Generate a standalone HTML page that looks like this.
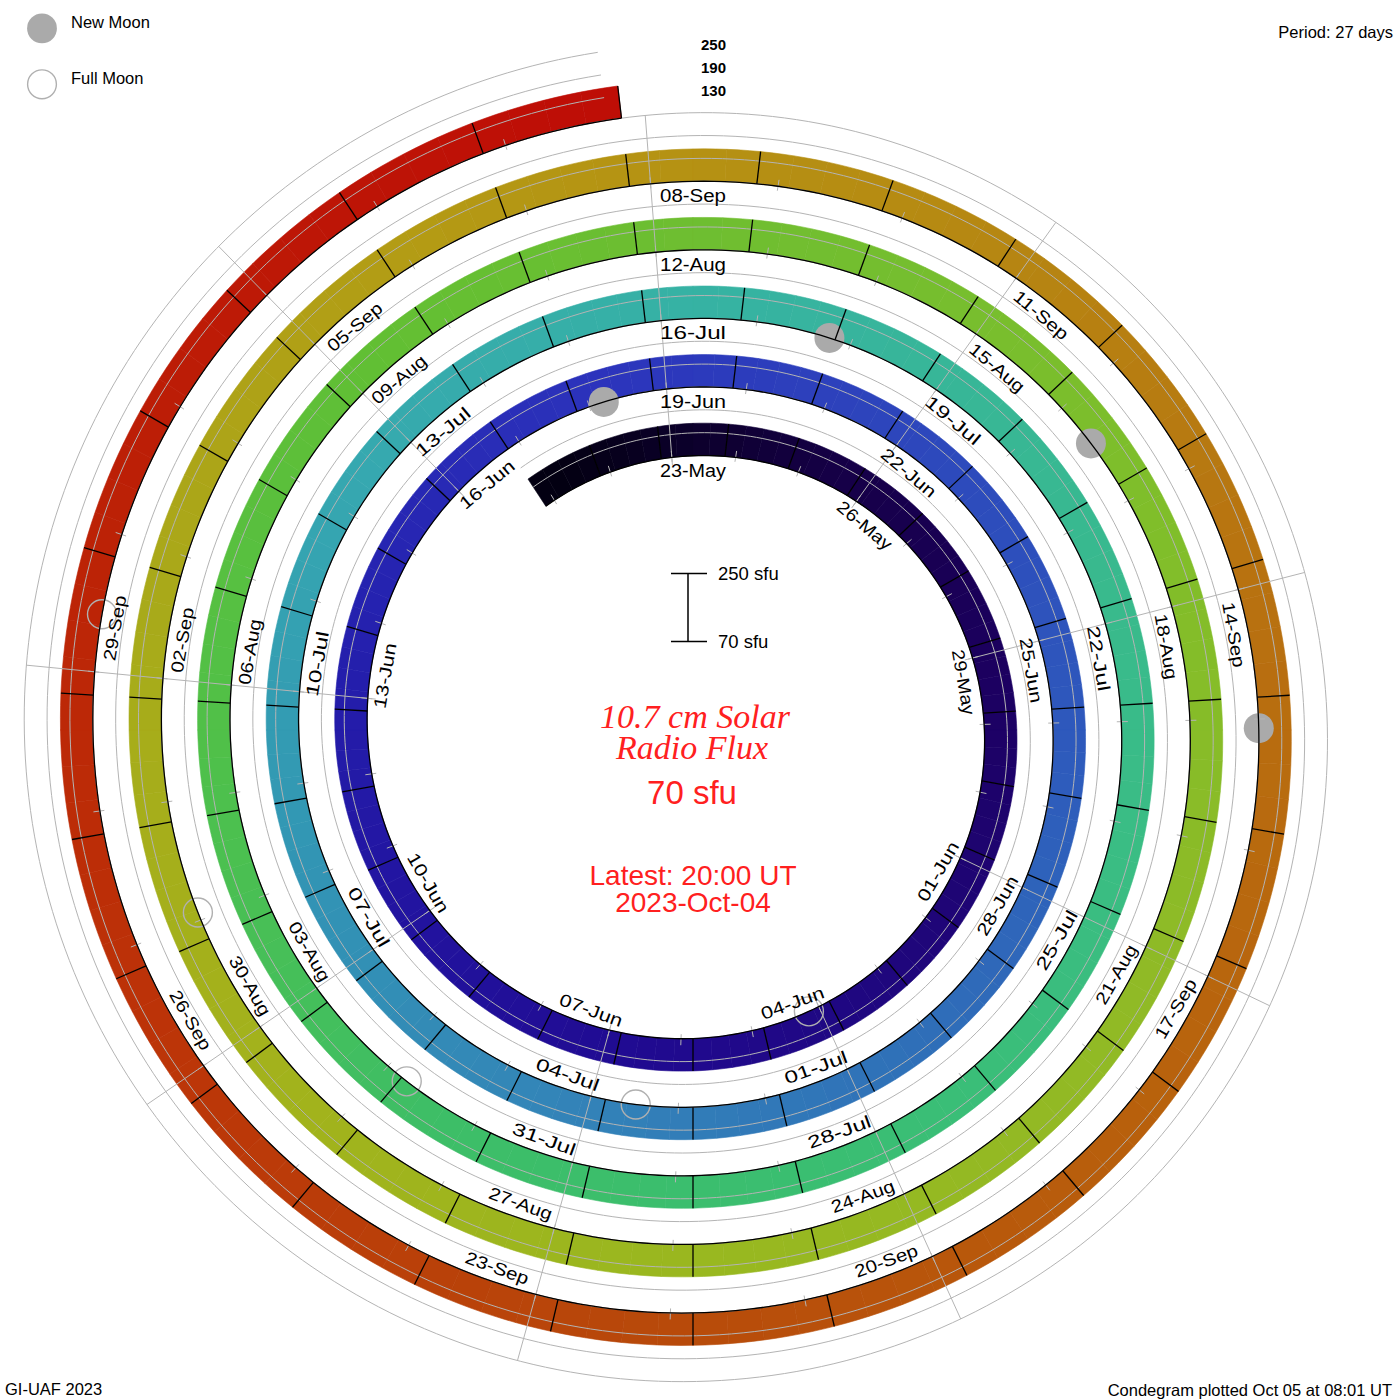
<!DOCTYPE html>
<html><head><meta charset="utf-8"><style>
html,body{margin:0;padding:0;background:#fff;width:1400px;height:1400px;overflow:hidden}
svg{display:block}
text{font-family:"Liberation Sans",sans-serif}
.lb{font-size:17.5px;fill:#000;text-anchor:middle}
.sm{font-size:16.5px;fill:#000}
.red{fill:#ff2020}
</style></head><body>
<svg width="1400" height="1400" viewBox="0 0 1400 1400" xmlns="http://www.w3.org/2000/svg">
<rect width="1400" height="1400" fill="#fff"/>
<path fill="#030012" stroke="#030012" stroke-width="0.6" d="M527.99,479.11 532.77,475.78 537.62,472.54 542.54,469.39 558.73,497.44 554.36,500.27 550.04,503.18 545.79,506.17Z"/>
<path fill="#030012" stroke="#030012" stroke-width="0.6" d="M542.54,469.39 547.51,466.33 552.56,463.37 557.66,460.51 572.2,489.46 567.65,492.04 563.17,494.7 558.73,497.44Z"/>
<path fill="#040014" stroke="#040014" stroke-width="0.6" d="M557.66,460.51 562.82,457.75 568.03,455.08 573.3,452.52 586.14,482.26 581.44,484.57 576.79,486.97 572.2,489.46Z"/>
<path fill="#050017" stroke="#050017" stroke-width="0.6" d="M573.3,452.52 578.63,450.05 584,447.69 589.42,445.43 600.5,475.87 595.67,477.91 590.88,480.04 586.14,482.26Z"/>
<path fill="#06001a" stroke="#06001a" stroke-width="0.6" d="M589.42,445.43 594.89,443.27 600.41,441.22 605.96,439.28 615.25,470.31 610.3,472.07 605.38,473.92 600.5,475.87Z"/>
<path fill="#07001d" stroke="#07001d" stroke-width="0.6" d="M605.96,439.28 611.56,437.44 617.2,435.71 622.87,434.09 630.34,465.61 625.28,467.08 620.25,468.65 615.25,470.31Z"/>
<path fill="#080020" stroke="#080020" stroke-width="0.6" d="M622.87,434.09 628.58,432.58 634.31,431.18 640.08,429.89 645.71,461.79 640.56,462.97 635.43,464.24 630.34,465.61Z"/>
<path fill="#090024" stroke="#090024" stroke-width="0.6" d="M640.08,429.89 645.88,428.71 651.7,427.64 657.55,426.69 661.31,458.86 656.09,459.74 650.88,460.72 645.71,461.79Z"/>
<path fill="#0a0027" stroke="#0a0027" stroke-width="0.6" d="M657.55,426.69 663.42,425.85 669.3,425.12 675.21,424.51 677.09,456.85 671.81,457.42 666.55,458.09 661.31,458.86Z"/>
<path fill="#0b002a" stroke="#0b002a" stroke-width="0.6" d="M675.21,424.51 681.13,424.01 687.06,423.62 693,423.35 693,455.75 687.69,456.01 682.38,456.38 677.09,456.85Z"/>
<path fill="#0d002d" stroke="#0d002d" stroke-width="0.6" d="M693,423.35 698.95,423.2 704.91,423.16 710.87,423.24 708.98,455.58 703.65,455.53 698.32,455.59 693,455.75Z"/>
<path fill="#0e0030" stroke="#0e0030" stroke-width="0.6" d="M710.87,423.24 716.83,423.43 722.79,423.74 728.75,424.17 724.99,456.34 719.65,455.98 714.32,455.73 708.98,455.58Z"/>
<path fill="#0f0033" stroke="#0f0033" stroke-width="0.6" d="M728.75,424.17 734.7,424.71 740.64,425.36 746.58,426.14 740.95,458.04 735.64,457.37 730.32,456.8 724.99,456.34Z"/>
<path fill="#100037" stroke="#100037" stroke-width="0.6" d="M746.58,426.14 752.5,427.02 758.41,428.03 764.3,429.15 756.83,460.67 751.55,459.69 746.26,458.81 740.95,458.04Z"/>
<path fill="#11003a" stroke="#11003a" stroke-width="0.6" d="M764.3,429.15 770.18,430.38 776.03,431.73 781.86,433.19 772.57,464.23 767.34,462.94 762.1,461.75 756.83,460.67Z"/>
<path fill="#12003d" stroke="#12003d" stroke-width="0.6" d="M781.86,433.19 787.66,434.77 793.44,436.46 799.18,438.27 788.1,468.71 782.95,467.11 777.77,465.62 772.57,464.23Z"/>
<path fill="#130040" stroke="#130040" stroke-width="0.6" d="M799.18,438.27 804.9,440.18 810.58,442.21 816.22,444.35 803.39,474.09 798.32,472.2 793.23,470.4 788.1,468.71Z"/>
<path fill="#140043" stroke="#140043" stroke-width="0.6" d="M816.22,444.35 821.82,446.6 827.38,448.96 832.9,451.43 818.36,480.38 813.41,478.19 808.42,476.09 803.39,474.09Z"/>
<path fill="#150046" stroke="#150046" stroke-width="0.6" d="M832.9,451.43 838.38,454.01 843.8,456.69 849.18,459.49 832.98,487.54 828.15,485.06 823.28,482.67 818.36,480.38Z"/>
<path fill="#160048" stroke="#160048" stroke-width="0.6" d="M849.18,459.49 854.51,462.38 859.78,465.39 865,468.49 847.19,495.56 842.51,492.79 837.77,490.12 832.98,487.54Z"/>
<path fill="#160049" stroke="#160049" stroke-width="0.6" d="M865,468.49 870.15,471.7 875.25,475.02 880.29,478.43 860.94,504.41 856.42,501.37 851.83,498.42 847.19,495.56Z"/>
<path fill="#17004b" stroke="#17004b" stroke-width="0.6" d="M880.29,478.43 885.26,481.94 890.17,485.55 895.01,489.26 874.19,514.07 869.83,510.76 865.42,507.54 860.94,504.41Z"/>
<path fill="#17004d" stroke="#17004d" stroke-width="0.6" d="M895.01,489.26 899.78,493.06 904.48,496.96 909.1,500.95 886.87,524.51 882.71,520.95 878.48,517.47 874.19,514.07Z"/>
<path fill="#17004e" stroke="#17004e" stroke-width="0.6" d="M909.1,500.95 913.65,505.03 918.12,509.2 922.51,513.46 898.95,535.69 894.99,531.89 890.97,528.16 886.87,524.51Z"/>
<path fill="#180050" stroke="#180050" stroke-width="0.6" d="M922.51,513.46 926.83,517.81 931.06,522.25 935.2,526.77 910.39,547.59 906.65,543.55 902.84,539.58 898.95,535.69Z"/>
<path fill="#180052" stroke="#180052" stroke-width="0.6" d="M935.2,526.77 939.26,531.37 943.24,536.05 947.12,540.81 921.14,560.16 917.63,555.9 914.05,551.71 910.39,547.59Z"/>
<path fill="#190053" stroke="#190053" stroke-width="0.6" d="M947.12,540.81 950.91,545.65 954.61,550.57 958.22,555.56 931.16,573.36 927.9,568.89 924.56,564.49 921.14,560.16Z"/>
<path fill="#190055" stroke="#190055" stroke-width="0.6" d="M958.22,555.56 961.73,560.62 965.15,565.76 968.47,570.96 940.41,587.16 937.41,582.5 934.33,577.9 931.16,573.36Z"/>
<path fill="#1a0057" stroke="#1a0057" stroke-width="0.6" d="M968.47,570.96 971.68,576.23 974.8,581.56 977.81,586.96 948.87,601.5 946.14,596.66 943.32,591.88 940.41,587.16Z"/>
<path fill="#1a0058" stroke="#1a0058" stroke-width="0.6" d="M977.81,586.96 980.73,592.42 983.53,597.94 986.23,603.51 956.49,616.34 954.04,611.34 951.5,606.39 948.87,601.5Z"/>
<path fill="#1a005a" stroke="#1a005a" stroke-width="0.6" d="M986.23,603.51 988.83,609.14 991.31,614.82 993.69,620.56 963.25,631.64 961.09,626.49 958.84,621.39 956.49,616.34Z"/>
<path fill="#1b005c" stroke="#1b005c" stroke-width="0.6" d="M993.69,620.56 995.95,626.34 998.11,632.17 1000.15,638.05 969.12,647.34 967.26,642.06 965.3,636.83 963.25,631.64Z"/>
<path fill="#1b005d" stroke="#1b005d" stroke-width="0.6" d="M1000.15,638.05 1002.08,643.96 1003.9,649.92 1005.6,655.91 974.07,663.38 972.53,658 970.87,652.65 969.12,647.34Z"/>
<path fill="#1c005f" stroke="#1c005f" stroke-width="0.6" d="M1005.6,655.91 1007.18,661.94 1008.65,668.01 1010,674.1 978.1,679.73 976.86,674.25 975.52,668.8 974.07,663.38Z"/>
<path fill="#1c0061" stroke="#1c0061" stroke-width="0.6" d="M1010,674.1 1011.23,680.23 1012.35,686.38 1013.35,692.56 981.17,696.32 980.25,690.76 979.23,685.23 978.1,679.73Z"/>
<path fill="#1c0162" stroke="#1c0162" stroke-width="0.6" d="M1013.35,692.56 1014.22,698.76 1014.98,704.97 1015.61,711.21 983.27,713.09 982.68,707.48 981.98,701.89 981.17,696.32Z"/>
<path fill="#1c0164" stroke="#1c0164" stroke-width="0.6" d="M1015.61,711.21 1016.13,717.46 1016.52,723.73 1016.8,730 984.4,730 984.14,724.35 983.76,718.72 983.27,713.09Z"/>
<path fill="#1d0166" stroke="#1d0166" stroke-width="0.6" d="M1016.8,730 1016.95,736.28 1016.98,742.57 1016.88,748.86 984.54,746.98 984.61,741.32 984.56,735.65 984.4,730Z"/>
<path fill="#1d0267" stroke="#1d0267" stroke-width="0.6" d="M1016.88,748.86 1016.67,755.16 1016.33,761.45 1015.87,767.74 983.69,763.98 984.09,758.31 984.37,752.65 984.54,746.98Z"/>
<path fill="#1d0269" stroke="#1d0269" stroke-width="0.6" d="M1015.87,767.74 1015.29,774.02 1014.58,780.29 1013.75,786.56 981.85,780.93 982.58,775.29 983.19,769.64 983.69,763.98Z"/>
<path fill="#1d026b" stroke="#1d026b" stroke-width="0.6" d="M1013.75,786.56 1012.8,792.81 1011.73,799.04 1010.54,805.26 979.02,797.79 980.07,792.18 981.02,786.56 981.85,780.93Z"/>
<path fill="#1d036c" stroke="#1d036c" stroke-width="0.6" d="M1010.54,805.26 1009.23,811.45 1007.79,817.63 1006.24,823.78 975.2,814.49 976.58,808.94 977.86,803.37 979.02,797.79Z"/>
<path fill="#1e036e" stroke="#1e036e" stroke-width="0.6" d="M1006.24,823.78 1004.56,829.9 1002.76,835.99 1000.85,842.05 970.41,830.97 972.11,825.5 973.71,820.01 975.2,814.49Z"/>
<path fill="#1e046f" stroke="#1e046f" stroke-width="0.6" d="M1000.85,842.05 998.82,848.07 996.67,854.06 994.4,860.01 964.65,847.18 966.68,841.81 968.6,836.41 970.41,830.97Z"/>
<path fill="#1e0471" stroke="#1e0471" stroke-width="0.6" d="M994.4,860.01 992.01,865.92 989.51,871.78 986.9,877.6 957.95,863.06 960.29,857.81 962.52,852.51 964.65,847.18Z"/>
<path fill="#1e0473" stroke="#1e0473" stroke-width="0.6" d="M986.9,877.6 984.17,883.37 981.32,889.09 978.37,894.76 950.31,878.56 952.96,873.44 955.5,868.27 957.95,863.06Z"/>
<path fill="#1e0574" stroke="#1e0574" stroke-width="0.6" d="M978.37,894.76 975.3,900.37 972.12,905.92 968.83,911.42 941.77,893.62 944.72,888.65 947.56,883.63 950.31,878.56Z"/>
<path fill="#1f0576" stroke="#1f0576" stroke-width="0.6" d="M968.83,911.42 965.44,916.85 961.94,922.22 958.33,927.53 932.34,908.19 935.58,903.39 938.72,898.53 941.77,893.62Z"/>
<path fill="#1f0578" stroke="#1f0578" stroke-width="0.6" d="M958.33,927.53 954.62,932.77 950.8,937.94 946.88,943.03 922.07,922.21 925.58,917.6 929.01,912.92 932.34,908.19Z"/>
<path fill="#1f0679" stroke="#1f0679" stroke-width="0.6" d="M946.88,943.03 942.86,948.05 938.74,953 934.53,957.87 910.96,935.64 914.75,931.23 918.45,926.75 922.07,922.21Z"/>
<path fill="#1f067b" stroke="#1f067b" stroke-width="0.6" d="M934.53,957.87 930.21,962.66 925.81,967.37 921.3,971.99 899.07,948.43 903.12,944.24 907.09,939.97 910.96,935.64Z"/>
<path fill="#1f067c" stroke="#1f067c" stroke-width="0.6" d="M921.3,971.99 916.71,976.53 912.03,980.98 907.26,985.34 886.43,960.53 890.73,956.57 894.94,952.54 899.07,948.43Z"/>
<path fill="#1f077d" stroke="#1f077d" stroke-width="0.6" d="M907.26,985.34 902.4,989.61 897.45,993.79 892.43,997.88 873.08,971.89 877.61,968.19 882.06,964.4 886.43,960.53Z"/>
<path fill="#1f077f" stroke="#1f077f" stroke-width="0.6" d="M892.43,997.88 887.32,1001.87 882.13,1005.76 876.86,1009.55 859.06,982.48 863.81,979.04 868.48,975.51 873.08,971.89Z"/>
<path fill="#1f0780" stroke="#1f0780" stroke-width="0.6" d="M876.86,1009.55 871.52,1013.24 866.1,1016.83 860.61,1020.32 844.42,992.26 849.37,989.1 854.25,985.84 859.06,982.48Z"/>
<path fill="#1f0782" stroke="#1f0782" stroke-width="0.6" d="M860.61,1020.32 855.06,1023.7 849.43,1026.97 843.74,1030.14 829.2,1001.19 834.33,998.31 839.41,995.34 844.42,992.26Z"/>
<path fill="#1f0883" stroke="#1f0883" stroke-width="0.6" d="M843.74,1030.14 837.98,1033.2 832.16,1036.14 826.28,1038.98 813.45,1009.23 818.75,1006.65 824,1003.97 829.2,1001.19Z"/>
<path fill="#1f0884" stroke="#1f0884" stroke-width="0.6" d="M826.28,1038.98 820.34,1041.7 814.35,1044.31 808.31,1046.8 797.23,1016.36 802.68,1014.09 808.09,1011.71 813.45,1009.23Z"/>
<path fill="#200886" stroke="#200886" stroke-width="0.6" d="M808.31,1046.8 802.21,1049.18 796.07,1051.44 789.87,1053.58 780.58,1022.55 786.17,1020.59 791.72,1018.53 797.23,1016.36Z"/>
<path fill="#200887" stroke="#200887" stroke-width="0.6" d="M789.87,1053.58 783.64,1055.6 777.36,1057.5 771.04,1059.28 763.57,1027.76 769.28,1026.13 774.95,1024.39 780.58,1022.55Z"/>
<path fill="#200988" stroke="#200988" stroke-width="0.6" d="M771.04,1059.28 764.69,1060.94 758.3,1062.48 751.87,1063.89 746.25,1031.99 752.05,1030.69 757.83,1029.28 763.57,1027.76Z"/>
<path fill="#20098a" stroke="#20098a" stroke-width="0.6" d="M751.87,1063.89 745.42,1065.18 738.94,1066.34 732.43,1067.38 728.67,1035.2 734.56,1034.24 740.42,1033.17 746.25,1031.99Z"/>
<path fill="#20098b" stroke="#20098b" stroke-width="0.6" d="M732.43,1067.38 725.9,1068.29 719.35,1069.08 712.79,1069.74 710.9,1037.4 716.84,1036.78 722.77,1036.05 728.67,1035.2Z"/>
<path fill="#20098d" stroke="#20098d" stroke-width="0.6" d="M712.79,1069.74 706.2,1070.27 699.61,1070.67 693,1070.95 693,1038.55 698.98,1038.28 704.95,1037.9 710.9,1037.4Z"/>
<path fill="#200a8e" stroke="#200a8e" stroke-width="0.6" d="M693,1070.95 686.38,1071.09 679.76,1071.11 673.14,1071 675.02,1038.66 681.02,1038.74 687.01,1038.71 693,1038.55Z"/>
<path fill="#200a8f" stroke="#200a8f" stroke-width="0.6" d="M673.14,1071 666.51,1070.77 659.89,1070.4 653.27,1069.9 657.03,1037.73 663.03,1038.16 669.02,1038.47 675.02,1038.66Z"/>
<path fill="#200a90" stroke="#200a90" stroke-width="0.6" d="M653.27,1069.9 646.66,1069.28 640.06,1068.52 633.46,1067.64 639.09,1035.74 645.06,1036.52 651.04,1037.18 657.03,1037.73Z"/>
<path fill="#200b92" stroke="#200b92" stroke-width="0.6" d="M633.46,1067.64 626.89,1066.63 620.33,1065.49 613.79,1064.23 621.26,1032.71 627.19,1033.83 633.13,1034.85 639.09,1035.74Z"/>
<path fill="#200c92" stroke="#200c92" stroke-width="0.6" d="M613.79,1064.23 607.27,1062.83 600.77,1061.31 594.3,1059.67 603.6,1028.63 609.46,1030.11 615.35,1031.46 621.26,1032.71Z"/>
<path fill="#200c94" stroke="#200c94" stroke-width="0.6" d="M594.3,1059.67 587.87,1057.89 581.46,1055.99 575.09,1053.97 586.17,1023.53 591.95,1025.34 597.76,1027.04 603.6,1028.63Z"/>
<path fill="#210d94" stroke="#210d94" stroke-width="0.6" d="M575.09,1053.97 568.75,1051.82 562.45,1049.54 556.2,1047.14 569.03,1017.4 574.7,1019.55 580.42,1021.6 586.17,1023.53Z"/>
<path fill="#210d96" stroke="#210d96" stroke-width="0.6" d="M556.2,1047.14 549.99,1044.63 543.82,1041.98 537.7,1039.22 552.24,1010.27 557.79,1012.76 563.39,1015.13 569.03,1017.4Z"/>
<path fill="#210e96" stroke="#210e96" stroke-width="0.6" d="M537.7,1039.22 531.64,1036.34 525.62,1033.34 519.67,1030.22 535.87,1002.16 541.28,1004.97 546.73,1007.68 552.24,1010.27Z"/>
<path fill="#210f98" stroke="#210f98" stroke-width="0.6" d="M519.67,1030.22 513.77,1026.98 507.93,1023.63 502.16,1020.16 519.96,993.1 525.2,996.23 530.51,999.25 535.87,1002.16Z"/>
<path fill="#210f98" stroke="#210f98" stroke-width="0.6" d="M502.16,1020.16 496.45,1016.58 490.8,1012.89 485.23,1009.09 504.57,983.1 509.64,986.53 514.77,989.87 519.96,993.1Z"/>
<path fill="#21109a" stroke="#21109a" stroke-width="0.6" d="M485.23,1009.09 479.73,1005.17 474.3,1001.15 468.94,997.02 489.77,972.2 494.63,975.93 499.57,979.57 504.57,983.1Z"/>
<path fill="#21119a" stroke="#21119a" stroke-width="0.6" d="M468.94,997.02 463.67,992.78 458.47,988.44 453.36,984 475.59,960.44 480.24,964.45 484.97,968.38 489.77,972.2Z"/>
<path fill="#21119c" stroke="#21119c" stroke-width="0.6" d="M453.36,984 448.33,979.46 443.39,974.81 438.54,970.07 462.1,947.84 466.52,952.13 471.02,956.33 475.59,960.44Z"/>
<path fill="#22129c" stroke="#22129c" stroke-width="0.6" d="M438.54,970.07 433.77,965.24 429.1,960.3 424.52,955.28 449.34,934.46 453.51,939 457.76,943.47 462.1,947.84Z"/>
<path fill="#22129e" stroke="#22129e" stroke-width="0.6" d="M424.52,955.28 420.04,950.16 415.65,944.96 411.37,939.67 437.35,920.32 441.26,925.12 445.25,929.83 449.34,934.46Z"/>
<path fill="#22139e" stroke="#22139e" stroke-width="0.6" d="M411.37,939.67 407.18,934.29 403.1,928.83 399.12,923.29 426.19,905.49 429.81,910.51 433.54,915.45 437.35,920.32Z"/>
<path fill="#2214a0" stroke="#2214a0" stroke-width="0.6" d="M399.12,923.29 395.25,917.66 391.49,911.96 387.83,906.19 415.88,889.99 419.22,895.23 422.66,900.39 426.19,905.49Z"/>
<path fill="#2214a0" stroke="#2214a0" stroke-width="0.6" d="M387.83,906.19 384.29,900.34 380.85,894.42 377.53,888.43 406.48,873.89 409.51,879.32 412.65,884.69 415.88,889.99Z"/>
<path fill="#2215a2" stroke="#2215a2" stroke-width="0.6" d="M377.53,888.43 374.33,882.38 371.24,876.26 368.27,870.07 398.02,857.24 400.73,862.85 403.56,868.4 406.48,873.89Z"/>
<path fill="#2216a2" stroke="#2216a2" stroke-width="0.6" d="M368.27,870.07 365.42,863.83 362.69,857.53 360.08,851.17 390.52,840.09 392.91,845.86 395.41,851.58 398.02,857.24Z"/>
<path fill="#2317a4" stroke="#2317a4" stroke-width="0.6" d="M360.08,851.17 357.59,844.76 355.23,838.3 352.99,831.79 384.02,822.5 386.08,828.41 388.24,834.28 390.52,840.09Z"/>
<path fill="#2318a4" stroke="#2318a4" stroke-width="0.6" d="M352.99,831.79 350.88,825.24 348.89,818.64 347.03,812 378.55,804.53 380.26,810.56 382.08,816.55 384.02,822.5Z"/>
<path fill="#2319a6" stroke="#2319a6" stroke-width="0.6" d="M347.03,812 345.3,805.32 343.69,798.6 342.22,791.85 374.12,786.23 375.48,792.36 376.96,798.46 378.55,804.53Z"/>
<path fill="#231aa6" stroke="#231aa6" stroke-width="0.6" d="M342.22,791.85 340.88,785.07 339.67,778.26 338.59,771.42 370.76,767.66 371.76,773.88 372.88,780.07 374.12,786.23Z"/>
<path fill="#231ba8" stroke="#231ba8" stroke-width="0.6" d="M338.59,771.42 337.64,764.56 336.82,757.68 336.14,750.78 368.48,748.9 369.12,755.17 369.88,761.43 370.76,767.66Z"/>
<path fill="#241ba8" stroke="#241ba8" stroke-width="0.6" d="M336.14,750.78 335.6,743.87 335.18,736.94 334.9,730 367.3,730 367.57,736.31 367.97,742.61 368.48,748.9Z"/>
<path fill="#241caa" stroke="#241caa" stroke-width="0.6" d="M334.9,730 334.76,723.05 334.75,716.1 334.88,709.14 367.22,711.02 367.12,717.35 367.15,723.68 367.3,730Z"/>
<path fill="#241daa" stroke="#241daa" stroke-width="0.6" d="M334.88,709.14 335.14,702.18 335.53,695.23 336.06,688.28 368.24,692.04 367.77,698.37 367.43,704.69 367.22,711.02Z"/>
<path fill="#241eac" stroke="#241eac" stroke-width="0.6" d="M336.06,688.28 336.73,681.34 337.53,674.41 338.47,667.49 370.37,673.11 369.54,679.41 368.83,685.72 368.24,692.04Z"/>
<path fill="#241fac" stroke="#241fac" stroke-width="0.6" d="M338.47,667.49 339.54,660.58 340.74,653.7 342.08,646.83 373.61,654.3 372.4,660.55 371.33,666.83 370.37,673.11Z"/>
<path fill="#2520ae" stroke="#2520ae" stroke-width="0.6" d="M342.08,646.83 343.56,639.99 345.16,633.17 346.91,626.39 377.94,635.68 376.37,641.86 374.93,648.07 373.61,654.3Z"/>
<path fill="#2521ae" stroke="#2521ae" stroke-width="0.6" d="M346.91,626.39 348.78,619.63 350.78,612.91 352.92,606.22 383.36,617.3 381.43,623.39 379.63,629.52 377.94,635.68Z"/>
<path fill="#2522b0" stroke="#2522b0" stroke-width="0.6" d="M352.92,606.22 355.19,599.57 357.58,592.97 360.11,586.4 389.85,599.23 387.57,605.22 385.41,611.24 383.36,617.3Z"/>
<path fill="#2523b0" stroke="#2523b0" stroke-width="0.6" d="M360.11,586.4 362.76,579.89 365.54,573.42 368.45,567.01 397.4,581.54 394.77,587.4 392.25,593.29 389.85,599.23Z"/>
<path fill="#2624b1" stroke="#2624b1" stroke-width="0.6" d="M368.45,567.01 371.49,560.64 374.65,554.34 377.93,548.09 405.98,564.29 403.01,569.99 400.15,575.74 397.4,581.54Z"/>
<path fill="#2625b2" stroke="#2625b2" stroke-width="0.6" d="M377.93,548.09 381.33,541.91 384.86,535.79 388.51,529.73 415.57,547.53 412.27,553.06 409.07,558.65 405.98,564.29Z"/>
<path fill="#2726b3" stroke="#2726b3" stroke-width="0.6" d="M388.51,529.73 392.27,523.75 396.16,517.83 400.16,511.99 426.14,531.33 422.51,536.67 418.99,542.07 415.57,547.53Z"/>
<path fill="#2727b3" stroke="#2727b3" stroke-width="0.6" d="M400.16,511.99 404.27,506.22 408.5,500.53 412.84,494.92 437.66,515.74 433.72,520.87 429.88,526.06 426.14,531.33Z"/>
<path fill="#2728b4" stroke="#2728b4" stroke-width="0.6" d="M412.84,494.92 417.3,489.39 421.86,483.95 426.52,478.59 450.09,500.82 445.85,505.72 441.7,510.69 437.66,515.74Z"/>
<path fill="#2829b5" stroke="#2829b5" stroke-width="0.6" d="M426.52,478.59 431.3,473.32 436.18,468.15 441.16,463.06 463.39,486.62 458.86,491.27 454.43,496.01 450.09,500.82Z"/>
<path fill="#282ab6" stroke="#282ab6" stroke-width="0.6" d="M441.16,463.06 446.24,458.07 451.42,453.18 456.7,448.38 477.52,473.2 472.72,477.59 468.01,482.06 463.39,486.62Z"/>
<path fill="#292cb6" stroke="#292cb6" stroke-width="0.6" d="M456.7,448.38 462.07,443.69 467.53,439.1 473.09,434.61 492.44,460.59 487.38,464.7 482.41,468.9 477.52,473.2Z"/>
<path fill="#292db7" stroke="#292db7" stroke-width="0.6" d="M473.09,434.61 478.74,430.23 484.47,425.96 490.29,421.79 508.09,448.86 502.79,452.67 497.57,456.58 492.44,460.59Z"/>
<path fill="#2a2eb8" stroke="#2a2eb8" stroke-width="0.6" d="M490.29,421.79 496.19,417.74 502.17,413.8 508.24,409.98 524.43,438.03 518.91,441.54 513.46,445.15 508.09,448.86Z"/>
<path fill="#2a2fb9" stroke="#2a2fb9" stroke-width="0.6" d="M508.24,409.98 514.37,406.27 520.59,402.68 526.87,399.21 541.41,428.16 535.68,431.34 530.02,434.63 524.43,438.03Z"/>
<path fill="#2a30b9" stroke="#2a30b9" stroke-width="0.6" d="M526.87,399.21 533.22,395.86 539.65,392.63 546.13,389.53 558.96,419.27 553.05,422.12 547.2,425.08 541.41,428.16Z"/>
<path fill="#2b31ba" stroke="#2b31ba" stroke-width="0.6" d="M546.13,389.53 552.68,386.55 559.29,383.69 565.96,380.97 577.04,411.41 570.96,413.91 564.94,416.53 558.96,419.27Z"/>
<path fill="#2b32bb" stroke="#2b32bb" stroke-width="0.6" d="M565.96,380.97 572.69,378.37 579.46,375.9 586.29,373.56 595.58,404.59 589.35,406.75 583.17,409.02 577.04,411.41Z"/>
<path fill="#2c33bc" stroke="#2c33bc" stroke-width="0.6" d="M586.29,373.56 593.16,371.35 600.08,369.28 607.05,367.34 614.52,398.86 608.17,400.65 601.85,402.56 595.58,404.59Z"/>
<path fill="#2c35bc" stroke="#2c35bc" stroke-width="0.6" d="M607.05,367.34 614.05,365.54 621.09,363.87 628.17,362.33 633.8,394.23 627.34,395.65 620.91,397.2 614.52,398.86Z"/>
<path fill="#2c36bc" stroke="#2c36bc" stroke-width="0.6" d="M628.17,362.33 635.28,360.93 642.42,359.67 649.58,358.55 653.35,390.73 646.8,391.77 640.28,392.94 633.8,394.23Z"/>
<path fill="#2c37bc" stroke="#2c37bc" stroke-width="0.6" d="M649.58,358.55 656.77,357.57 663.99,356.73 671.22,356.02 673.1,388.36 666.5,389.02 659.91,389.81 653.35,390.73Z"/>
<path fill="#2c38bc" stroke="#2c38bc" stroke-width="0.6" d="M671.22,356.02 678.47,355.46 685.73,355.04 693,354.75 693,387.15 686.36,387.42 679.72,387.83 673.1,388.36Z"/>
<path fill="#2c3abc" stroke="#2c3abc" stroke-width="0.6" d="M693,354.75 700.28,354.61 707.57,354.61 714.86,354.75 712.97,387.09 706.31,386.98 699.65,387 693,387.15Z"/>
<path fill="#2c3bbc" stroke="#2c3bbc" stroke-width="0.6" d="M714.86,354.75 722.14,355.04 729.43,355.46 736.71,356.03 732.95,388.2 726.29,387.7 719.63,387.33 712.97,387.09Z"/>
<path fill="#2c3cbc" stroke="#2c3cbc" stroke-width="0.6" d="M736.71,356.03 743.98,356.74 751.24,357.59 758.49,358.58 752.87,390.48 746.24,389.59 739.6,388.83 732.95,388.2Z"/>
<path fill="#2c3dbc" stroke="#2c3dbc" stroke-width="0.6" d="M758.49,358.58 765.72,359.71 772.93,360.98 780.12,362.4 772.65,393.92 766.08,392.64 759.48,391.5 752.87,390.48Z"/>
<path fill="#2d3fbc" stroke="#2d3fbc" stroke-width="0.6" d="M780.12,362.4 787.29,363.95 794.43,365.64 801.53,367.48 792.24,398.51 785.74,396.85 779.21,395.32 772.65,393.92Z"/>
<path fill="#2d40bc" stroke="#2d40bc" stroke-width="0.6" d="M801.53,367.48 808.61,369.45 815.65,371.56 822.65,373.8 811.57,404.24 805.16,402.21 798.72,400.29 792.24,398.51Z"/>
<path fill="#2d41bc" stroke="#2d41bc" stroke-width="0.6" d="M822.65,373.8 829.6,376.19 836.52,378.71 843.39,381.36 830.56,411.11 824.27,408.69 817.94,406.41 811.57,404.24Z"/>
<path fill="#2d42bc" stroke="#2d42bc" stroke-width="0.6" d="M843.39,381.36 850.21,384.15 856.98,387.07 863.69,390.13 849.15,419.08 843,416.3 836.8,413.64 830.56,411.11Z"/>
<path fill="#2d44bc" stroke="#2d44bc" stroke-width="0.6" d="M863.69,390.13 870.35,393.31 876.95,396.63 883.48,400.08 867.28,428.13 861.3,424.99 855.25,421.97 849.15,419.08Z"/>
<path fill="#2d45bc" stroke="#2d45bc" stroke-width="0.6" d="M883.48,400.08 889.95,403.65 896.36,407.35 902.69,411.18 884.89,438.24 879.08,434.76 873.21,431.39 867.28,428.13Z"/>
<path fill="#2d46bc" stroke="#2d46bc" stroke-width="0.6" d="M902.69,411.18 908.95,415.13 915.14,419.21 921.25,423.4 901.91,449.39 896.31,445.56 890.63,441.85 884.89,438.24Z"/>
<path fill="#2d47bc" stroke="#2d47bc" stroke-width="0.6" d="M921.25,423.4 927.29,427.72 933.24,432.15 939.1,436.71 918.28,461.52 912.9,457.37 907.44,453.32 901.91,449.39Z"/>
<path fill="#2d49bc" stroke="#2d49bc" stroke-width="0.6" d="M939.1,436.71 944.88,441.37 950.58,446.16 956.18,451.05 933.95,474.61 928.81,470.15 923.58,465.78 918.28,461.52Z"/>
<path fill="#2d4abc" stroke="#2d4abc" stroke-width="0.6" d="M956.18,451.05 961.68,456.05 967.1,461.17 972.41,466.39 948.85,488.62 943.97,483.85 939,479.18 933.95,474.61Z"/>
<path fill="#2d4bbc" stroke="#2d4bbc" stroke-width="0.6" d="M972.41,466.39 977.63,471.71 982.74,477.14 987.75,482.67 962.94,503.49 958.34,498.44 953.64,493.48 948.85,488.62Z"/>
<path fill="#2d4cbc" stroke="#2d4cbc" stroke-width="0.6" d="M987.75,482.67 992.66,488.3 997.46,494.03 1002.15,499.85 976.16,519.19 971.85,513.87 967.44,508.64 962.94,503.49Z"/>
<path fill="#2d4dbc" stroke="#2d4dbc" stroke-width="0.6" d="M1002.15,499.85 1006.72,505.76 1011.19,511.77 1015.54,517.87 988.47,535.67 984.47,530.09 980.37,524.6 976.16,519.19Z"/>
<path fill="#2d4ebc" stroke="#2d4ebc" stroke-width="0.6" d="M1015.54,517.87 1019.77,524.05 1023.88,530.31 1027.87,536.66 999.82,552.86 996.15,547.05 992.36,541.32 988.47,535.67Z"/>
<path fill="#2d4fbc" stroke="#2d4fbc" stroke-width="0.6" d="M1027.87,536.66 1031.75,543.09 1035.49,549.59 1039.12,556.17 1010.17,570.71 1006.83,564.69 1003.38,558.74 999.82,552.86Z"/>
<path fill="#2d50bc" stroke="#2d50bc" stroke-width="0.6" d="M1039.12,556.17 1042.61,562.83 1045.98,569.55 1049.22,576.34 1019.48,589.17 1016.49,582.96 1013.39,576.8 1010.17,570.71Z"/>
<path fill="#2e52bc" stroke="#2e52bc" stroke-width="0.6" d="M1049.22,576.34 1052.33,583.2 1055.31,590.12 1058.15,597.1 1027.71,608.18 1025.09,601.78 1022.34,595.45 1019.48,589.17Z"/>
<path fill="#2e53bc" stroke="#2e53bc" stroke-width="0.6" d="M1058.15,597.1 1060.86,604.13 1063.43,611.23 1065.87,618.37 1034.84,627.66 1032.59,621.12 1030.21,614.62 1027.71,608.18Z"/>
<path fill="#2e54bc" stroke="#2e54bc" stroke-width="0.6" d="M1065.87,618.37 1068.17,625.57 1070.33,632.81 1072.35,640.09 1040.83,647.56 1038.96,640.89 1036.96,634.25 1034.84,627.66Z"/>
<path fill="#2e55bc" stroke="#2e55bc" stroke-width="0.6" d="M1072.35,640.09 1074.23,647.42 1075.96,654.79 1077.56,662.19 1045.66,667.82 1044.18,661.03 1042.57,654.28 1040.83,647.56Z"/>
<path fill="#2e56bc" stroke="#2e56bc" stroke-width="0.6" d="M1077.56,662.19 1079.01,669.63 1080.32,677.1 1081.48,684.59 1049.31,688.35 1048.22,681.48 1047,674.63 1045.66,667.82Z"/>
<path fill="#2e57bc" stroke="#2e57bc" stroke-width="0.6" d="M1081.48,684.59 1082.5,692.11 1083.37,699.66 1084.1,707.22 1051.76,709.1 1051.07,702.17 1050.26,695.25 1049.31,688.35Z"/>
<path fill="#2e58bc" stroke="#2e58bc" stroke-width="0.6" d="M1084.1,707.22 1084.68,714.8 1085.11,722.4 1085.4,730 1053,730 1052.72,723.02 1052.31,716.06 1051.76,709.1Z"/>
<path fill="#2e59bc" stroke="#2e59bc" stroke-width="0.6" d="M1085.4,730 1085.53,737.61 1085.52,745.23 1085.37,752.85 1053.03,750.97 1053.15,743.98 1053.15,736.99 1053,730Z"/>
<path fill="#2e5bbc" stroke="#2e5bbc" stroke-width="0.6" d="M1085.37,752.85 1085.06,760.47 1084.61,768.09 1084,775.7 1051.83,771.94 1052.36,764.95 1052.76,757.96 1053.03,750.97Z"/>
<path fill="#2e5cbc" stroke="#2e5cbc" stroke-width="0.6" d="M1084,775.7 1083.25,783.3 1082.36,790.89 1081.31,798.47 1049.41,792.84 1050.35,785.89 1051.16,778.92 1051.83,771.94Z"/>
<path fill="#2e5dbb" stroke="#2e5dbb" stroke-width="0.6" d="M1081.31,798.47 1080.12,806.03 1078.78,813.57 1077.29,821.08 1045.77,813.61 1047.12,806.71 1048.33,799.79 1049.41,792.84Z"/>
<path fill="#2e5fbb" stroke="#2e5fbb" stroke-width="0.6" d="M1077.29,821.08 1075.66,828.57 1073.88,836.03 1071.95,843.45 1040.92,834.16 1042.67,827.34 1044.29,820.49 1045.77,813.61Z"/>
<path fill="#2e60bb" stroke="#2e60bb" stroke-width="0.6" d="M1071.95,843.45 1069.88,850.84 1067.67,858.2 1065.31,865.51 1034.87,854.43 1037.02,847.71 1039.04,840.95 1040.92,834.16Z"/>
<path fill="#2e62bb" stroke="#2e62bb" stroke-width="0.6" d="M1065.31,865.51 1062.81,872.78 1060.17,880.01 1057.39,887.18 1027.64,874.35 1030.18,867.75 1032.59,861.11 1034.87,854.43Z"/>
<path fill="#2e63ba" stroke="#2e63ba" stroke-width="0.6" d="M1057.39,887.18 1054.46,894.31 1051.4,901.38 1048.2,908.39 1019.25,893.85 1022.18,887.4 1024.97,880.9 1027.64,874.35Z"/>
<path fill="#2e64ba" stroke="#2e64ba" stroke-width="0.6" d="M1048.2,908.39 1044.86,915.34 1041.39,922.23 1037.78,929.06 1009.72,912.86 1013.02,906.58 1016.2,900.24 1019.25,893.85Z"/>
<path fill="#2f66ba" stroke="#2f66ba" stroke-width="0.6" d="M1037.78,929.06 1034.03,935.81 1030.16,942.5 1026.15,949.12 999.08,931.31 1002.75,925.23 1006.3,919.08 1009.72,912.86Z"/>
<path fill="#2f67ba" stroke="#2f67ba" stroke-width="0.6" d="M1026.15,949.12 1022.01,955.65 1017.75,962.12 1013.35,968.5 987.37,949.15 991.39,943.28 995.3,937.33 999.08,931.31Z"/>
<path fill="#2f68b9" stroke="#2f68b9" stroke-width="0.6" d="M1013.35,968.5 1008.84,974.79 1004.2,981 999.43,987.13 974.62,966.3 978.98,960.67 983.23,954.95 987.37,949.15Z"/>
<path fill="#2f6ab9" stroke="#2f6ab9" stroke-width="0.6" d="M999.43,987.13 994.55,993.16 989.54,999.1 984.42,1004.95 960.86,982.71 965.56,977.33 970.14,971.86 974.62,966.3Z"/>
<path fill="#2f6bb9" stroke="#2f6bb9" stroke-width="0.6" d="M984.42,1004.95 979.19,1010.69 973.84,1016.34 968.38,1021.89 946.15,998.32 951.16,993.21 956.06,988.01 960.86,982.71Z"/>
<path fill="#2f6db9" stroke="#2f6db9" stroke-width="0.6" d="M968.38,1021.89 962.81,1027.33 957.13,1032.66 951.35,1037.89 930.53,1013.08 935.83,1008.26 941.04,1003.34 946.15,998.32Z"/>
<path fill="#2f6eb8" stroke="#2f6eb8" stroke-width="0.6" d="M951.35,1037.89 945.47,1043.01 939.48,1048.01 933.39,1052.9 914.05,1026.92 919.63,1022.41 925.13,1017.79 930.53,1013.08Z"/>
<path fill="#2f6fb8" stroke="#2f6fb8" stroke-width="0.6" d="M933.39,1052.9 927.21,1057.68 920.93,1062.33 914.56,1066.86 896.76,1039.8 902.61,1035.62 908.37,1031.32 914.05,1026.92Z"/>
<path fill="#2f71b8" stroke="#2f71b8" stroke-width="0.6" d="M914.56,1066.86 908.1,1071.28 901.55,1075.56 894.91,1079.73 878.72,1051.67 884.81,1047.83 890.82,1043.87 896.76,1039.8Z"/>
<path fill="#2f72b8" stroke="#2f72b8" stroke-width="0.6" d="M894.91,1079.73 888.2,1083.76 881.4,1087.67 874.52,1091.44 859.98,1062.49 866.3,1059.01 872.55,1055.4 878.72,1051.67Z"/>
<path fill="#3073b8" stroke="#3073b8" stroke-width="0.6" d="M874.52,1091.44 867.57,1095.09 860.55,1098.6 853.45,1101.97 840.62,1072.22 847.14,1069.1 853.6,1065.86 859.98,1062.49Z"/>
<path fill="#3074b8" stroke="#3074b8" stroke-width="0.6" d="M853.45,1101.97 846.29,1105.21 839.06,1108.31 831.77,1111.27 820.69,1080.83 827.39,1078.09 834.04,1075.22 840.62,1072.22Z"/>
<path fill="#3076b8" stroke="#3076b8" stroke-width="0.6" d="M831.77,1111.27 824.42,1114.09 817.01,1116.76 809.55,1119.3 800.26,1088.27 807.12,1085.92 813.93,1083.44 820.69,1080.83Z"/>
<path fill="#3077b8" stroke="#3077b8" stroke-width="0.6" d="M809.55,1119.3 802.03,1121.69 794.47,1123.94 786.86,1126.03 779.39,1094.51 786.39,1092.56 793.35,1090.48 800.26,1088.27Z"/>
<path fill="#3178b8" stroke="#3178b8" stroke-width="0.6" d="M786.86,1126.03 779.21,1127.99 771.52,1129.79 763.79,1131.45 758.16,1099.55 765.27,1098 772.35,1096.33 779.39,1094.51Z"/>
<path fill="#3179b8" stroke="#3179b8" stroke-width="0.6" d="M763.79,1131.45 756.02,1132.95 748.22,1134.31 740.4,1135.52 736.64,1103.34 743.84,1102.21 751.02,1100.95 758.16,1099.55Z"/>
<path fill="#317bb8" stroke="#317bb8" stroke-width="0.6" d="M740.4,1135.52 732.55,1136.57 724.67,1137.47 716.78,1138.22 714.89,1105.88 722.16,1105.17 729.41,1104.33 736.64,1103.34Z"/>
<path fill="#317cb8" stroke="#317cb8" stroke-width="0.6" d="M716.78,1138.22 708.86,1138.82 700.94,1139.26 693,1139.55 693,1107.15 700.31,1106.87 707.61,1106.45 714.89,1105.88Z"/>
<path fill="#327db8" stroke="#327db8" stroke-width="0.6" d="M693,1139.55 685.05,1139.68 677.1,1139.66 669.15,1139.49 671.03,1107.15 678.36,1107.29 685.68,1107.29 693,1107.15Z"/>
<path fill="#327eb8" stroke="#327eb8" stroke-width="0.6" d="M669.15,1139.49 661.2,1139.16 653.25,1138.68 645.31,1138.04 649.07,1105.86 656.38,1106.43 663.71,1106.86 671.03,1107.15Z"/>
<path fill="#3280b8" stroke="#3280b8" stroke-width="0.6" d="M645.31,1138.04 637.37,1137.25 629.46,1136.3 621.55,1135.2 627.18,1103.3 634.46,1104.3 641.76,1105.15 649.07,1105.86Z"/>
<path fill="#3281b8" stroke="#3281b8" stroke-width="0.6" d="M621.55,1135.2 613.67,1133.95 605.8,1132.54 597.97,1130.98 605.44,1099.46 612.66,1100.88 619.91,1102.16 627.18,1103.3Z"/>
<path fill="#3382b8" stroke="#3382b8" stroke-width="0.6" d="M597.97,1130.98 590.16,1129.27 582.38,1127.4 574.63,1125.38 583.92,1094.35 591.06,1096.19 598.24,1097.9 605.44,1099.46Z"/>
<path fill="#3383b8" stroke="#3383b8" stroke-width="0.6" d="M574.63,1125.38 566.92,1123.22 559.25,1120.9 551.62,1118.43 562.7,1087.99 569.74,1090.25 576.81,1092.37 583.92,1094.35Z"/>
<path fill="#3385b8" stroke="#3385b8" stroke-width="0.6" d="M551.62,1118.43 544.04,1115.81 536.51,1113.05 529.03,1110.13 541.86,1080.39 548.76,1083.06 555.71,1085.59 562.7,1087.99Z"/>
<path fill="#3386b8" stroke="#3386b8" stroke-width="0.6" d="M529.03,1110.13 521.6,1107.08 514.23,1103.87 506.92,1100.52 521.45,1071.58 528.2,1074.65 535,1077.59 541.86,1080.39Z"/>
<path fill="#3387b7" stroke="#3387b7" stroke-width="0.6" d="M506.92,1100.52 499.67,1097.03 492.48,1093.4 485.37,1089.63 501.57,1061.57 508.13,1065.04 514.76,1068.37 521.45,1071.58Z"/>
<path fill="#3388b7" stroke="#3388b7" stroke-width="0.6" d="M485.37,1089.63 478.32,1085.72 471.35,1081.66 464.46,1077.48 482.26,1050.41 488.63,1054.26 495.06,1057.98 501.57,1061.57Z"/>
<path fill="#3389b7" stroke="#3389b7" stroke-width="0.6" d="M464.46,1077.48 457.65,1073.16 450.91,1068.7 444.26,1064.11 463.61,1038.13 469.75,1042.34 475.97,1046.44 482.26,1050.41Z"/>
<path fill="#338ab7" stroke="#338ab7" stroke-width="0.6" d="M444.26,1064.11 437.7,1059.39 431.23,1054.54 424.85,1049.57 445.67,1024.75 451.57,1029.33 457.55,1033.79 463.61,1038.13Z"/>
<path fill="#338bb6" stroke="#338bb6" stroke-width="0.6" d="M424.85,1049.57 418.56,1044.47 412.37,1039.25 406.29,1033.9 428.52,1010.34 434.14,1015.26 439.86,1020.06 445.67,1024.75Z"/>
<path fill="#338cb6" stroke="#338cb6" stroke-width="0.6" d="M406.29,1033.9 400.3,1028.43 394.42,1022.85 388.64,1017.15 412.2,994.92 417.54,1000.17 422.98,1005.31 428.52,1010.34Z"/>
<path fill="#328eb6" stroke="#328eb6" stroke-width="0.6" d="M388.64,1017.15 382.97,1011.34 377.41,1005.41 371.97,999.38 396.79,978.55 401.82,984.11 406.96,989.57 412.2,994.92Z"/>
<path fill="#328fb6" stroke="#328fb6" stroke-width="0.6" d="M371.97,999.38 366.64,993.23 361.43,986.98 356.34,980.63 382.33,961.29 387.04,967.14 391.86,972.89 396.79,978.55Z"/>
<path fill="#3290b5" stroke="#3290b5" stroke-width="0.6" d="M356.34,980.63 351.37,974.18 346.53,967.63 341.81,960.98 368.87,943.18 373.24,949.31 377.73,955.34 382.33,961.29Z"/>
<path fill="#3291b5" stroke="#3291b5" stroke-width="0.6" d="M341.81,960.98 337.22,954.24 332.75,947.41 328.42,940.49 356.48,924.29 360.49,930.67 364.62,936.97 368.87,943.18Z"/>
<path fill="#3292b5" stroke="#3292b5" stroke-width="0.6" d="M328.42,940.49 324.22,933.48 320.16,926.39 316.23,919.22 345.18,904.68 348.82,911.29 352.59,917.83 356.48,924.29Z"/>
<path fill="#3293b5" stroke="#3293b5" stroke-width="0.6" d="M316.23,919.22 312.44,911.97 308.79,904.64 305.28,897.24 335.03,884.41 338.28,891.24 341.67,898 345.18,904.68Z"/>
<path fill="#3294b4" stroke="#3294b4" stroke-width="0.6" d="M305.28,897.24 301.92,889.77 298.69,882.24 295.62,874.64 326.06,863.56 328.91,870.57 331.91,877.52 335.03,884.41Z"/>
<path fill="#3295b4" stroke="#3295b4" stroke-width="0.6" d="M295.62,874.64 292.69,866.97 289.91,859.25 287.27,851.47 318.31,842.18 320.75,849.36 323.34,856.48 326.06,863.56Z"/>
<path fill="#3297b4" stroke="#3297b4" stroke-width="0.6" d="M287.27,851.47 284.79,843.63 282.46,835.75 280.28,827.82 311.8,820.35 313.83,827.67 316,834.95 318.31,842.18Z"/>
<path fill="#3298b4" stroke="#3298b4" stroke-width="0.6" d="M280.28,827.82 278.25,819.84 276.38,811.82 274.66,803.76 306.57,798.14 308.17,805.58 309.91,812.98 311.8,820.35Z"/>
<path fill="#3399b3" stroke="#3399b3" stroke-width="0.6" d="M274.66,803.76 273.1,795.67 271.7,787.54 270.45,779.39 302.63,775.63 303.79,783.16 305.11,790.67 306.57,798.14Z"/>
<path fill="#339ab3" stroke="#339ab3" stroke-width="0.6" d="M270.45,779.39 269.36,771.21 268.43,763 267.66,754.77 300,752.89 300.73,760.49 301.6,768.07 302.63,775.63Z"/>
<path fill="#339bb3" stroke="#339bb3" stroke-width="0.6" d="M267.66,754.77 267.05,746.53 266.6,738.27 266.3,730 298.7,730 298.98,737.64 299.42,745.27 300,752.89Z"/>
<path fill="#339cb3" stroke="#339cb3" stroke-width="0.6" d="M266.3,730 266.17,721.72 266.2,713.44 266.39,705.15 298.73,707.04 298.57,714.69 298.56,722.35 298.7,730Z"/>
<path fill="#349db2" stroke="#349db2" stroke-width="0.6" d="M266.39,705.15 266.74,696.87 267.25,688.59 267.93,680.32 300.1,684.08 299.5,691.72 299.04,699.38 298.73,707.04Z"/>
<path fill="#349eb2" stroke="#349eb2" stroke-width="0.6" d="M267.93,680.32 268.76,672.05 269.75,663.81 270.91,655.57 302.81,661.2 301.76,668.81 300.86,676.44 300.1,684.08Z"/>
<path fill="#34a0b2" stroke="#34a0b2" stroke-width="0.6" d="M270.91,655.57 272.22,647.36 273.7,639.17 275.33,631.01 306.85,638.48 305.36,646.03 304.01,653.6 302.81,661.2Z"/>
<path fill="#34a1b2" stroke="#34a1b2" stroke-width="0.6" d="M275.33,631.01 277.13,622.88 279.08,614.78 281.19,606.71 312.22,616 310.29,623.46 308.5,630.96 306.85,638.48Z"/>
<path fill="#35a2b1" stroke="#35a2b1" stroke-width="0.6" d="M281.19,606.71 283.45,598.68 285.88,590.7 288.46,582.76 318.9,593.84 316.53,601.19 314.3,608.57 312.22,616Z"/>
<path fill="#35a3b1" stroke="#35a3b1" stroke-width="0.6" d="M288.46,582.76 291.19,574.86 294.08,567.02 297.12,559.23 326.86,572.06 324.07,579.27 321.41,586.53 318.9,593.84Z"/>
<path fill="#35a4b1" stroke="#35a4b1" stroke-width="0.6" d="M297.12,559.23 300.31,551.5 303.66,543.83 307.15,536.22 336.1,550.76 332.88,557.8 329.8,564.91 326.86,572.06Z"/>
<path fill="#35a5b1" stroke="#35a5b1" stroke-width="0.6" d="M307.15,536.22 310.79,528.67 314.58,521.2 318.52,513.79 346.57,529.99 342.95,536.85 339.45,543.77 336.1,550.76Z"/>
<path fill="#36a6b0" stroke="#36a6b0" stroke-width="0.6" d="M318.52,513.79 322.6,506.46 326.83,499.21 331.19,492.04 358.26,509.84 354.23,516.48 350.34,523.2 346.57,529.99Z"/>
<path fill="#36a7b0" stroke="#36a7b0" stroke-width="0.6" d="M331.19,492.04 335.7,484.95 340.35,477.94 345.13,471.02 371.12,490.37 366.7,496.78 362.42,503.27 358.26,509.84Z"/>
<path fill="#36a8b0" stroke="#36a8b0" stroke-width="0.6" d="M345.13,471.02 350.05,464.2 355.11,457.46 360.29,450.83 385.11,471.65 380.32,477.8 375.66,484.04 371.12,490.37Z"/>
<path fill="#36a9af" stroke="#36a9af" stroke-width="0.6" d="M360.29,450.83 365.61,444.29 371.05,437.85 376.63,431.52 400.19,453.75 395.04,459.62 390.02,465.59 385.11,471.65Z"/>
<path fill="#36aaae" stroke="#36aaae" stroke-width="0.6" d="M376.63,431.52 382.32,425.29 388.14,419.17 394.08,413.16 416.31,436.73 410.82,442.3 405.45,447.97 400.19,453.75Z"/>
<path fill="#36aaad" stroke="#36aaad" stroke-width="0.6" d="M394.08,413.16 400.14,407.27 406.31,401.49 412.6,395.83 433.42,420.65 427.61,425.9 421.91,431.26 416.31,436.73Z"/>
<path fill="#36abad" stroke="#36abad" stroke-width="0.6" d="M412.6,395.83 419,390.29 425.51,384.88 432.13,379.58 451.47,405.57 445.35,410.48 439.34,415.51 433.42,420.65Z"/>
<path fill="#36abac" stroke="#36abac" stroke-width="0.6" d="M432.13,379.58 438.85,374.42 445.67,369.38 452.59,364.48 470.39,391.54 463.99,396.1 457.68,400.77 451.47,405.57Z"/>
<path fill="#36acab" stroke="#36acab" stroke-width="0.6" d="M452.59,364.48 459.61,359.71 466.73,355.07 473.94,350.57 490.13,378.62 483.47,382.8 476.89,387.11 470.39,391.54Z"/>
<path fill="#36adaa" stroke="#36adaa" stroke-width="0.6" d="M473.94,350.57 481.23,346.21 488.62,341.98 496.08,337.91 510.62,366.85 503.71,370.65 496.88,374.57 490.13,378.62Z"/>
<path fill="#36adaa" stroke="#36adaa" stroke-width="0.6" d="M496.08,337.91 503.63,333.97 511.26,330.18 518.96,326.54 531.79,356.28 524.66,359.67 517.61,363.19 510.62,366.85Z"/>
<path fill="#36aea9" stroke="#36aea9" stroke-width="0.6" d="M518.96,326.54 526.74,323.04 534.59,319.7 542.5,316.5 553.58,346.94 546.25,349.92 538.99,353.03 531.79,356.28Z"/>
<path fill="#36afa8" stroke="#36afa8" stroke-width="0.6" d="M542.5,316.5 550.48,313.46 558.52,310.57 566.61,307.84 575.91,338.88 568.41,341.42 560.96,344.11 553.58,346.94Z"/>
<path fill="#36afa7" stroke="#36afa7" stroke-width="0.6" d="M566.61,307.84 574.77,305.27 582.97,302.85 591.23,300.59 598.7,332.11 591.05,334.22 583.46,336.47 575.91,338.88Z"/>
<path fill="#36b0a7" stroke="#36b0a7" stroke-width="0.6" d="M591.23,300.59 599.53,298.49 607.87,296.55 616.26,294.77 621.88,326.68 614.12,328.34 606.39,330.15 598.7,332.11Z"/>
<path fill="#36b0a6" stroke="#36b0a6" stroke-width="0.6" d="M616.26,294.77 624.68,293.16 633.13,291.71 641.62,290.42 645.38,322.59 637.52,323.8 629.68,325.16 621.88,326.68Z"/>
<path fill="#36b1a5" stroke="#36b1a5" stroke-width="0.6" d="M641.62,290.42 650.13,289.29 658.67,288.33 667.23,287.54 669.11,319.88 661.18,320.63 653.27,321.53 645.38,322.59Z"/>
<path fill="#36b2a4" stroke="#36b2a4" stroke-width="0.6" d="M667.23,287.54 675.81,286.91 684.4,286.45 693,286.15 693,318.55 685.03,318.84 677.06,319.28 669.11,319.88Z"/>
<path fill="#36b2a3" stroke="#36b2a3" stroke-width="0.6" d="M693,286.15 701.61,286.03 710.23,286.06 718.84,286.27 716.96,318.61 708.97,318.43 700.98,318.41 693,318.55Z"/>
<path fill="#36b3a2" stroke="#36b3a2" stroke-width="0.6" d="M718.84,286.27 727.46,286.64 736.07,287.18 744.68,287.89 740.91,320.07 732.94,319.43 724.95,318.94 716.96,318.61Z"/>
<path fill="#36b3a1" stroke="#36b3a1" stroke-width="0.6" d="M744.68,287.89 753.27,288.77 761.84,289.81 770.4,291.02 764.78,322.92 756.84,321.82 748.88,320.86 740.91,320.07Z"/>
<path fill="#36b3a0" stroke="#36b3a0" stroke-width="0.6" d="M770.4,291.02 778.94,292.4 787.46,293.94 795.94,295.65 788.47,327.17 780.6,325.6 772.7,324.18 764.78,322.92Z"/>
<path fill="#37b49f" stroke="#37b49f" stroke-width="0.6" d="M795.94,295.65 804.4,297.52 812.82,299.56 821.21,301.76 811.92,332.79 804.14,330.76 796.32,328.89 788.47,327.17Z"/>
<path fill="#37b49e" stroke="#37b49e" stroke-width="0.6" d="M821.21,301.76 829.55,304.12 837.85,306.65 846.11,309.34 835.03,339.78 827.37,337.3 819.66,334.97 811.92,332.79Z"/>
<path fill="#37b49d" stroke="#37b49d" stroke-width="0.6" d="M846.11,309.34 854.31,312.19 862.46,315.2 870.56,318.37 857.73,348.12 850.21,345.19 842.64,342.41 835.03,339.78Z"/>
<path fill="#37b59c" stroke="#37b59c" stroke-width="0.6" d="M870.56,318.37 878.6,321.7 886.57,325.18 894.48,328.82 879.94,357.77 872.6,354.41 865.19,351.19 857.73,348.12Z"/>
<path fill="#37b59a" stroke="#37b59a" stroke-width="0.6" d="M894.48,328.82 902.32,332.62 910.09,336.57 917.78,340.67 901.58,368.72 894.44,364.93 887.22,361.28 879.94,357.77Z"/>
<path fill="#37b699" stroke="#37b699" stroke-width="0.6" d="M917.78,340.67 925.4,344.92 932.93,349.32 940.39,353.87 922.59,380.93 915.66,376.72 908.66,372.65 901.58,368.72Z"/>
<path fill="#37b698" stroke="#37b698" stroke-width="0.6" d="M940.39,353.87 947.76,358.56 955.03,363.4 962.22,368.38 942.87,394.36 936.2,389.75 929.43,385.27 922.59,380.93Z"/>
<path fill="#37b697" stroke="#37b697" stroke-width="0.6" d="M962.22,368.38 969.31,373.5 976.3,378.76 983.2,384.16 962.38,408.97 955.97,403.97 949.47,399.1 942.87,394.36Z"/>
<path fill="#38b796" stroke="#38b796" stroke-width="0.6" d="M983.2,384.16 989.99,389.69 996.68,395.35 1003.25,401.15 981.02,424.71 974.91,419.34 968.69,414.1 962.38,408.97Z"/>
<path fill="#38b795" stroke="#38b795" stroke-width="0.6" d="M1003.25,401.15 1009.72,407.08 1016.07,413.13 1022.31,419.31 998.75,441.54 992.95,435.82 987.04,430.21 981.02,424.71Z"/>
<path fill="#38b794" stroke="#38b794" stroke-width="0.6" d="M1022.31,419.31 1028.43,425.61 1034.43,432.04 1040.3,438.58 1015.49,459.4 1010.02,453.34 1004.44,447.38 998.75,441.54Z"/>
<path fill="#38b893" stroke="#38b893" stroke-width="0.6" d="M1040.3,438.58 1046.06,445.23 1051.68,452 1057.17,458.88 1031.19,478.23 1026.07,471.85 1020.84,465.57 1015.49,459.4Z"/>
<path fill="#38b892" stroke="#38b892" stroke-width="0.6" d="M1057.17,458.88 1062.53,465.87 1067.76,472.97 1072.85,480.17 1045.78,497.97 1041.04,491.29 1036.18,484.71 1031.19,478.23Z"/>
<path fill="#38b891" stroke="#38b891" stroke-width="0.6" d="M1072.85,480.17 1077.8,487.47 1082.61,494.87 1087.28,502.36 1059.23,518.56 1054.88,511.61 1050.4,504.74 1045.78,497.97Z"/>
<path fill="#38b990" stroke="#38b990" stroke-width="0.6" d="M1087.28,502.36 1091.81,509.95 1096.19,517.62 1100.42,525.39 1071.47,539.92 1067.53,532.72 1063.45,525.6 1059.23,518.56Z"/>
<path fill="#38b98f" stroke="#38b98f" stroke-width="0.6" d="M1100.42,525.39 1104.5,533.23 1108.43,541.16 1112.21,549.17 1082.47,562 1078.94,554.57 1075.28,547.21 1071.47,539.92Z"/>
<path fill="#39b98e" stroke="#39b98e" stroke-width="0.6" d="M1112.21,549.17 1115.84,557.25 1119.3,565.41 1122.61,573.63 1092.17,584.71 1089.08,577.08 1085.85,569.5 1082.47,562Z"/>
<path fill="#39ba8d" stroke="#39ba8d" stroke-width="0.6" d="M1122.61,573.63 1125.77,581.93 1128.76,590.28 1131.59,598.7 1100.55,607.99 1097.91,600.17 1095.12,592.41 1092.17,584.71Z"/>
<path fill="#39ba8c" stroke="#39ba8c" stroke-width="0.6" d="M1131.59,598.7 1134.25,607.17 1136.76,615.7 1139.1,624.27 1107.58,631.74 1105.39,623.78 1103.05,615.86 1100.55,607.99Z"/>
<path fill="#39ba8b" stroke="#39ba8b" stroke-width="0.6" d="M1139.1,624.27 1141.27,632.9 1143.28,641.57 1145.12,650.28 1113.21,655.91 1111.49,647.81 1109.61,639.76 1107.58,631.74Z"/>
<path fill="#39bb8b" stroke="#39bb8b" stroke-width="0.6" d="M1145.12,650.28 1146.79,659.03 1148.29,667.81 1149.62,676.63 1117.44,680.39 1116.19,672.2 1114.78,664.03 1113.21,655.91Z"/>
<path fill="#39bb8a" stroke="#39bb8a" stroke-width="0.6" d="M1149.62,676.63 1150.78,685.47 1151.77,694.34 1152.58,703.23 1120.24,705.12 1119.47,696.85 1118.53,688.61 1117.44,680.39Z"/>
<path fill="#39bb89" stroke="#39bb89" stroke-width="0.6" d="M1152.58,703.23 1153.23,712.14 1153.7,721.07 1154,730 1121.6,730 1121.31,721.69 1120.86,713.4 1120.24,705.12Z"/>
<path fill="#39bc88" stroke="#39bc88" stroke-width="0.6" d="M1154,730 1154.12,738.94 1154.07,747.89 1153.85,756.84 1121.51,754.96 1121.7,746.64 1121.73,738.32 1121.6,730Z"/>
<path fill="#3abc87" stroke="#3abc87" stroke-width="0.6" d="M1153.85,756.84 1153.45,765.79 1152.88,774.73 1152.14,783.67 1119.97,779.91 1120.64,771.6 1121.16,763.28 1121.51,754.96Z"/>
<path fill="#3abc86" stroke="#3abc86" stroke-width="0.6" d="M1152.14,783.67 1151.22,792.59 1150.13,801.49 1148.87,810.38 1116.97,804.76 1118.13,796.49 1119.13,788.2 1119.97,779.91Z"/>
<path fill="#3abd85" stroke="#3abd85" stroke-width="0.6" d="M1148.87,810.38 1147.43,819.25 1145.82,828.09 1144.04,836.9 1112.52,829.43 1114.16,821.23 1115.65,813.01 1116.97,804.76Z"/>
<path fill="#3abd84" stroke="#3abd84" stroke-width="0.6" d="M1144.04,836.9 1142.09,845.68 1139.97,854.42 1137.67,863.13 1106.64,853.84 1108.76,845.73 1110.72,837.6 1112.52,829.43Z"/>
<path fill="#3abd83" stroke="#3abd83" stroke-width="0.6" d="M1137.67,863.13 1135.21,871.79 1132.58,880.41 1129.78,888.97 1099.34,877.89 1101.93,869.92 1104.36,861.9 1106.64,853.84Z"/>
<path fill="#3abd82" stroke="#3abd82" stroke-width="0.6" d="M1129.78,888.97 1126.81,897.49 1123.68,905.95 1120.38,914.35 1090.63,901.52 1093.69,893.7 1096.59,885.82 1099.34,877.89Z"/>
<path fill="#3abd81" stroke="#3abd81" stroke-width="0.6" d="M1120.38,914.35 1116.91,922.69 1113.29,930.97 1109.5,939.18 1080.55,924.64 1084.06,916.99 1087.42,909.29 1090.63,901.52Z"/>
<path fill="#3abd80" stroke="#3abd80" stroke-width="0.6" d="M1109.5,939.18 1105.56,947.31 1101.45,955.37 1097.19,963.36 1069.13,947.16 1073.09,939.72 1076.89,932.21 1080.55,924.64Z"/>
<path fill="#3abd7f" stroke="#3abd7f" stroke-width="0.6" d="M1097.19,963.36 1092.77,971.26 1088.19,979.08 1083.46,986.81 1056.4,969.01 1060.79,961.81 1065.03,954.52 1069.13,947.16Z"/>
<path fill="#3abd7e" stroke="#3abd7e" stroke-width="0.6" d="M1083.46,986.81 1078.58,994.46 1073.56,1002.01 1068.38,1009.46 1042.4,990.12 1047.2,983.17 1051.87,976.13 1056.4,969.01Z"/>
<path fill="#3abd7d" stroke="#3abd7d" stroke-width="0.6" d="M1068.38,1009.46 1063.06,1016.82 1057.59,1024.07 1051.98,1031.22 1027.17,1010.4 1032.38,1003.73 1037.45,996.97 1042.4,990.12Z"/>
<path fill="#3abd7c" stroke="#3abd7c" stroke-width="0.6" d="M1051.98,1031.22 1046.23,1038.27 1040.35,1045.2 1034.32,1052.02 1010.76,1029.79 1016.36,1023.43 1021.83,1016.97 1027.17,1010.4Z"/>
<path fill="#3abe7a" stroke="#3abe7a" stroke-width="0.6" d="M1034.32,1052.02 1028.17,1058.73 1021.88,1065.32 1015.46,1071.78 993.23,1048.22 999.19,1042.19 1005.04,1036.04 1010.76,1029.79Z"/>
<path fill="#3abe79" stroke="#3abe79" stroke-width="0.6" d="M1015.46,1071.78 1008.91,1078.13 1002.24,1084.35 995.45,1090.44 974.62,1065.63 980.94,1059.94 987.14,1054.14 993.23,1048.22Z"/>
<path fill="#3abe78" stroke="#3abe78" stroke-width="0.6" d="M995.45,1090.44 988.53,1096.4 981.5,1102.23 974.36,1107.93 955.01,1081.94 961.66,1076.63 968.2,1071.19 974.62,1065.63Z"/>
<path fill="#3abe77" stroke="#3abe77" stroke-width="0.6" d="M974.36,1107.93 967.1,1113.49 959.73,1118.9 952.26,1124.18 934.45,1097.11 941.41,1092.19 948.26,1087.13 955.01,1081.94Z"/>
<path fill="#3abe76" stroke="#3abe76" stroke-width="0.6" d="M952.26,1124.18 944.68,1129.31 936.99,1134.3 929.21,1139.14 913.02,1111.08 920.26,1106.56 927.4,1101.91 934.45,1097.11Z"/>
<path fill="#3abe75" stroke="#3abe75" stroke-width="0.6" d="M929.21,1139.14 921.34,1143.83 913.37,1148.36 905.31,1152.75 890.77,1123.8 898.27,1119.7 905.69,1115.46 913.02,1111.08Z"/>
<path fill="#3abe74" stroke="#3abe74" stroke-width="0.6" d="M905.31,1152.75 897.16,1156.97 888.93,1161.05 880.62,1164.96 867.79,1135.21 875.53,1131.56 883.19,1127.75 890.77,1123.8Z"/>
<path fill="#3abe73" stroke="#3abe73" stroke-width="0.6" d="M880.62,1164.96 872.23,1168.71 863.77,1172.3 855.23,1175.73 844.15,1145.29 852.1,1142.08 859.98,1138.72 867.79,1135.21Z"/>
<path fill="#3abe72" stroke="#3abe72" stroke-width="0.6" d="M855.23,1175.73 846.63,1178.99 837.96,1182.09 829.22,1185.02 819.93,1153.98 828.07,1151.24 836.14,1148.34 844.15,1145.29Z"/>
<path fill="#3abe71" stroke="#3abe71" stroke-width="0.6" d="M829.22,1185.02 820.43,1187.78 811.58,1190.37 802.68,1192.79 795.21,1161.26 803.5,1159 811.74,1156.57 819.93,1153.98Z"/>
<path fill="#3abe70" stroke="#3abe70" stroke-width="0.6" d="M802.68,1192.79 793.73,1195.03 784.74,1197.11 775.7,1199.01 770.07,1167.1 778.49,1165.32 786.87,1163.37 795.21,1161.26Z"/>
<path fill="#3bbe70" stroke="#3bbe70" stroke-width="0.6" d="M775.7,1199.01 766.62,1200.73 757.51,1202.28 748.36,1203.65 744.6,1171.48 753.12,1170.18 761.62,1168.72 770.07,1167.1Z"/>
<path fill="#3bbe6f" stroke="#3bbe6f" stroke-width="0.6" d="M748.36,1203.65 739.19,1204.85 729.99,1205.86 720.76,1206.7 718.88,1174.36 727.48,1173.57 736.05,1172.6 744.6,1171.48Z"/>
<path fill="#3bbe6e" stroke="#3bbe6e" stroke-width="0.6" d="M720.76,1206.7 711.52,1207.36 702.27,1207.84 693,1208.15 693,1175.75 701.64,1175.46 710.27,1174.99 718.88,1174.36Z"/>
<path fill="#3bbe6e" stroke="#3bbe6e" stroke-width="0.6" d="M693,1208.15 683.72,1208.27 674.44,1208.21 665.16,1207.97 667.04,1175.63 675.7,1175.84 684.35,1175.88 693,1175.75Z"/>
<path fill="#3bbe6d" stroke="#3bbe6d" stroke-width="0.6" d="M665.16,1207.97 655.88,1207.55 646.61,1206.95 637.34,1206.17 641.1,1174 649.74,1174.71 658.39,1175.26 667.04,1175.63Z"/>
<path fill="#3cbe6c" stroke="#3cbe6c" stroke-width="0.6" d="M637.34,1206.17 628.09,1205.22 618.86,1204.08 609.64,1202.76 615.26,1170.86 623.86,1172.07 632.47,1173.12 641.1,1174Z"/>
<path fill="#3cbe6b" stroke="#3cbe6b" stroke-width="0.6" d="M609.64,1202.76 600.45,1201.26 591.28,1199.58 582.15,1197.73 589.62,1166.21 598.14,1167.92 606.69,1169.47 615.26,1170.86Z"/>
<path fill="#3cbe6b" stroke="#3cbe6b" stroke-width="0.6" d="M582.15,1197.73 573.04,1195.7 563.98,1193.49 554.95,1191.1 564.25,1160.07 572.67,1162.28 581.12,1164.33 589.62,1166.21Z"/>
<path fill="#3cbe6a" stroke="#3cbe6a" stroke-width="0.6" d="M554.95,1191.1 545.97,1188.54 537.04,1185.8 528.16,1182.89 539.24,1152.45 547.53,1155.15 555.87,1157.69 564.25,1160.07Z"/>
<path fill="#3cbe69" stroke="#3cbe69" stroke-width="0.6" d="M528.16,1182.89 519.33,1179.81 510.56,1176.55 501.85,1173.12 514.69,1143.38 522.81,1146.56 531,1149.59 539.24,1152.45Z"/>
<path fill="#3dbe69" stroke="#3dbe69" stroke-width="0.6" d="M501.85,1173.12 493.21,1169.53 484.63,1165.76 476.13,1161.83 490.67,1132.88 498.61,1136.54 506.62,1140.04 514.69,1143.38Z"/>
<path fill="#3dbe68" stroke="#3dbe68" stroke-width="0.6" d="M476.13,1161.83 467.7,1157.73 459.34,1153.46 451.07,1149.04 467.27,1120.98 474.99,1125.1 482.79,1129.07 490.67,1132.88Z"/>
<path fill="#3dbe67" stroke="#3dbe67" stroke-width="0.6" d="M451.07,1149.04 442.88,1144.45 434.78,1139.7 426.76,1134.79 444.56,1107.73 452.05,1112.29 459.62,1116.71 467.27,1120.98Z"/>
<path fill="#3ebe66" stroke="#3ebe66" stroke-width="0.6" d="M426.76,1134.79 418.84,1129.73 411.02,1124.51 403.3,1119.14 422.64,1093.15 429.86,1098.15 437.17,1103.01 444.56,1107.73Z"/>
<path fill="#3fbe64" stroke="#3fbe64" stroke-width="0.6" d="M403.3,1119.14 395.68,1113.61 388.16,1107.94 380.75,1102.12 401.58,1077.3 408.5,1082.73 415.52,1088.01 422.64,1093.15Z"/>
<path fill="#40be62" stroke="#40be62" stroke-width="0.6" d="M380.75,1102.12 373.46,1096.15 366.27,1090.05 359.21,1083.8 381.44,1060.23 388.04,1066.06 394.76,1071.75 401.58,1077.3Z"/>
<path fill="#41be61" stroke="#41be61" stroke-width="0.6" d="M359.21,1083.8 352.26,1077.41 345.44,1070.88 338.74,1064.23 362.3,1042 368.57,1048.2 374.95,1054.28 381.44,1060.23Z"/>
<path fill="#42bf5f" stroke="#42bf5f" stroke-width="0.6" d="M338.74,1064.23 332.17,1057.44 325.73,1050.52 319.42,1043.47 344.24,1022.65 350.14,1029.22 356.16,1035.67 362.3,1042Z"/>
<path fill="#43bf5d" stroke="#43bf5d" stroke-width="0.6" d="M319.42,1043.47 313.25,1036.3 307.21,1029.01 301.32,1021.6 327.3,1002.25 332.82,1009.16 338.46,1015.96 344.24,1022.65Z"/>
<path fill="#44bf5b" stroke="#44bf5b" stroke-width="0.6" d="M301.32,1021.6 295.56,1014.07 289.95,1006.43 284.49,998.68 311.56,980.88 316.67,988.11 321.92,995.23 327.3,1002.25Z"/>
<path fill="#45bf59" stroke="#45bf59" stroke-width="0.6" d="M284.49,998.68 279.18,990.82 274.02,982.86 269.01,974.79 297.07,958.59 301.75,966.12 306.59,973.55 311.56,980.88Z"/>
<path fill="#47bf58" stroke="#47bf58" stroke-width="0.6" d="M269.01,974.79 264.16,966.62 259.46,958.36 254.93,950.01 283.88,935.47 288.13,943.27 292.52,950.97 297.07,958.59Z"/>
<path fill="#48bf56" stroke="#48bf56" stroke-width="0.6" d="M254.93,950.01 250.55,941.56 246.34,933.03 242.29,924.42 272.04,911.58 275.83,919.63 279.78,927.59 283.88,935.47Z"/>
<path fill="#49bf54" stroke="#49bf54" stroke-width="0.6" d="M242.29,924.42 238.41,915.72 234.7,906.95 231.15,898.1 261.6,887.02 264.92,895.28 268.4,903.47 272.04,911.58Z"/>
<path fill="#4abf52" stroke="#4abf52" stroke-width="0.6" d="M231.15,898.1 227.78,889.18 224.58,880.19 221.55,871.14 252.59,861.85 255.43,870.3 258.43,878.69 261.6,887.02Z"/>
<path fill="#4bc050" stroke="#4bc050" stroke-width="0.6" d="M221.55,871.14 218.7,862.03 216.03,852.86 213.53,843.64 245.05,836.17 247.4,844.78 249.91,853.34 252.59,861.85Z"/>
<path fill="#4cc04f" stroke="#4cc04f" stroke-width="0.6" d="M213.53,843.64 211.21,834.36 209.07,825.04 207.1,815.68 239.01,810.05 240.85,818.8 242.87,827.5 245.05,836.17Z"/>
<path fill="#4dc04d" stroke="#4dc04d" stroke-width="0.6" d="M207.1,815.68 205.33,806.27 203.73,796.83 202.31,787.35 234.49,783.59 235.83,792.44 237.33,801.27 239.01,810.05Z"/>
<path fill="#4ec04b" stroke="#4ec04b" stroke-width="0.6" d="M202.31,787.35 201.08,777.85 200.04,768.32 199.18,758.76 231.52,756.88 232.33,765.81 233.33,774.71 234.49,783.59Z"/>
<path fill="#50c049" stroke="#50c049" stroke-width="0.6" d="M199.18,758.76 198.5,749.19 198.01,739.6 197.7,730 230.1,730 230.4,738.97 230.87,747.93 231.52,756.88Z"/>
<path fill="#51c048" stroke="#51c048" stroke-width="0.6" d="M197.7,730 197.59,720.39 197.65,710.78 197.91,701.16 230.25,703.05 230.02,712.03 229.97,721.02 230.1,730Z"/>
<path fill="#52c046" stroke="#52c046" stroke-width="0.6" d="M197.91,701.16 198.35,691.55 198.98,681.95 199.79,672.35 231.97,676.11 231.22,685.08 230.65,694.06 230.25,703.05Z"/>
<path fill="#53c045" stroke="#53c045" stroke-width="0.6" d="M199.79,672.35 200.79,662.77 201.98,653.21 203.35,643.66 235.25,649.29 233.98,658.21 232.89,667.15 231.97,676.11Z"/>
<path fill="#54c044" stroke="#54c044" stroke-width="0.6" d="M203.35,643.66 204.91,634.14 206.65,624.65 208.58,615.19 240.1,622.66 238.31,631.51 236.7,640.38 235.25,649.29Z"/>
<path fill="#56c042" stroke="#56c042" stroke-width="0.6" d="M208.58,615.19 210.69,605.77 212.99,596.38 215.47,587.04 246.5,596.33 244.2,605.07 242.07,613.85 240.1,622.66Z"/>
<path fill="#57c041" stroke="#57c041" stroke-width="0.6" d="M215.47,587.04 218.13,577.74 220.97,568.49 223.99,559.29 254.43,570.37 251.62,578.98 248.98,587.63 246.5,596.33Z"/>
<path fill="#58c03f" stroke="#58c03f" stroke-width="0.6" d="M223.99,559.29 227.19,550.16 230.57,541.08 234.13,532.06 263.87,544.89 260.56,553.33 257.41,561.82 254.43,570.37Z"/>
<path fill="#59bf3e" stroke="#59bf3e" stroke-width="0.6" d="M234.13,532.06 237.86,523.11 241.77,514.24 245.85,505.43 274.79,519.97 270.99,528.21 267.35,536.52 263.87,544.89Z"/>
<path fill="#5abf3c" stroke="#5abf3c" stroke-width="0.6" d="M245.85,505.43 250.1,496.7 254.52,488.06 259.11,479.49 287.16,495.69 282.88,503.71 278.76,511.8 274.79,519.97Z"/>
<path fill="#5bbf3b" stroke="#5bbf3b" stroke-width="0.6" d="M259.11,479.49 263.87,471.02 268.79,462.63 273.88,454.34 300.94,472.14 296.2,479.9 291.6,487.76 287.16,495.69Z"/>
<path fill="#5dbf39" stroke="#5dbf39" stroke-width="0.6" d="M273.88,454.34 279.13,446.14 284.54,438.05 290.11,430.06 316.09,449.4 310.89,456.89 305.84,464.47 300.94,472.14Z"/>
<path fill="#5ebf38" stroke="#5ebf38" stroke-width="0.6" d="M290.11,430.06 295.83,422.17 301.71,414.39 307.74,406.73 332.56,427.55 326.93,434.73 321.44,442.02 316.09,449.4Z"/>
<path fill="#5fbf37" stroke="#5fbf37" stroke-width="0.6" d="M307.74,406.73 313.92,399.18 320.25,391.75 326.73,384.44 350.29,406.67 344.24,413.52 338.33,420.48 332.56,427.55Z"/>
<path fill="#60bf35" stroke="#60bf35" stroke-width="0.6" d="M326.73,384.44 333.35,377.25 340.11,370.2 347,363.27 369.24,386.83 362.79,393.32 356.47,399.94 350.29,406.67Z"/>
<path fill="#61bf34" stroke="#61bf34" stroke-width="0.6" d="M347,363.27 354.04,356.47 361.21,349.81 368.51,343.28 389.33,368.1 382.51,374.21 375.81,380.46 369.24,386.83Z"/>
<path fill="#62bf33" stroke="#62bf33" stroke-width="0.6" d="M368.51,343.28 375.93,336.9 383.49,330.66 391.16,324.56 410.51,350.54 403.33,356.26 396.27,362.11 389.33,368.1Z"/>
<path fill="#64bf33" stroke="#64bf33" stroke-width="0.6" d="M391.16,324.56 398.96,318.61 406.87,312.81 414.9,307.16 432.7,334.23 425.19,339.53 417.79,344.96 410.51,350.54Z"/>
<path fill="#64bf33" stroke="#64bf33" stroke-width="0.6" d="M414.9,307.16 423.04,301.67 431.28,296.34 439.64,291.16 455.83,319.21 448.02,324.07 440.31,329.08 432.7,334.23Z"/>
<path fill="#66bf32" stroke="#66bf32" stroke-width="0.6" d="M439.64,291.16 448.09,286.14 456.64,281.29 465.3,276.6 479.83,305.55 471.74,309.95 463.74,314.51 455.83,319.21Z"/>
<path fill="#66bf32" stroke="#66bf32" stroke-width="0.6" d="M465.3,276.6 474.04,272.08 482.87,267.73 491.79,263.55 504.62,293.29 496.28,297.22 488.01,301.31 479.83,305.55Z"/>
<path fill="#68bf32" stroke="#68bf32" stroke-width="0.6" d="M491.79,263.55 500.79,259.54 509.88,255.7 519.04,252.04 530.12,282.48 521.55,285.92 513.05,289.52 504.62,293.29Z"/>
<path fill="#68bf32" stroke="#68bf32" stroke-width="0.6" d="M519.04,252.04 528.27,248.56 537.57,245.25 546.94,242.12 556.23,273.16 547.46,276.1 538.76,279.21 530.12,282.48Z"/>
<path fill="#6abf32" stroke="#6abf32" stroke-width="0.6" d="M546.94,242.12 556.37,239.18 565.86,236.42 575.41,233.84 582.88,265.36 573.94,267.79 565.06,270.39 556.23,273.16Z"/>
<path fill="#6abe31" stroke="#6abe31" stroke-width="0.6" d="M575.41,233.84 585.01,231.45 594.65,229.24 604.35,227.22 609.97,259.12 600.9,261.02 591.86,263.11 582.88,265.36Z"/>
<path fill="#6cbe31" stroke="#6cbe31" stroke-width="0.6" d="M604.35,227.22 614.08,225.38 623.85,223.74 633.66,222.28 637.42,254.46 628.23,255.83 619.08,257.39 609.97,259.12Z"/>
<path fill="#6cbe31" stroke="#6cbe31" stroke-width="0.6" d="M633.66,222.28 643.49,221.01 653.36,219.94 663.24,219.05 665.12,251.39 655.87,252.24 646.63,253.26 637.42,254.46Z"/>
<path fill="#6ebe31" stroke="#6ebe31" stroke-width="0.6" d="M663.24,219.05 673.15,218.36 683.07,217.86 693,217.55 693,249.95 683.7,250.25 674.4,250.73 665.12,251.39Z"/>
<path fill="#6ebe31" stroke="#6ebe31" stroke-width="0.6" d="M693,217.55 702.94,217.44 712.89,217.52 722.83,217.79 720.95,250.13 711.63,249.89 702.31,249.83 693,249.95Z"/>
<path fill="#70be30" stroke="#70be30" stroke-width="0.6" d="M722.83,217.79 732.78,218.25 742.71,218.91 752.64,219.76 748.88,251.93 739.58,251.15 730.27,250.55 720.95,250.13Z"/>
<path fill="#70be30" stroke="#70be30" stroke-width="0.6" d="M752.64,219.76 762.55,220.8 772.44,222.03 782.32,223.46 776.69,255.36 767.44,254.04 758.17,252.9 748.88,251.93Z"/>
<path fill="#72be30" stroke="#72be30" stroke-width="0.6" d="M782.32,223.46 792.16,225.08 801.98,226.89 811.76,228.89 804.29,260.42 795.12,258.55 785.92,256.87 776.69,255.36Z"/>
<path fill="#72be30" stroke="#72be30" stroke-width="0.6" d="M811.76,228.89 821.51,231.09 831.22,233.47 840.88,236.04 831.59,267.07 822.53,264.68 813.43,262.46 804.29,260.42Z"/>
<path fill="#73be2f" stroke="#73be2f" stroke-width="0.6" d="M840.88,236.04 850.5,238.8 860.06,241.74 869.57,244.88 858.49,275.32 849.57,272.39 840.61,269.65 831.59,267.07Z"/>
<path fill="#74be2f" stroke="#74be2f" stroke-width="0.6" d="M869.57,244.88 879.02,248.19 888.41,251.7 897.73,255.38 884.9,285.13 876.16,281.68 867.35,278.41 858.49,275.32Z"/>
<path fill="#75be2f" stroke="#75be2f" stroke-width="0.6" d="M897.73,255.38 906.98,259.25 916.16,263.29 925.27,267.52 910.73,296.47 902.19,292.52 893.58,288.74 884.9,285.13Z"/>
<path fill="#76be2e" stroke="#76be2e" stroke-width="0.6" d="M925.27,267.52 934.29,271.92 943.23,276.5 952.08,281.26 935.88,309.31 927.58,304.87 919.19,300.59 910.73,296.47Z"/>
<path fill="#77be2e" stroke="#77be2e" stroke-width="0.6" d="M952.08,281.26 960.84,286.18 969.51,291.28 978.08,296.55 960.28,323.62 952.24,318.69 944.11,313.92 935.88,309.31Z"/>
<path fill="#78be2e" stroke="#78be2e" stroke-width="0.6" d="M978.08,296.55 986.56,301.99 994.92,307.59 1003.18,313.35 983.84,339.33 976.09,333.94 968.23,328.7 960.28,323.62Z"/>
<path fill="#79be2d" stroke="#79be2d" stroke-width="0.6" d="M1003.18,313.35 1011.34,319.28 1019.37,325.36 1027.29,331.6 1006.47,356.42 999.03,350.58 991.49,344.88 983.84,339.33Z"/>
<path fill="#79be2d" stroke="#79be2d" stroke-width="0.6" d="M1027.29,331.6 1035.1,338 1042.77,344.55 1050.33,351.25 1028.1,374.82 1021.01,368.54 1013.8,362.41 1006.47,356.42Z"/>
<path fill="#7abe2c" stroke="#7abe2c" stroke-width="0.6" d="M1050.33,351.25 1057.75,358.1 1065.05,365.1 1072.21,372.24 1048.65,394.47 1041.92,387.78 1035.07,381.23 1028.1,374.82Z"/>
<path fill="#7bbe2c" stroke="#7bbe2c" stroke-width="0.6" d="M1072.21,372.24 1079.23,379.51 1086.11,386.93 1092.86,394.48 1068.04,415.3 1061.71,408.23 1055.24,401.28 1048.65,394.47Z"/>
<path fill="#7cbe2c" stroke="#7cbe2c" stroke-width="0.6" d="M1092.86,394.48 1099.45,402.17 1105.9,409.98 1112.2,417.92 1086.21,437.26 1080.3,429.82 1074.24,422.5 1068.04,415.3Z"/>
<path fill="#7dbe2b" stroke="#7dbe2b" stroke-width="0.6" d="M1112.2,417.92 1118.34,425.98 1124.33,434.17 1130.16,442.47 1103.1,460.27 1097.62,452.49 1091.99,444.82 1086.21,437.26Z"/>
<path fill="#7ebe2b" stroke="#7ebe2b" stroke-width="0.6" d="M1130.16,442.47 1135.84,450.89 1141.35,459.42 1146.69,468.06 1118.64,484.26 1113.61,476.16 1108.43,468.16 1103.1,460.27Z"/>
<path fill="#7fbe2b" stroke="#7fbe2b" stroke-width="0.6" d="M1146.69,468.06 1151.87,476.81 1156.88,485.65 1161.72,494.6 1132.77,509.14 1128.22,500.75 1123.51,492.46 1118.64,484.26Z"/>
<path fill="#80be2a" stroke="#80be2a" stroke-width="0.6" d="M1161.72,494.6 1166.39,503.64 1170.88,512.78 1175.2,522 1145.46,534.83 1141.39,526.18 1137.17,517.62 1132.77,509.14Z"/>
<path fill="#80be2a" stroke="#80be2a" stroke-width="0.6" d="M1175.2,522 1179.34,531.31 1183.3,540.7 1187.08,550.17 1156.64,561.25 1153.08,552.37 1149.35,543.56 1145.46,534.83Z"/>
<path fill="#82be2a" stroke="#82be2a" stroke-width="0.6" d="M1187.08,550.17 1190.67,559.72 1194.08,569.34 1197.31,579.02 1166.27,588.31 1163.23,579.23 1160.02,570.2 1156.64,561.25Z"/>
<path fill="#82bd29" stroke="#82bd29" stroke-width="0.6" d="M1197.31,579.02 1200.34,588.77 1203.19,598.58 1205.85,608.45 1174.33,615.92 1171.82,606.66 1169.13,597.46 1166.27,588.31Z"/>
<path fill="#84bd29" stroke="#84bd29" stroke-width="0.6" d="M1205.85,608.45 1208.32,618.38 1210.59,628.35 1212.67,638.37 1180.77,643.99 1178.8,634.59 1176.66,625.23 1174.33,615.92Z"/>
<path fill="#84bd29" stroke="#84bd29" stroke-width="0.6" d="M1212.67,638.37 1214.56,648.43 1216.26,658.53 1217.75,668.67 1185.58,672.43 1184.16,662.91 1182.56,653.43 1180.77,643.99Z"/>
<path fill="#86bd29" stroke="#86bd29" stroke-width="0.6" d="M1217.75,668.67 1219.06,678.83 1220.16,689.03 1221.07,699.24 1188.73,701.13 1187.86,691.54 1186.81,681.97 1185.58,672.43Z"/>
<path fill="#86bc28" stroke="#86bc28" stroke-width="0.6" d="M1221.07,699.24 1221.77,709.48 1222.29,719.73 1222.6,730 1190.2,730 1189.9,720.36 1189.4,710.74 1188.73,701.13Z"/>
<path fill="#88bc28" stroke="#88bc28" stroke-width="0.6" d="M1222.6,730 1222.71,740.27 1222.62,750.55 1222.33,760.83 1189.99,758.95 1190.25,749.3 1190.32,739.65 1190.2,730Z"/>
<path fill="#88bc28" stroke="#88bc28" stroke-width="0.6" d="M1222.33,760.83 1221.85,771.11 1221.16,781.37 1220.28,791.63 1188.1,787.87 1188.92,778.24 1189.55,768.6 1189.99,758.95Z"/>
<path fill="#8abc28" stroke="#8abc28" stroke-width="0.6" d="M1220.28,791.63 1219.19,801.87 1217.91,812.09 1216.43,822.29 1184.52,816.67 1185.9,807.09 1187.1,797.49 1188.1,787.87Z"/>
<path fill="#8abb27" stroke="#8abb27" stroke-width="0.6" d="M1216.43,822.29 1214.75,832.47 1212.87,842.61 1210.79,852.72 1179.27,845.25 1181.21,835.75 1182.96,826.23 1184.52,816.67Z"/>
<path fill="#8cbb27" stroke="#8cbb27" stroke-width="0.6" d="M1210.79,852.72 1208.52,862.79 1206.05,872.82 1203.39,882.8 1172.36,873.51 1174.85,864.13 1177.15,854.71 1179.27,845.25Z"/>
<path fill="#8cbb27" stroke="#8cbb27" stroke-width="0.6" d="M1203.39,882.8 1200.53,892.73 1197.48,902.61 1194.24,912.44 1163.8,901.36 1166.83,892.13 1169.69,882.84 1172.36,873.51Z"/>
<path fill="#8ebb27" stroke="#8ebb27" stroke-width="0.6" d="M1194.24,912.44 1190.8,922.2 1187.18,931.9 1183.37,941.52 1153.62,928.69 1157.19,919.64 1160.58,910.53 1163.8,901.36Z"/>
<path fill="#8eba26" stroke="#8eba26" stroke-width="0.6" d="M1183.37,941.52 1179.37,951.08 1175.18,960.56 1170.81,969.96 1141.86,955.42 1145.95,946.59 1149.87,937.68 1153.62,928.69Z"/>
<path fill="#90ba26" stroke="#90ba26" stroke-width="0.6" d="M1170.81,969.96 1166.25,979.28 1161.51,988.51 1156.59,997.66 1128.54,981.46 1133.15,972.86 1137.59,964.18 1141.86,955.42Z"/>
<path fill="#90ba26" stroke="#90ba26" stroke-width="0.6" d="M1156.59,997.66 1151.5,1006.71 1146.23,1015.66 1140.78,1024.51 1113.71,1006.71 1118.82,998.38 1123.76,989.97 1128.54,981.46Z"/>
<path fill="#91ba25" stroke="#91ba25" stroke-width="0.6" d="M1140.78,1024.51 1135.16,1033.26 1129.37,1041.9 1123.41,1050.43 1097.42,1031.08 1103.01,1023.06 1108.44,1014.93 1113.71,1006.71Z"/>
<path fill="#91ba25" stroke="#91ba25" stroke-width="0.6" d="M1123.41,1050.43 1117.28,1058.84 1110.99,1067.14 1104.53,1075.32 1079.72,1054.49 1085.77,1046.8 1091.67,1039 1097.42,1031.08Z"/>
<path fill="#92ba25" stroke="#92ba25" stroke-width="0.6" d="M1104.53,1075.32 1097.92,1083.37 1091.15,1091.3 1084.22,1099.1 1060.66,1076.87 1067.16,1069.53 1073.51,1062.07 1079.72,1054.49Z"/>
<path fill="#92b924" stroke="#92b924" stroke-width="0.6" d="M1084.22,1099.1 1077.14,1106.76 1069.91,1114.29 1062.53,1121.68 1040.3,1098.12 1047.23,1091.16 1054.01,1084.08 1060.66,1076.87Z"/>
<path fill="#93b924" stroke="#93b924" stroke-width="0.6" d="M1062.53,1121.68 1055.01,1128.93 1047.35,1136.04 1039.54,1142.99 1018.72,1118.18 1026.05,1111.63 1033.24,1104.94 1040.3,1098.12Z"/>
<path fill="#93b924" stroke="#93b924" stroke-width="0.6" d="M1039.54,1142.99 1031.6,1149.8 1023.53,1156.45 1015.32,1162.95 995.98,1136.97 1003.68,1130.85 1011.26,1124.59 1018.72,1118.18Z"/>
<path fill="#94b923" stroke="#94b923" stroke-width="0.6" d="M1015.32,1162.95 1006.99,1169.29 998.53,1175.48 989.95,1181.49 972.15,1154.43 980.21,1148.76 988.15,1142.94 995.98,1136.97Z"/>
<path fill="#94b923" stroke="#94b923" stroke-width="0.6" d="M989.95,1181.49 981.25,1187.35 972.44,1193.03 963.51,1198.55 947.32,1170.49 955.7,1165.3 963.98,1159.94 972.15,1154.43Z"/>
<path fill="#95b922" stroke="#95b922" stroke-width="0.6" d="M963.51,1198.55 954.48,1203.89 945.34,1209.06 936.1,1214.05 921.56,1185.1 930.24,1180.4 938.83,1175.53 947.32,1170.49Z"/>
<path fill="#95b922" stroke="#95b922" stroke-width="0.6" d="M936.1,1214.05 926.76,1218.86 917.32,1223.5 907.79,1227.95 894.96,1198.2 903.92,1194.01 912.78,1189.64 921.56,1185.1Z"/>
<path fill="#96b922" stroke="#96b922" stroke-width="0.6" d="M907.79,1227.95 898.18,1232.22 888.48,1236.3 878.69,1240.19 867.61,1209.75 876.81,1206.08 885.93,1202.23 894.96,1198.2Z"/>
<path fill="#96b821" stroke="#96b821" stroke-width="0.6" d="M878.69,1240.19 868.83,1243.9 858.9,1247.41 848.9,1250.73 839.61,1219.7 849.01,1216.56 858.35,1213.25 867.61,1209.75Z"/>
<path fill="#97b821" stroke="#97b821" stroke-width="0.6" d="M848.9,1250.73 838.83,1253.86 828.69,1256.8 818.5,1259.54 811.03,1228.02 820.61,1225.43 830.14,1222.66 839.61,1219.7Z"/>
<path fill="#97b821" stroke="#97b821" stroke-width="0.6" d="M818.5,1259.54 808.25,1262.08 797.96,1264.42 787.61,1266.56 781.99,1234.66 791.71,1232.63 801.4,1230.42 811.03,1228.02Z"/>
<path fill="#98b820" stroke="#98b820" stroke-width="0.6" d="M787.61,1266.56 777.22,1268.51 766.79,1270.25 756.33,1271.79 752.56,1239.61 762.41,1238.15 772.22,1236.5 781.99,1234.66Z"/>
<path fill="#98b820" stroke="#98b820" stroke-width="0.6" d="M756.33,1271.79 745.83,1273.12 735.3,1274.26 724.75,1275.19 722.87,1242.85 732.79,1241.96 742.69,1240.88 752.56,1239.61Z"/>
<path fill="#99b820" stroke="#99b820" stroke-width="0.6" d="M724.75,1275.19 714.18,1275.91 703.6,1276.43 693,1276.75 693,1244.35 702.97,1244.04 712.93,1243.54 722.87,1242.85Z"/>
<path fill="#9ab71f" stroke="#9ab71f" stroke-width="0.6" d="M693,1276.75 682.39,1276.86 671.78,1276.76 661.17,1276.46 663.06,1244.12 673.04,1244.39 683.02,1244.47 693,1244.35Z"/>
<path fill="#9ab71f" stroke="#9ab71f" stroke-width="0.6" d="M661.17,1276.46 650.57,1275.95 639.97,1275.23 629.38,1274.31 633.14,1242.14 643.1,1242.99 653.08,1243.65 663.06,1244.12Z"/>
<path fill="#9bb71f" stroke="#9bb71f" stroke-width="0.6" d="M629.38,1274.31 618.81,1273.18 608.26,1271.85 597.73,1270.32 603.35,1238.41 613.26,1239.85 623.19,1241.09 633.14,1242.14Z"/>
<path fill="#9bb61f" stroke="#9bb61f" stroke-width="0.6" d="M597.73,1270.32 587.23,1268.58 576.76,1266.63 566.33,1264.48 573.8,1232.96 583.62,1234.97 593.47,1236.79 603.35,1238.41Z"/>
<path fill="#9cb61e" stroke="#9cb61e" stroke-width="0.6" d="M566.33,1264.48 555.93,1262.13 545.58,1259.57 535.28,1256.82 544.57,1225.79 554.27,1228.37 564.01,1230.76 573.8,1232.96Z"/>
<path fill="#9db61e" stroke="#9db61e" stroke-width="0.6" d="M535.28,1256.82 525.03,1253.86 514.83,1250.71 504.7,1247.35 515.78,1216.91 525.32,1220.06 534.92,1223.02 544.57,1225.79Z"/>
<path fill="#9db51e" stroke="#9db51e" stroke-width="0.6" d="M504.7,1247.35 494.62,1243.8 484.62,1240.06 474.68,1236.11 487.51,1206.37 496.87,1210.07 506.29,1213.58 515.78,1216.91Z"/>
<path fill="#9eb51e" stroke="#9eb51e" stroke-width="0.6" d="M474.68,1236.11 464.82,1231.98 455.04,1227.65 445.34,1223.13 459.88,1194.18 469.01,1198.42 478.23,1202.49 487.51,1206.37Z"/>
<path fill="#9fb51d" stroke="#9fb51d" stroke-width="0.6" d="M445.34,1223.13 435.73,1218.42 426.2,1213.53 416.77,1208.45 432.97,1180.39 441.85,1185.16 450.82,1189.76 459.88,1194.18Z"/>
<path fill="#9fb41d" stroke="#9fb41d" stroke-width="0.6" d="M416.77,1208.45 407.43,1203.18 398.2,1197.73 389.07,1192.11 406.87,1165.04 415.47,1170.33 424.17,1175.45 432.97,1180.39Z"/>
<path fill="#a0b41d" stroke="#a0b41d" stroke-width="0.6" d="M389.07,1192.11 380.04,1186.3 371.13,1180.32 362.33,1174.16 381.68,1148.18 389.97,1153.96 398.37,1159.59 406.87,1165.04Z"/>
<path fill="#a0b41d" stroke="#a0b41d" stroke-width="0.6" d="M362.33,1174.16 353.65,1167.83 345.09,1161.34 336.66,1154.67 357.48,1129.86 365.43,1136.12 373.5,1142.23 381.68,1148.18Z"/>
<path fill="#a1b31c" stroke="#a1b31c" stroke-width="0.6" d="M336.66,1154.67 328.35,1147.84 320.18,1140.85 312.13,1133.69 334.36,1110.13 341.94,1116.86 349.65,1123.43 357.48,1129.86Z"/>
<path fill="#a2b31c" stroke="#a2b31c" stroke-width="0.6" d="M312.13,1133.69 304.23,1126.38 296.46,1118.92 288.84,1111.3 312.41,1089.07 319.59,1096.24 326.91,1103.26 334.36,1110.13Z"/>
<path fill="#a2b31c" stroke="#a2b31c" stroke-width="0.6" d="M288.84,1111.3 281.37,1103.54 274.04,1095.62 266.87,1087.57 291.68,1066.74 298.45,1074.32 305.36,1081.77 312.41,1089.07Z"/>
<path fill="#a3b21c" stroke="#a3b21c" stroke-width="0.6" d="M266.87,1087.57 259.85,1079.37 252.99,1071.03 246.29,1062.56 272.27,1043.22 278.59,1051.19 285.07,1059.03 291.68,1066.74Z"/>
<path fill="#a3b21c" stroke="#a3b21c" stroke-width="0.6" d="M246.29,1062.56 239.75,1053.96 233.38,1045.23 227.18,1036.38 254.24,1018.57 260.1,1026.91 266.11,1035.12 272.27,1043.22Z"/>
<path fill="#a3b11c" stroke="#a3b11c" stroke-width="0.6" d="M227.18,1036.38 221.15,1027.4 215.29,1018.3 209.6,1009.09 237.66,992.89 243.02,1001.56 248.55,1010.12 254.24,1018.57Z"/>
<path fill="#a4b11b" stroke="#a4b11b" stroke-width="0.6" d="M209.6,1009.09 204.1,999.77 198.77,990.33 193.62,980.8 222.57,966.26 227.43,975.24 232.46,984.12 237.66,992.89Z"/>
<path fill="#a4b01b" stroke="#a4b01b" stroke-width="0.6" d="M193.62,980.8 188.66,971.16 183.89,961.42 179.3,951.59 209.05,938.76 213.38,948.01 217.89,957.18 222.57,966.26Z"/>
<path fill="#a4b01b" stroke="#a4b01b" stroke-width="0.6" d="M179.3,951.59 174.91,941.66 170.7,931.65 166.69,921.56 197.13,910.48 200.92,919.99 204.9,929.41 209.05,938.76Z"/>
<path fill="#a5af1b" stroke="#a5af1b" stroke-width="0.6" d="M166.69,921.56 162.88,911.39 159.26,901.14 155.84,890.82 186.87,881.53 190.1,891.25 193.53,900.9 197.13,910.48Z"/>
<path fill="#a5af1b" stroke="#a5af1b" stroke-width="0.6" d="M155.84,890.82 152.61,880.43 149.59,869.97 146.78,859.46 178.3,851.99 180.96,861.89 183.82,871.74 186.87,881.53Z"/>
<path fill="#a6ae1b" stroke="#a6ae1b" stroke-width="0.6" d="M146.78,859.46 144.16,848.89 141.75,838.26 139.55,827.59 171.45,821.96 173.54,832.02 175.82,842.03 178.3,851.99Z"/>
<path fill="#a6ae1b" stroke="#a6ae1b" stroke-width="0.6" d="M139.55,827.59 137.55,816.87 135.76,806.11 134.18,795.32 166.35,791.56 167.86,801.73 169.56,811.86 171.45,821.96Z"/>
<path fill="#a6ad1b" stroke="#a6ad1b" stroke-width="0.6" d="M134.18,795.32 132.81,784.49 131.64,773.63 130.69,762.75 163.03,760.87 163.94,771.12 165.05,781.35 166.35,791.56Z"/>
<path fill="#a7ad1a" stroke="#a7ad1a" stroke-width="0.6" d="M130.69,762.75 129.95,751.85 129.42,740.93 129.1,730 161.5,730 161.81,740.3 162.32,750.59 163.03,760.87Z"/>
<path fill="#a7ac1a" stroke="#a7ac1a" stroke-width="0.6" d="M129.1,730 129,719.06 129.1,708.12 129.42,697.18 161.76,699.06 161.47,709.37 161.39,719.69 161.5,730Z"/>
<path fill="#a7ac1a" stroke="#a7ac1a" stroke-width="0.6" d="M129.42,697.18 129.96,686.24 130.7,675.31 131.65,664.39 163.83,668.15 162.94,678.44 162.25,688.75 161.76,699.06Z"/>
<path fill="#a8ab1a" stroke="#a8ab1a" stroke-width="0.6" d="M131.65,664.39 132.82,653.49 134.2,642.61 135.79,631.75 167.7,637.37 166.21,647.61 164.92,657.87 163.83,668.15Z"/>
<path fill="#a8aa1a" stroke="#a8aa1a" stroke-width="0.6" d="M135.79,631.75 137.6,620.92 139.61,610.13 141.83,599.37 173.35,606.84 171.27,616.99 169.38,627.16 167.7,637.37Z"/>
<path fill="#a9a919" stroke="#a9a919" stroke-width="0.6" d="M141.83,599.37 144.26,588.65 146.9,577.98 149.75,567.36 180.78,576.65 178.11,586.67 175.63,596.73 173.35,606.84Z"/>
<path fill="#aaa819" stroke="#aaa819" stroke-width="0.6" d="M149.75,567.36 152.81,556.79 156.07,546.28 159.53,535.83 189.97,546.91 186.72,556.77 183.65,566.68 180.78,576.65Z"/>
<path fill="#aba719" stroke="#aba719" stroke-width="0.6" d="M159.53,535.83 163.2,525.45 167.07,515.13 171.14,504.89 200.88,517.72 197.06,527.38 193.42,537.12 189.97,546.91Z"/>
<path fill="#aba618" stroke="#aba618" stroke-width="0.6" d="M171.14,504.89 175.41,494.73 179.88,484.64 184.54,474.64 213.49,489.18 209.1,498.62 204.9,508.13 200.88,517.72Z"/>
<path fill="#aca518" stroke="#aca518" stroke-width="0.6" d="M184.54,474.64 189.4,464.73 194.46,454.91 199.7,445.19 227.76,461.39 222.82,470.56 218.06,479.83 213.49,489.18Z"/>
<path fill="#ada418" stroke="#ada418" stroke-width="0.6" d="M199.7,445.19 205.14,435.57 210.76,426.05 216.56,416.64 243.63,434.44 238.16,443.33 232.87,452.31 227.76,461.39Z"/>
<path fill="#aea317" stroke="#aea317" stroke-width="0.6" d="M216.56,416.64 222.56,407.34 228.73,398.16 235.08,389.09 261.07,408.44 255.08,417 249.27,425.67 243.63,434.44Z"/>
<path fill="#aea217" stroke="#aea217" stroke-width="0.6" d="M235.08,389.09 241.61,380.15 248.32,371.33 255.19,362.63 280.01,383.46 273.53,391.66 267.22,399.99 261.07,408.44Z"/>
<path fill="#afa116" stroke="#afa116" stroke-width="0.6" d="M255.19,362.63 262.24,354.07 269.45,345.65 276.83,337.36 300.39,359.59 293.44,367.42 286.65,375.37 280.01,383.46Z"/>
<path fill="#b0a016" stroke="#b0a016" stroke-width="0.6" d="M276.83,337.36 284.37,329.22 292.07,321.22 299.93,313.37 322.16,336.93 314.75,344.35 307.5,351.9 300.39,359.59Z"/>
<path fill="#b19f16" stroke="#b19f16" stroke-width="0.6" d="M299.93,313.37 307.94,305.67 316.1,298.12 324.41,290.73 345.23,315.55 337.4,322.53 329.71,329.66 322.16,336.93Z"/>
<path fill="#b19e15" stroke="#b19e15" stroke-width="0.6" d="M324.41,290.73 332.86,283.5 341.46,276.43 350.2,269.53 369.54,295.52 361.31,302.04 353.2,308.72 345.23,315.55Z"/>
<path fill="#b29d15" stroke="#b29d15" stroke-width="0.6" d="M350.2,269.53 359.07,262.8 368.07,256.24 377.2,249.85 395,276.91 386.39,282.95 377.9,289.16 369.54,295.52Z"/>
<path fill="#b39c15" stroke="#b39c15" stroke-width="0.6" d="M377.2,249.85 386.46,243.64 395.84,237.6 405.34,231.75 421.53,259.8 412.58,265.34 403.73,271.04 395,276.91Z"/>
<path fill="#b49b14" stroke="#b49b14" stroke-width="0.6" d="M405.34,231.75 414.95,226.08 424.67,220.6 434.51,215.3 449.05,244.25 439.77,249.26 430.6,254.44 421.53,259.8Z"/>
<path fill="#b49914" stroke="#b49914" stroke-width="0.6" d="M434.51,215.3 444.45,210.19 454.48,205.28 464.62,200.56 477.45,230.3 467.89,234.77 458.42,239.42 449.05,244.25Z"/>
<path fill="#b49814" stroke="#b49814" stroke-width="0.6" d="M464.62,200.56 474.85,196.03 485.17,191.7 495.57,187.58 506.65,218.02 496.84,221.92 487.1,226.02 477.45,230.3Z"/>
<path fill="#b49714" stroke="#b49714" stroke-width="0.6" d="M495.57,187.58 506.06,183.65 516.63,179.93 527.27,176.41 536.56,207.44 526.52,210.77 516.55,214.3 506.65,218.02Z"/>
<path fill="#b49614" stroke="#b49614" stroke-width="0.6" d="M527.27,176.41 537.97,173.09 548.75,169.99 559.59,167.09 567.06,198.61 556.83,201.36 546.66,204.3 536.56,207.44Z"/>
<path fill="#b59513" stroke="#b59513" stroke-width="0.6" d="M559.59,167.09 570.48,164.4 581.43,161.92 592.43,159.66 598.06,191.56 587.68,193.71 577.34,196.06 567.06,198.61Z"/>
<path fill="#b59413" stroke="#b59413" stroke-width="0.6" d="M592.43,159.66 603.48,157.61 614.57,155.77 625.69,154.14 629.45,186.32 618.95,187.86 608.49,189.61 598.06,191.56Z"/>
<path fill="#b59313" stroke="#b59313" stroke-width="0.6" d="M625.69,154.14 636.85,152.74 648.04,151.55 659.25,150.57 661.14,182.91 650.55,183.84 639.99,184.98 629.45,186.32Z"/>
<path fill="#b59213" stroke="#b59213" stroke-width="0.6" d="M659.25,150.57 670.49,149.81 681.74,149.27 693,148.95 693,181.35 682.37,181.66 671.74,182.18 661.14,182.91Z"/>
<path fill="#b59113" stroke="#b59113" stroke-width="0.6" d="M693,148.95 704.27,148.85 715.55,148.97 726.82,149.3 724.94,181.64 714.29,181.34 703.64,181.24 693,181.35Z"/>
<path fill="#b59013" stroke="#b59013" stroke-width="0.6" d="M726.82,149.3 738.09,149.86 749.35,150.63 760.6,151.62 756.84,183.8 746.22,182.87 735.58,182.15 724.94,181.64Z"/>
<path fill="#b58f13" stroke="#b58f13" stroke-width="0.6" d="M760.6,151.62 771.83,152.83 783.04,154.26 794.23,155.9 788.6,187.81 778.04,186.26 767.45,184.93 756.84,183.8Z"/>
<path fill="#b58e13" stroke="#b58e13" stroke-width="0.6" d="M794.23,155.9 805.38,157.77 816.5,159.85 827.58,162.14 820.11,193.66 809.65,191.51 799.14,189.55 788.6,187.81Z"/>
<path fill="#b68d12" stroke="#b68d12" stroke-width="0.6" d="M827.58,162.14 838.62,164.66 849.62,167.38 860.56,170.32 851.27,201.35 840.93,198.59 830.54,196.03 820.11,193.66Z"/>
<path fill="#b68c12" stroke="#b68c12" stroke-width="0.6" d="M860.56,170.32 871.44,173.47 882.27,176.84 893.03,180.41 881.95,210.85 871.78,207.49 861.55,204.32 851.27,201.35Z"/>
<path fill="#b68b12" stroke="#b68b12" stroke-width="0.6" d="M893.03,180.41 903.73,184.2 914.35,188.19 924.9,192.39 912.07,222.14 902.1,218.18 892.06,214.42 881.95,210.85Z"/>
<path fill="#b68a12" stroke="#b68a12" stroke-width="0.6" d="M924.9,192.39 935.37,196.8 945.76,201.41 956.05,206.22 941.52,235.17 931.78,230.63 921.97,226.29 912.07,222.14Z"/>
<path fill="#b68812" stroke="#b68812" stroke-width="0.6" d="M956.05,206.22 966.26,211.23 976.37,216.44 986.38,221.85 970.18,249.9 960.72,244.8 951.16,239.89 941.52,235.17Z"/>
<path fill="#b68712" stroke="#b68712" stroke-width="0.6" d="M986.38,221.85 996.29,227.45 1006.09,233.25 1015.78,239.24 997.98,266.3 988.82,260.65 979.55,255.19 970.18,249.9Z"/>
<path fill="#b68512" stroke="#b68512" stroke-width="0.6" d="M1015.78,239.24 1025.36,245.41 1034.81,251.78 1044.15,258.33 1024.8,284.31 1015.98,278.13 1007.03,272.13 997.98,266.3Z"/>
<path fill="#b68412" stroke="#b68412" stroke-width="0.6" d="M1044.15,258.33 1053.36,265.06 1062.44,271.97 1071.39,279.05 1050.57,303.87 1042.1,297.18 1033.51,290.66 1024.8,284.31Z"/>
<path fill="#b78211" stroke="#b78211" stroke-width="0.6" d="M1071.39,279.05 1080.2,286.32 1088.87,293.75 1097.4,301.36 1075.17,324.92 1067.11,317.74 1058.9,310.72 1050.57,303.87Z"/>
<path fill="#b78011" stroke="#b78011" stroke-width="0.6" d="M1097.4,301.36 1105.79,309.13 1114.02,317.06 1122.11,325.16 1098.54,347.39 1090.9,339.75 1083.11,332.25 1075.17,324.92Z"/>
<path fill="#b77f11" stroke="#b77f11" stroke-width="0.6" d="M1122.11,325.16 1130.03,333.41 1137.8,341.82 1145.41,350.39 1120.59,371.21 1113.39,363.12 1106.04,355.18 1098.54,347.39Z"/>
<path fill="#b77d11" stroke="#b77d11" stroke-width="0.6" d="M1145.41,350.39 1152.85,359.1 1160.12,367.95 1167.22,376.95 1141.24,396.3 1134.52,387.8 1127.63,379.44 1120.59,371.21Z"/>
<path fill="#b77c11" stroke="#b77c11" stroke-width="0.6" d="M1167.22,376.95 1174.15,386.09 1180.9,395.37 1187.48,404.78 1160.41,422.58 1154.19,413.69 1147.8,404.93 1141.24,396.3Z"/>
<path fill="#b77a11" stroke="#b77a11" stroke-width="0.6" d="M1187.48,404.78 1193.87,414.31 1200.08,423.98 1206.1,433.76 1178.05,449.96 1172.35,440.71 1166.47,431.59 1160.41,422.58Z"/>
<path fill="#b77911" stroke="#b77911" stroke-width="0.6" d="M1206.1,433.76 1211.94,443.66 1217.58,453.68 1223.03,463.81 1194.08,478.35 1188.92,468.78 1183.57,459.31 1178.05,449.96Z"/>
<path fill="#b77711" stroke="#b77711" stroke-width="0.6" d="M1223.03,463.81 1228.28,474.05 1233.34,484.39 1238.19,494.83 1208.45,507.66 1203.84,497.79 1199.05,488.02 1194.08,478.35Z"/>
<path fill="#b87510" stroke="#b87510" stroke-width="0.6" d="M1238.19,494.83 1242.84,505.36 1247.29,515.99 1251.54,526.71 1221.1,537.79 1217.07,527.66 1212.86,517.62 1208.45,507.66Z"/>
<path fill="#b87410" stroke="#b87410" stroke-width="0.6" d="M1251.54,526.71 1255.58,537.51 1259.41,548.39 1263.02,559.35 1231.99,568.64 1228.56,558.28 1224.93,548 1221.1,537.79Z"/>
<path fill="#b87210" stroke="#b87210" stroke-width="0.6" d="M1263.02,559.35 1266.43,570.38 1269.62,581.47 1272.6,592.63 1241.08,600.1 1238.25,589.55 1235.22,579.06 1231.99,568.64Z"/>
<path fill="#b87110" stroke="#b87110" stroke-width="0.6" d="M1272.6,592.63 1275.36,603.85 1277.91,615.13 1280.23,626.46 1248.33,632.08 1246.12,621.37 1243.7,610.71 1241.08,600.1Z"/>
<path fill="#b87010" stroke="#b87010" stroke-width="0.6" d="M1280.23,626.46 1282.34,637.83 1284.22,649.25 1285.89,660.7 1253.71,664.46 1252.13,653.63 1250.33,642.84 1248.33,632.08Z"/>
<path fill="#b86e10" stroke="#b86e10" stroke-width="0.6" d="M1285.89,660.7 1287.33,672.19 1288.55,683.71 1289.55,695.26 1257.21,697.14 1256.26,686.22 1255.09,675.33 1253.71,664.46Z"/>
<path fill="#b86e0f" stroke="#b86e0f" stroke-width="0.6" d="M1289.55,695.26 1290.32,706.82 1290.87,718.4 1291.2,730 1258.8,730 1258.48,719.03 1257.95,708.08 1257.21,697.14Z"/>
<path fill="#b86c0f" stroke="#b86c0f" stroke-width="0.6" d="M1291.2,730 1291.3,741.6 1291.17,753.21 1290.82,764.82 1258.48,762.94 1258.8,751.96 1258.91,740.98 1258.8,730Z"/>
<path fill="#b86c0f" stroke="#b86c0f" stroke-width="0.6" d="M1290.82,764.82 1290.24,776.42 1289.44,788.01 1288.41,799.59 1256.24,795.83 1257.2,784.88 1257.94,773.91 1258.48,762.94Z"/>
<path fill="#b86a0f" stroke="#b86a0f" stroke-width="0.6" d="M1288.41,799.59 1287.16,811.16 1285.69,822.69 1283.98,834.21 1252.08,828.58 1253.68,817.69 1255.07,806.77 1256.24,795.83Z"/>
<path fill="#b86a0e" stroke="#b86a0e" stroke-width="0.6" d="M1283.98,834.21 1282.06,845.69 1279.91,857.13 1277.54,868.54 1246.02,861.07 1248.25,850.28 1250.27,839.45 1252.08,828.58Z"/>
<path fill="#b8680e" stroke="#b8680e" stroke-width="0.6" d="M1277.54,868.54 1274.95,879.9 1272.14,891.22 1269.11,902.48 1238.07,893.18 1240.93,882.53 1243.58,871.82 1246.02,861.07Z"/>
<path fill="#b8680e" stroke="#b8680e" stroke-width="0.6" d="M1269.11,902.48 1265.86,913.68 1262.39,924.82 1258.7,935.9 1228.26,924.82 1231.74,914.33 1235.01,903.79 1238.07,893.18Z"/>
<path fill="#b8660e" stroke="#b8660e" stroke-width="0.6" d="M1258.7,935.9 1254.8,946.91 1250.68,957.84 1246.36,968.69 1216.61,955.86 1220.7,945.59 1224.58,935.24 1228.26,924.82Z"/>
<path fill="#b8660d" stroke="#b8660d" stroke-width="0.6" d="M1246.36,968.69 1241.82,979.47 1237.07,990.15 1232.11,1000.75 1203.16,986.21 1207.84,976.18 1212.33,966.06 1216.61,955.86Z"/>
<path fill="#b8640d" stroke="#b8640d" stroke-width="0.6" d="M1232.11,1000.75 1226.94,1011.25 1221.58,1021.66 1216,1031.96 1187.95,1015.76 1193.21,1006.01 1198.28,996.16 1203.16,986.21Z"/>
<path fill="#b8640d" stroke="#b8640d" stroke-width="0.6" d="M1216,1031.96 1210.23,1042.15 1204.26,1052.24 1198.09,1062.2 1171.03,1044.4 1176.85,1034.96 1182.5,1025.41 1187.95,1015.76Z"/>
<path fill="#b8620d" stroke="#b8620d" stroke-width="0.6" d="M1198.09,1062.2 1191.73,1072.06 1185.18,1081.79 1178.43,1091.39 1152.45,1072.05 1158.82,1062.95 1165.02,1053.73 1171.03,1044.4Z"/>
<path fill="#b8620c" stroke="#b8620c" stroke-width="0.6" d="M1178.43,1091.39 1171.5,1100.87 1164.38,1110.21 1157.08,1119.41 1132.27,1098.59 1139.17,1089.87 1145.9,1081.02 1152.45,1072.05Z"/>
<path fill="#b8600c" stroke="#b8600c" stroke-width="0.6" d="M1157.08,1119.41 1149.6,1128.48 1141.95,1137.4 1134.12,1146.17 1110.56,1123.94 1117.96,1115.63 1125.2,1107.18 1132.27,1098.59Z"/>
<path fill="#b85f0c" stroke="#b85f0c" stroke-width="0.6" d="M1134.12,1146.17 1126.12,1154.8 1117.95,1163.27 1109.61,1171.58 1087.38,1148.02 1095.26,1140.14 1102.99,1132.11 1110.56,1123.94Z"/>
<path fill="#b85e0c" stroke="#b85e0c" stroke-width="0.6" d="M1109.61,1171.58 1101.11,1179.73 1092.45,1187.72 1083.64,1195.54 1062.81,1170.73 1071.15,1163.31 1079.34,1155.74 1087.38,1148.02Z"/>
<path fill="#b85c0c" stroke="#b85c0c" stroke-width="0.6" d="M1083.64,1195.54 1074.67,1203.2 1065.55,1210.68 1056.29,1217.98 1036.94,1191.99 1045.71,1185.07 1054.33,1177.98 1062.81,1170.73Z"/>
<path fill="#b85b0c" stroke="#b85b0c" stroke-width="0.6" d="M1056.29,1217.98 1046.88,1225.1 1037.33,1232.05 1027.65,1238.81 1009.85,1211.74 1019.01,1205.33 1028.04,1198.75 1036.94,1191.99Z"/>
<path fill="#b8590b" stroke="#b8590b" stroke-width="0.6" d="M1027.65,1238.81 1017.83,1245.38 1007.89,1251.76 997.81,1257.95 981.62,1229.9 991.15,1224.03 1000.56,1217.98 1009.85,1211.74Z"/>
<path fill="#b8580b" stroke="#b8580b" stroke-width="0.6" d="M997.81,1257.95 987.62,1263.95 977.31,1269.75 966.89,1275.35 952.35,1246.4 962.21,1241.09 971.97,1235.59 981.62,1229.9Z"/>
<path fill="#b8560b" stroke="#b8560b" stroke-width="0.6" d="M966.89,1275.35 956.35,1280.75 945.71,1285.95 934.96,1290.94 922.13,1261.19 932.3,1256.46 942.38,1251.53 952.35,1246.4Z"/>
<path fill="#b8550b" stroke="#b8550b" stroke-width="0.6" d="M934.96,1290.94 924.12,1295.72 913.18,1300.29 902.16,1304.66 891.08,1274.21 901.52,1270.07 911.87,1265.73 922.13,1261.19Z"/>
<path fill="#b8530b" stroke="#b8530b" stroke-width="0.6" d="M902.16,1304.66 891.04,1308.8 879.85,1312.74 868.57,1316.45 859.28,1285.42 869.96,1281.89 880.56,1278.15 891.08,1274.21Z"/>
<path fill="#b8520b" stroke="#b8520b" stroke-width="0.6" d="M868.57,1316.45 857.22,1319.95 845.81,1323.23 834.32,1326.29 826.85,1294.77 837.73,1291.86 848.54,1288.74 859.28,1285.42Z"/>
<path fill="#b8500b" stroke="#b8500b" stroke-width="0.6" d="M834.32,1326.29 822.78,1329.12 811.18,1331.73 799.52,1334.12 793.9,1302.22 804.93,1299.95 815.92,1297.46 826.85,1294.77Z"/>
<path fill="#b84f0b" stroke="#b84f0b" stroke-width="0.6" d="M799.52,1334.12 787.82,1336.28 776.07,1338.22 764.29,1339.92 760.53,1307.75 771.69,1306.12 782.81,1304.28 793.9,1302.22Z"/>
<path fill="#b84d0a" stroke="#b84d0a" stroke-width="0.6" d="M764.29,1339.92 752.47,1341.4 740.62,1342.65 728.74,1343.67 726.86,1311.33 738.11,1310.35 749.33,1309.16 760.53,1307.75Z"/>
<path fill="#b84c0a" stroke="#b84c0a" stroke-width="0.6" d="M728.74,1343.67 716.84,1344.46 704.93,1345.02 693,1345.35 693,1312.95 704.3,1312.63 715.59,1312.09 726.86,1311.33Z"/>
<path fill="#b84a0a" stroke="#b84a0a" stroke-width="0.6" d="M693,1345.35 681.06,1345.44 669.12,1345.31 657.18,1344.94 659.07,1312.6 670.38,1312.94 681.69,1313.05 693,1312.95Z"/>
<path fill="#b8490a" stroke="#b8490a" stroke-width="0.6" d="M657.18,1344.94 645.25,1344.34 633.32,1343.51 621.41,1342.45 625.18,1310.27 636.46,1311.27 647.76,1312.04 659.07,1312.6Z"/>
<path fill="#b8470a" stroke="#b8470a" stroke-width="0.6" d="M621.41,1342.45 609.52,1341.15 597.66,1339.63 585.81,1337.87 591.44,1305.97 602.66,1307.62 613.91,1309.06 625.18,1310.27Z"/>
<path fill="#b8460a" stroke="#b8460a" stroke-width="0.6" d="M585.81,1337.87 574.01,1335.89 562.24,1333.67 550.51,1331.23 557.98,1299.71 569.09,1302.01 580.25,1304.1 591.44,1305.97Z"/>
<path fill="#b9450a" stroke="#b9450a" stroke-width="0.6" d="M550.51,1331.23 538.82,1328.56 527.19,1325.66 515.61,1322.54 524.9,1291.5 535.87,1294.45 546.9,1297.19 557.98,1299.71Z"/>
<path fill="#b9440a" stroke="#b9440a" stroke-width="0.6" d="M515.61,1322.54 504.08,1319.19 492.63,1315.61 481.24,1311.82 492.31,1281.38 503.11,1284.96 513.97,1288.34 524.9,1291.5Z"/>
<path fill="#b94209" stroke="#b94209" stroke-width="0.6" d="M481.24,1311.82 469.92,1307.8 458.67,1303.56 447.51,1299.1 460.34,1269.36 470.93,1273.57 481.58,1277.58 492.31,1281.38Z"/>
<path fill="#b94109" stroke="#b94109" stroke-width="0.6" d="M447.51,1299.1 436.44,1294.43 425.45,1289.54 414.55,1284.43 429.09,1255.49 439.42,1260.31 449.84,1264.94 460.34,1269.36Z"/>
<path fill="#ba4009" stroke="#ba4009" stroke-width="0.6" d="M414.55,1284.43 403.75,1279.12 393.06,1273.59 382.47,1267.86 398.67,1239.8 408.71,1245.23 418.85,1250.46 429.09,1255.49Z"/>
<path fill="#ba3f09" stroke="#ba3f09" stroke-width="0.6" d="M382.47,1267.86 371.99,1261.91 361.62,1255.77 351.37,1249.42 369.17,1222.36 378.89,1228.36 388.73,1234.18 398.67,1239.8Z"/>
<path fill="#ba3d09" stroke="#ba3d09" stroke-width="0.6" d="M351.37,1249.42 341.24,1242.87 331.24,1236.13 321.37,1229.19 340.71,1203.2 350.08,1209.77 359.57,1216.16 369.17,1222.36Z"/>
<path fill="#ba3c09" stroke="#ba3c09" stroke-width="0.6" d="M321.37,1229.19 311.63,1222.05 302.03,1214.73 292.56,1207.22 313.39,1182.41 322.36,1189.52 331.47,1196.45 340.71,1203.2Z"/>
<path fill="#bb3b09" stroke="#bb3b09" stroke-width="0.6" d="M292.56,1207.22 283.25,1199.53 274.08,1191.65 265.06,1183.59 287.29,1160.03 295.84,1167.66 304.55,1175.12 313.39,1182.41Z"/>
<path fill="#bb3a09" stroke="#bb3a09" stroke-width="0.6" d="M265.06,1183.59 256.19,1175.36 247.49,1166.95 238.94,1158.38 262.51,1136.15 270.62,1144.27 278.88,1152.23 287.29,1160.03Z"/>
<path fill="#bb3808" stroke="#bb3808" stroke-width="0.6" d="M238.94,1158.38 230.57,1149.64 222.36,1140.73 214.32,1131.66 239.13,1110.84 246.76,1119.43 254.56,1127.87 262.51,1136.15Z"/>
<path fill="#bb3708" stroke="#bb3708" stroke-width="0.6" d="M214.32,1131.66 206.45,1122.44 198.77,1113.06 191.26,1103.53 217.25,1084.18 224.37,1093.21 231.67,1102.1 239.13,1110.84Z"/>
<path fill="#bc3608" stroke="#bc3608" stroke-width="0.6" d="M191.26,1103.53 183.94,1093.85 176.81,1084.03 169.86,1074.07 196.93,1056.27 203.52,1065.71 210.3,1075.01 217.25,1084.18Z"/>
<path fill="#bc3508" stroke="#bc3508" stroke-width="0.6" d="M169.86,1074.07 163.11,1063.98 156.55,1053.75 150.19,1043.39 178.25,1027.19 184.29,1037.01 190.52,1046.7 196.93,1056.27Z"/>
<path fill="#bc3308" stroke="#bc3308" stroke-width="0.6" d="M150.19,1043.39 144.03,1032.91 138.07,1022.3 132.32,1011.58 161.27,997.04 166.74,1007.21 172.4,1017.26 178.25,1027.19Z"/>
<path fill="#bc3208" stroke="#bc3208" stroke-width="0.6" d="M132.32,1011.58 126.78,1000.75 121.44,989.81 116.31,978.76 146.06,965.93 150.93,976.4 156,986.77 161.27,997.04Z"/>
<path fill="#bc3108" stroke="#bc3108" stroke-width="0.6" d="M116.31,978.76 111.4,967.61 106.71,956.36 102.23,945.02 132.67,933.94 136.93,944.69 141.39,955.36 146.06,965.93Z"/>
<path fill="#bc3008" stroke="#bc3008" stroke-width="0.6" d="M102.23,945.02 97.97,933.59 93.93,922.08 90.12,910.49 121.15,901.2 124.78,912.19 128.62,923.11 132.67,933.94Z"/>
<path fill="#bc2e07" stroke="#bc2e07" stroke-width="0.6" d="M90.12,910.49 86.53,898.82 83.16,887.08 80.02,875.28 111.55,867.81 114.53,879 117.73,890.14 121.15,901.2Z"/>
<path fill="#bc2d07" stroke="#bc2d07" stroke-width="0.6" d="M80.02,875.28 77.12,863.41 74.44,851.48 71.99,839.5 103.89,833.88 106.22,845.24 108.78,856.55 111.55,867.81Z"/>
<path fill="#bc2c07" stroke="#bc2c07" stroke-width="0.6" d="M71.99,839.5 69.77,827.47 67.79,815.4 66.04,803.28 98.22,799.52 99.89,811.01 101.78,822.46 103.89,833.88Z"/>
<path fill="#bc2b07" stroke="#bc2b07" stroke-width="0.6" d="M66.04,803.28 64.53,791.13 63.25,778.95 62.21,766.74 94.55,764.86 95.55,776.44 96.77,787.99 98.22,799.52Z"/>
<path fill="#bc2907" stroke="#bc2907" stroke-width="0.6" d="M62.21,766.74 61.4,754.51 60.83,742.26 60.5,730 92.9,730 93.22,741.63 93.77,753.25 94.55,764.86Z"/>
<path fill="#bc2807" stroke="#bc2807" stroke-width="0.6" d="M60.5,730 60.41,717.73 60.56,705.46 60.94,693.19 93.28,695.07 92.93,706.71 92.8,718.36 92.9,730Z"/>
<path fill="#bc2707" stroke="#bc2707" stroke-width="0.6" d="M60.94,693.19 61.56,680.92 62.42,668.66 63.52,656.42 95.69,660.18 94.66,671.8 93.86,683.43 93.28,695.07Z"/>
<path fill="#bc2607" stroke="#bc2607" stroke-width="0.6" d="M63.52,656.42 64.85,644.2 66.43,632.01 68.24,619.84 100.14,625.46 98.43,637.01 96.95,648.59 95.69,660.18Z"/>
<path fill="#bc2406" stroke="#bc2406" stroke-width="0.6" d="M68.24,619.84 70.28,607.7 72.56,595.6 75.08,583.55 106.6,591.02 104.22,602.46 102.07,613.94 100.14,625.46Z"/>
<path fill="#bc2306" stroke="#bc2306" stroke-width="0.6" d="M75.08,583.55 77.83,571.54 80.82,559.59 84.03,547.69 115.07,556.98 112.02,568.27 109.2,579.62 106.6,591.02Z"/>
<path fill="#bc2206" stroke="#bc2206" stroke-width="0.6" d="M84.03,547.69 87.48,535.85 91.16,524.07 95.07,512.37 125.51,523.45 121.81,534.56 118.33,545.74 115.07,556.98Z"/>
<path fill="#bc2106" stroke="#bc2106" stroke-width="0.6" d="M95.07,512.37 99.2,500.74 103.56,489.19 108.15,477.72 137.89,490.55 133.55,501.44 129.42,512.41 125.51,523.45Z"/>
<path fill="#bc1f06" stroke="#bc1f06" stroke-width="0.6" d="M108.15,477.72 112.96,466.34 117.99,455.05 123.24,443.86 152.19,458.39 147.21,469.02 142.45,479.74 137.89,490.55Z"/>
<path fill="#bc1e06" stroke="#bc1e06" stroke-width="0.6" d="M123.24,443.86 128.71,432.76 134.39,421.77 140.29,410.89 168.35,427.09 162.76,437.42 157.37,447.86 152.19,458.39Z"/>
<path fill="#bc1d06" stroke="#bc1d06" stroke-width="0.6" d="M140.29,410.89 146.4,400.13 152.72,389.48 159.25,378.95 186.32,396.75 180.13,406.75 174.14,416.86 168.35,427.09Z"/>
<path fill="#bc1c06" stroke="#bc1c06" stroke-width="0.6" d="M159.25,378.95 165.98,368.54 172.92,358.27 180.06,348.13 206.04,367.47 199.27,377.11 192.7,386.87 186.32,396.75Z"/>
<path fill="#bd1b06" stroke="#bd1b06" stroke-width="0.6" d="M180.06,348.13 187.39,338.12 194.92,328.26 202.64,318.54 227.46,339.36 220.13,348.6 212.99,357.97 206.04,367.47Z"/>
<path fill="#bd1a06" stroke="#bd1a06" stroke-width="0.6" d="M202.64,318.54 210.55,308.97 218.65,299.55 226.93,290.29 250.5,312.52 242.64,321.32 234.96,330.27 227.46,339.36Z"/>
<path fill="#bd1906" stroke="#bd1906" stroke-width="0.6" d="M226.93,290.29 235.4,281.18 244.04,272.24 252.85,263.47 275.08,287.03 266.72,295.37 258.52,303.87 250.5,312.52Z"/>
<path fill="#bd1806" stroke="#bd1806" stroke-width="0.6" d="M252.85,263.47 261.84,254.87 270.99,246.44 280.32,238.18 301.14,263 292.29,270.84 283.61,278.86 275.08,287.03Z"/>
<path fill="#bd1606" stroke="#bd1606" stroke-width="0.6" d="M280.32,238.18 289.8,230.11 299.44,222.21 309.23,214.51 328.58,240.49 319.28,247.82 310.13,255.32 301.14,263Z"/>
<path fill="#bd1506" stroke="#bd1506" stroke-width="0.6" d="M309.23,214.51 319.18,206.99 329.27,199.67 339.5,192.54 357.31,219.6 347.59,226.38 338.01,233.35 328.58,240.49Z"/>
<path fill="#bd1406" stroke="#bd1406" stroke-width="0.6" d="M339.5,192.54 349.88,185.6 360.39,178.87 371.04,172.34 387.23,200.39 377.13,206.6 367.15,213.01 357.31,219.6Z"/>
<path fill="#bd1306" stroke="#bd1306" stroke-width="0.6" d="M371.04,172.34 381.81,166.02 392.7,159.9 403.72,154 418.26,182.94 407.8,188.56 397.46,194.38 387.23,200.39Z"/>
<path fill="#be1206" stroke="#be1206" stroke-width="0.6" d="M403.72,154 414.85,148.3 426.1,142.83 437.45,137.57 450.28,167.31 439.5,172.32 428.83,177.53 418.26,182.94Z"/>
<path fill="#be1106" stroke="#be1106" stroke-width="0.6" d="M437.45,137.57 448.91,132.53 460.46,127.71 472.11,123.11 483.19,153.55 472.13,157.93 461.16,162.52 450.28,167.31Z"/>
<path fill="#be1006" stroke="#be1006" stroke-width="0.6" d="M472.11,123.11 483.85,118.74 495.68,114.6 507.59,110.69 516.88,141.72 505.57,145.45 494.34,149.39 483.19,153.55Z"/>
<path fill="#be0f06" stroke="#be0f06" stroke-width="0.6" d="M507.59,110.69 519.58,107.01 531.64,103.55 543.77,100.34 551.24,131.86 539.72,134.92 528.27,138.21 516.88,141.72Z"/>
<path fill="#be0e06" stroke="#be0e06" stroke-width="0.6" d="M543.77,100.34 555.96,97.35 568.21,94.61 580.52,92.1 586.15,124 574.46,126.4 562.82,129.02 551.24,131.86Z"/>
<path fill="#be0e06" stroke="#be0e06" stroke-width="0.6" d="M580.52,92.1 592.88,89.83 605.28,87.8 617.73,86.01 621.49,118.18 609.67,119.9 597.89,121.83 586.15,124Z"/>
<circle cx="603.79" cy="401.96" r="15" fill="#aaaaaa"/>
<circle cx="829.42" cy="337.95" r="15" fill="#aaaaaa"/>
<circle cx="1090.94" cy="443.42" r="15" fill="#aaaaaa"/>
<circle cx="1258.76" cy="728.16" r="15" fill="#aaaaaa"/>
<circle cx="808.89" cy="1011.35" r="14.5" fill="none" stroke="#b0b0b0" stroke-width="1.4"/>
<circle cx="635.74" cy="1104.46" r="14.5" fill="none" stroke="#b0b0b0" stroke-width="1.4"/>
<circle cx="406.72" cy="1081.35" r="14.5" fill="none" stroke="#b0b0b0" stroke-width="1.4"/>
<circle cx="197.89" cy="912.43" r="14.5" fill="none" stroke="#b0b0b0" stroke-width="1.4"/>
<circle cx="102.01" cy="614.27" r="14.5" fill="none" stroke="#b0b0b0" stroke-width="1.4"/>
<path fill="none" stroke="#b4b4b4" stroke-width="1" d="M533.22,487.07 L537.85,483.83 L542.55,480.69 L547.3,477.63 L552.13,474.67 L557.01,471.79 L561.95,469.02 L566.94,466.33 L572,463.74 L577.1,461.25 L582.26,458.86 L587.46,456.56 L592.71,454.37 L598.01,452.27 L603.35,450.28 L608.73,448.39 L614.16,446.6 L619.62,444.92 L625.11,443.35 L630.64,441.88 L636.2,440.51 L641.79,439.26 L647.41,438.11 L653.05,437.07 L658.72,436.14 L664.41,435.32 L670.11,434.61 L675.84,434.01 L681.57,433.52 L687.32,433.14 L693.08,432.88 L698.85,432.72 L704.63,432.68 L710.41,432.75 L716.19,432.93 L721.97,433.23 L727.74,433.63 L733.51,434.15 L739.28,434.79 L745.03,435.53 L750.78,436.39 L756.51,437.36 L762.22,438.44 L767.92,439.63 L773.6,440.93 L779.25,442.35 L784.88,443.88 L790.48,445.51 L796.06,447.26 L801.6,449.11 L807.11,451.08 L812.58,453.15 L818.02,455.33 L823.41,457.61 L828.77,460.01 L834.08,462.5 L839.35,465.11 L844.56,467.81 L849.73,470.62 L854.85,473.53 L859.91,476.54 L864.91,479.65 L869.86,482.86 L874.75,486.17 L879.58,489.57 L884.34,493.08 L889.04,496.67 L893.67,500.36 L898.22,504.14 L902.71,508.01 L907.13,511.97 L911.47,516.01 L915.74,520.15 L919.92,524.37 L924.03,528.67 L928.05,533.05 L931.99,537.52 L935.85,542.06 L939.62,546.68 L943.3,551.38 L946.9,556.15 L950.4,560.99 L953.81,565.9 L957.13,570.88 L960.35,575.93 L963.47,581.04 L966.5,586.22 L969.42,591.46 L972.25,596.76 L974.98,602.11 L977.6,607.52 L980.12,612.99 L982.53,618.5 L984.84,624.07 L987.04,629.68 L989.13,635.34 L991.12,641.04 L992.99,646.79 L994.75,652.57 L996.41,658.39 L997.94,664.25 L999.37,670.13 L1000.68,676.05 L1001.88,682 L1002.96,687.97 L1003.93,693.97 L1004.78,699.99 L1005.52,706.03 L1006.14,712.08 L1006.64,718.15 L1007.02,724.24 L1007.28,730.33 L1007.43,736.43 L1007.46,742.54 L1007.37,748.65 L1007.16,754.76 L1006.83,760.87 L1006.38,766.98 L1005.81,773.08 L1005.13,779.18 L1004.32,785.26 L1003.4,791.33 L1002.36,797.39 L1001.2,803.42 L999.92,809.44 L998.53,815.44 L997.02,821.41 L995.39,827.36 L993.64,833.27 L991.78,839.16 L989.8,845.01 L987.71,850.83 L985.51,856.61 L983.19,862.35 L980.76,868.04 L978.21,873.7 L975.56,879.3 L972.8,884.86 L969.92,890.36 L966.94,895.81 L963.85,901.21 L960.65,906.55 L957.35,911.83 L953.95,917.05 L950.44,922.2 L946.83,927.29 L943.12,932.31 L939.31,937.26 L935.4,942.14 L931.4,946.95 L927.3,951.68 L923.1,956.33 L918.82,960.9 L914.44,965.39 L909.97,969.8 L905.42,974.13 L900.78,978.36 L896.05,982.51 L891.25,986.57 L886.36,990.54 L881.39,994.42 L876.34,998.2 L871.22,1001.88 L866.03,1005.47 L860.76,1008.95 L855.42,1012.34 L850.01,1015.62 L844.54,1018.8 L839.01,1021.88 L833.41,1024.85 L827.75,1027.71 L822.03,1030.46 L816.26,1033.1 L810.43,1035.63 L804.55,1038.05 L798.62,1040.36 L792.64,1042.55 L786.62,1044.63 L780.56,1046.59 L774.45,1048.44 L768.3,1050.16 L762.12,1051.77 L755.91,1053.26 L749.66,1054.63 L743.39,1055.87 L737.08,1057 L730.75,1058.01 L724.4,1058.89 L718.03,1059.65 L711.64,1060.28 L705.24,1060.79 L698.83,1061.18 L692.4,1061.44 L685.96,1061.58 L679.52,1061.59 L673.08,1061.48 L666.64,1061.24 L660.19,1060.88 L653.76,1060.39 L647.32,1059.78 L640.9,1059.04 L634.49,1058.17 L628.09,1057.18 L621.71,1056.07 L615.35,1054.83 L609.01,1053.47 L602.69,1051.98 L596.4,1050.37 L590.14,1048.64 L583.91,1046.79 L577.71,1044.81 L571.55,1042.71 L565.42,1040.49 L559.34,1038.15 L553.3,1035.69 L547.3,1033.12 L541.35,1030.42 L535.46,1027.61 L529.61,1024.68 L523.82,1021.64 L518.08,1018.48 L512.4,1015.22 L506.79,1011.83 L501.23,1008.34 L495.75,1004.74 L490.33,1001.03 L484.98,997.22 L479.7,993.3 L474.49,989.27 L469.36,985.14 L464.31,980.91 L459.34,976.58 L454.45,972.15 L449.65,967.63 L444.93,963.01 L440.3,958.29 L435.76,953.49 L431.31,948.59 L426.95,943.6 L422.69,938.53 L418.53,933.37 L414.46,928.13 L410.49,922.81 L406.63,917.41 L402.87,911.93 L399.21,906.38 L395.66,900.75 L392.22,895.05 L388.88,889.28 L385.66,883.45 L382.55,877.55 L379.55,871.58 L376.67,865.56 L373.9,859.48 L371.25,853.34 L368.72,847.14 L366.31,840.9 L364.02,834.6 L361.85,828.26 L359.8,821.87 L357.88,815.45 L356.07,808.98 L354.4,802.47 L352.85,795.93 L351.42,789.35 L350.13,782.74 L348.96,776.11 L347.92,769.45 L347.01,762.77 L346.23,756.07 L345.57,749.35 L345.05,742.61 L344.66,735.86 L344.4,729.1 L344.27,722.33 L344.28,715.56 L344.41,708.78 L344.68,702.01 L345.07,695.24 L345.6,688.47 L346.26,681.71 L347.06,674.95 L347.98,668.22 L349.04,661.49 L350.22,654.79 L351.54,648.1 L352.99,641.44 L354.57,634.8 L356.28,628.19 L358.11,621.61 L360.08,615.07 L362.17,608.56 L364.39,602.09 L366.74,595.65 L369.21,589.26 L371.81,582.92 L374.54,576.63 L377.38,570.38 L380.35,564.19 L383.44,558.05 L386.65,551.97 L389.98,545.95 L393.43,539.99 L397,534.1 L400.68,528.27 L404.48,522.52 L408.39,516.83 L412.41,511.22 L416.54,505.68 L420.78,500.23 L425.13,494.85 L429.59,489.55 L434.15,484.34 L438.82,479.22 L443.58,474.18 L448.45,469.24 L453.41,464.38 L458.47,459.63 L463.62,454.96 L468.87,450.4 L474.21,445.94 L479.63,441.58 L485.15,437.32 L490.74,433.16 L496.42,429.12 L502.19,425.18 L508.03,421.36 L513.94,417.64 L519.94,414.04 L526,410.56 L532.14,407.19 L538.34,403.93 L544.61,400.8 L550.94,397.79 L557.33,394.9 L563.78,392.13 L570.29,389.49 L576.85,386.97 L583.46,384.58 L590.12,382.32 L596.83,380.19 L603.58,378.18 L610.38,376.31 L617.21,374.56 L624.08,372.95 L630.99,371.47 L637.92,370.13 L644.89,368.92 L651.88,367.84 L658.89,366.9 L665.93,366.09 L672.98,365.43 L680.05,364.89 L687.13,364.5 L694.22,364.24 L701.32,364.12 L708.43,364.14 L715.54,364.3 L722.65,364.59 L729.75,365.03 L736.85,365.6 L743.94,366.31 L751.02,367.16 L758.09,368.14 L765.14,369.27 L772.17,370.53 L779.17,371.92 L786.16,373.46 L793.12,375.13 L800.04,376.93 L806.94,378.88 L813.8,380.95 L820.62,383.16 L827.4,385.51 L834.14,387.98 L840.84,390.59 L847.48,393.33 L854.08,396.2 L860.62,399.2 L867.1,402.33 L873.53,405.58 L879.9,408.96 L886.2,412.47 L892.44,416.1 L898.61,419.85 L904.71,423.72 L910.73,427.71 L916.68,431.83 L922.56,436.05 L928.35,440.4 L934.06,444.86 L939.69,449.43 L945.23,454.11 L950.68,458.9 L956.04,463.8 L961.3,468.81 L966.47,473.92 L971.55,479.13 L976.52,484.44 L981.4,489.85 L986.17,495.36 L990.83,500.96 L995.39,506.66 L999.84,512.45 L1004.18,518.32 L1008.4,524.28 L1012.51,530.33 L1016.51,536.45 L1020.39,542.66 L1024.15,548.95 L1027.78,555.31 L1031.3,561.74 L1034.69,568.25 L1037.96,574.82 L1041.1,581.46 L1044.11,588.16 L1047,594.92 L1049.75,601.74 L1052.37,608.62 L1054.86,615.55 L1057.22,622.53 L1059.44,629.56 L1061.52,636.64 L1063.47,643.76 L1065.28,650.92 L1066.95,658.12 L1068.49,665.35 L1069.88,672.61 L1071.13,679.91 L1072.24,687.23 L1073.21,694.58 L1074.04,701.94 L1074.72,709.33 L1075.26,716.73 L1075.66,724.15 L1075.91,731.57 L1076.02,739.01 L1075.99,746.45 L1075.81,753.89 L1075.48,761.33 L1075.01,768.76 L1074.4,776.19 L1073.64,783.61 L1072.74,791.02 L1071.69,798.41 L1070.5,805.79 L1069.17,813.14 L1067.69,820.48 L1066.07,827.78 L1064.31,835.06 L1062.4,842.3 L1060.35,849.52 L1058.17,856.69 L1055.84,863.82 L1053.37,870.92 L1050.76,877.96 L1048.02,884.96 L1045.14,891.91 L1042.12,898.8 L1038.97,905.64 L1035.69,912.42 L1032.27,919.13 L1028.72,925.79 L1025.04,932.37 L1021.23,938.89 L1017.29,945.34 L1013.22,951.71 L1009.03,958 L1004.72,964.22 L1000.29,970.35 L995.73,976.4 L991.05,982.37 L986.26,988.24 L981.35,994.02 L976.33,999.71 L971.19,1005.31 L965.95,1010.81 L960.59,1016.2 L955.13,1021.5 L949.56,1026.69 L943.9,1031.77 L938.13,1036.75 L932.26,1041.62 L926.29,1046.37 L920.23,1051.01 L914.08,1055.53 L907.84,1059.94 L901.51,1064.22 L895.1,1068.39 L888.6,1072.43 L882.02,1076.35 L875.36,1080.14 L868.63,1083.8 L861.82,1087.33 L854.94,1090.73 L848,1094 L840.99,1097.13 L833.91,1100.13 L826.78,1103 L819.58,1105.72 L812.33,1108.31 L805.03,1110.76 L797.68,1113.06 L790.28,1115.23 L782.83,1117.25 L775.35,1119.13 L767.82,1120.86 L760.26,1122.45 L752.67,1123.89 L745.04,1125.18 L737.39,1126.33 L729.71,1127.32 L722.01,1128.17 L714.29,1128.87 L706.56,1129.42 L698.81,1129.82 L691.05,1130.07 L683.28,1130.17 L675.51,1130.12 L667.74,1129.91 L659.97,1129.56 L652.2,1129.05 L644.44,1128.4 L636.69,1127.59 L628.95,1126.63 L621.23,1125.52 L613.53,1124.26 L605.85,1122.86 L598.2,1121.3 L590.57,1119.59 L582.97,1117.73 L575.41,1115.73 L567.88,1113.57 L560.39,1111.27 L552.95,1108.83 L545.55,1106.24 L538.2,1103.5 L530.89,1100.62 L523.65,1097.6 L516.45,1094.44 L509.32,1091.13 L502.25,1087.69 L495.24,1084.1 L488.3,1080.38 L481.43,1076.53 L474.64,1072.54 L467.91,1068.41 L461.27,1064.15 L454.71,1059.77 L448.23,1055.25 L441.83,1050.61 L435.53,1045.84 L429.31,1040.95 L423.19,1035.93 L417.16,1030.79 L411.23,1025.54 L405.4,1020.17 L399.67,1014.68 L394.05,1009.08 L388.53,1003.37 L383.13,997.55 L377.83,991.62 L372.65,985.59 L367.58,979.46 L362.63,973.22 L357.8,966.89 L353.1,960.46 L348.51,953.94 L344.05,947.33 L339.72,940.62 L335.52,933.83 L331.44,926.96 L327.5,920.01 L323.69,912.98 L320.02,905.87 L316.49,898.68 L313.09,891.43 L309.83,884.11 L306.72,876.72 L303.74,869.27 L300.91,861.76 L298.23,854.19 L295.69,846.57 L293.3,838.9 L291.06,831.17 L288.96,823.4 L287.02,815.59 L285.23,807.74 L283.59,799.85 L282.1,791.92 L280.77,783.97 L279.59,775.98 L278.56,767.97 L277.69,759.94 L276.98,751.89 L276.42,743.82 L276.02,735.74 L275.77,727.65 L275.69,719.55 L275.76,711.44 L275.98,703.34 L276.37,695.24 L276.91,687.14 L277.61,679.05 L278.47,670.97 L279.48,662.9 L280.65,654.85 L281.98,646.83 L283.46,638.82 L285.1,630.84 L286.9,622.9 L288.85,614.98 L290.95,607.1 L293.21,599.26 L295.63,591.45 L298.19,583.7 L300.9,575.99 L303.77,568.33 L306.79,560.72 L309.95,553.17 L313.26,545.68 L316.72,538.25 L320.33,530.89 L324.07,523.59 L327.97,516.37 L332,509.22 L336.17,502.14 L340.48,495.14 L344.93,488.23 L349.52,481.39 L354.23,474.65 L359.09,467.99 L364.07,461.43 L369.18,454.96 L374.42,448.59 L379.78,442.32 L385.27,436.15 L390.88,430.09 L396.6,424.13 L402.45,418.28 L408.41,412.55 L414.48,406.93 L420.67,401.42 L426.96,396.03 L433.36,390.77 L439.87,385.62 L446.47,380.6 L453.18,375.71 L459.98,370.95 L466.88,366.31 L473.87,361.81 L480.95,357.45 L488.12,353.22 L495.37,349.13 L502.7,345.17 L510.11,341.36 L517.6,337.69 L525.16,334.17 L532.79,330.79 L540.49,327.56 L548.26,324.48 L556.09,321.55 L563.97,318.76 L571.92,316.13 L579.91,313.66 L587.96,311.34 L596.05,309.17 L604.19,307.16 L612.37,305.31 L620.59,303.62 L628.85,302.08 L637.13,300.71 L645.45,299.5 L653.79,298.44 L662.16,297.55 L670.54,296.83 L678.94,296.26 L687.36,295.86 L695.78,295.62 L704.22,295.54 L712.65,295.63 L721.09,295.88 L729.52,296.3 L737.95,296.88 L746.37,297.62 L754.78,298.53 L763.17,299.6 L771.55,300.83 L779.9,302.23 L788.23,303.79 L796.53,305.51 L804.8,307.39 L813.04,309.44 L821.24,311.64 L829.4,314.01 L837.51,316.53 L845.58,319.22 L853.6,322.06 L861.56,325.05 L869.47,328.21 L877.32,331.51 L885.11,334.97 L892.84,338.59 L900.49,342.35 L908.08,346.26 L915.59,350.33 L923.02,354.54 L930.38,358.89 L937.65,363.39 L944.84,368.03 L951.94,372.81 L958.95,377.74 L965.86,382.8 L972.68,387.99 L979.4,393.32 L986.02,398.78 L992.53,404.37 L998.94,410.09 L1005.24,415.94 L1011.43,421.91 L1017.5,428 L1023.45,434.21 L1029.29,440.54 L1035.01,446.98 L1040.6,453.54 L1046.07,460.2 L1051.4,466.98 L1056.61,473.86 L1061.69,480.84 L1066.63,487.93 L1071.44,495.11 L1076.11,502.39 L1080.63,509.76 L1085.02,517.22 L1089.26,524.77 L1093.36,532.4 L1097.31,540.12 L1101.11,547.91 L1104.76,555.78 L1108.26,563.72 L1111.61,571.73 L1114.8,579.81 L1117.83,587.96 L1120.71,596.16 L1123.43,604.43 L1125.99,612.75 L1128.39,621.12 L1130.63,629.54 L1132.7,638 L1134.61,646.51 L1136.35,655.06 L1137.93,663.64 L1139.35,672.26 L1140.6,680.91 L1141.67,689.58 L1142.59,698.28 L1143.33,707 L1143.9,715.73 L1144.3,724.48 L1144.54,733.24 L1144.6,742 L1144.5,750.77 L1144.22,759.54 L1143.77,768.31 L1143.16,777.07 L1142.37,785.82 L1141.41,794.56 L1140.28,803.28 L1138.98,811.98 L1137.52,820.66 L1135.88,829.31 L1134.08,837.94 L1132.11,846.53 L1129.97,855.08 L1127.66,863.6 L1125.19,872.07 L1122.55,880.5 L1119.75,888.88 L1116.78,897.21 L1113.65,905.48 L1110.36,913.69 L1106.91,921.84 L1103.3,929.93 L1099.54,937.95 L1095.61,945.9 L1091.53,953.77 L1087.3,961.57 L1082.91,969.29 L1078.37,976.92 L1073.69,984.47 L1068.85,991.93 L1063.87,999.29 L1058.75,1006.57 L1053.48,1013.74 L1048.07,1020.82 L1042.52,1027.79 L1036.84,1034.65 L1031.02,1041.41 L1025.07,1048.05 L1018.98,1054.59 L1012.77,1061 L1006.43,1067.3 L999.97,1073.47 L993.39,1079.53 L986.69,1085.45 L979.87,1091.25 L972.93,1096.91 L965.89,1102.45 L958.73,1107.84 L951.47,1113.1 L944.1,1118.22 L936.64,1123.2 L929.07,1128.04 L921.41,1132.73 L913.65,1137.27 L905.81,1141.66 L897.87,1145.9 L889.86,1149.99 L881.76,1153.92 L873.58,1157.7 L865.33,1161.32 L857,1164.78 L848.61,1168.08 L840.14,1171.22 L831.62,1174.19 L823.04,1177 L814.39,1179.64 L805.7,1182.12 L796.95,1184.43 L788.16,1186.57 L779.32,1188.54 L770.45,1190.33 L761.53,1191.96 L752.58,1193.41 L743.61,1194.69 L734.6,1195.8 L725.57,1196.73 L716.52,1197.48 L707.45,1198.06 L698.37,1198.47 L689.28,1198.69 L680.18,1198.75 L671.08,1198.62 L661.98,1198.32 L652.88,1197.84 L643.79,1197.18 L634.71,1196.35 L625.64,1195.34 L616.59,1194.16 L607.56,1192.79 L598.56,1191.26 L589.58,1189.55 L580.63,1187.66 L571.72,1185.6 L562.85,1183.36 L554.01,1180.95 L545.22,1178.37 L536.48,1175.62 L527.79,1172.7 L519.16,1169.61 L510.58,1166.35 L502.06,1162.92 L493.61,1159.33 L485.23,1155.57 L476.91,1151.65 L468.67,1147.56 L460.51,1143.32 L452.43,1138.91 L444.43,1134.35 L436.52,1129.63 L428.69,1124.75 L420.96,1119.72 L413.33,1114.54 L405.79,1109.21 L398.36,1103.74 L391.03,1098.11 L383.81,1092.35 L376.7,1086.44 L369.7,1080.39 L362.81,1074.2 L356.05,1067.88 L349.4,1061.43 L342.88,1054.85 L336.49,1048.13 L330.22,1041.3 L324.09,1034.33 L318.09,1027.25 L312.22,1020.05 L306.5,1012.73 L300.91,1005.3 L295.47,997.76 L290.17,990.11 L285.02,982.36 L280.02,974.51 L275.17,966.55 L270.47,958.5 L265.93,950.36 L261.54,942.13 L257.32,933.8 L253.25,925.4 L249.35,916.91 L245.61,908.35 L242.03,899.71 L238.63,891 L235.39,882.22 L232.32,873.38 L229.42,864.47 L226.69,855.51 L224.14,846.49 L221.76,837.42 L219.56,828.3 L217.53,819.13 L215.69,809.93 L214.02,800.68 L212.52,791.41 L211.21,782.09 L210.08,772.76 L209.13,763.39 L208.36,754.01 L207.78,744.61 L207.37,735.2 L207.15,725.77 L207.11,716.34 L207.26,706.91 L207.59,697.47 L208.1,688.04 L208.79,678.62 L209.67,669.21 L210.73,659.81 L211.97,650.44 L213.4,641.08 L215.01,631.75 L216.8,622.45 L218.77,613.18 L220.92,603.95 L223.25,594.75 L225.76,585.6 L228.45,576.5 L231.31,567.44 L234.36,558.44 L237.57,549.5 L240.97,540.62 L244.53,531.8 L248.27,523.04 L252.18,514.36 L256.26,505.75 L260.5,497.22 L264.91,488.77 L269.49,480.4 L274.23,472.12 L279.14,463.93 L284.2,455.84 L289.42,447.83 L294.8,439.93 L300.34,432.13 L306.02,424.44 L311.86,416.86 L317.85,409.38 L323.98,402.02 L330.26,394.78 L336.67,387.66 L343.23,380.66 L349.93,373.79 L356.76,367.05 L363.73,360.43 L370.82,353.95 L378.04,347.61 L385.39,341.41 L392.86,335.34 L400.44,329.42 L408.15,323.65 L415.97,318.02 L423.9,312.55 L431.94,307.23 L440.08,302.06 L448.33,297.05 L456.67,292.2 L465.11,287.51 L473.65,282.98 L482.27,278.61 L490.98,274.42 L499.78,270.39 L508.65,266.53 L517.6,262.84 L526.63,259.33 L535.72,255.99 L544.89,252.82 L554.11,249.83 L563.4,247.03 L572.74,244.4 L582.14,241.95 L591.59,239.68 L601.08,237.6 L610.62,235.7 L620.19,233.98 L629.8,232.46 L639.44,231.11 L649.11,229.96 L658.81,228.99 L668.52,228.21 L678.26,227.61 L688.01,227.21 L697.76,227 L707.53,226.97 L717.29,227.14 L727.06,227.49 L736.82,228.04 L746.57,228.77 L756.31,229.69 L766.04,230.81 L775.74,232.11 L785.43,233.6 L795.08,235.28 L804.71,237.15 L814.3,239.2 L823.85,241.44 L833.37,243.87 L842.83,246.48 L852.25,249.28 L861.62,252.26 L870.93,255.42 L880.18,258.77 L889.37,262.29 L898.49,265.99 L907.55,269.88 L916.53,273.94 L925.43,278.17 L934.25,282.58 L942.99,287.16 L951.64,291.91 L960.21,296.83 L968.67,301.92 L977.05,307.17 L985.32,312.59 L993.48,318.16 L1001.55,323.9 L1009.5,329.8 L1017.34,335.85 L1025.06,342.06 L1032.67,348.41 L1040.15,354.92 L1047.51,361.57 L1054.74,368.37 L1061.84,375.31 L1068.81,382.39 L1075.64,389.6 L1082.33,396.95 L1088.88,404.43 L1095.29,412.05 L1101.55,419.78 L1107.66,427.64 L1113.63,435.62 L1119.43,443.72 L1125.09,451.93 L1130.58,460.26 L1135.91,468.69 L1141.08,477.23 L1146.09,485.87 L1150.93,494.61 L1155.6,503.44 L1160.1,512.37 L1164.43,521.39 L1168.58,530.49 L1172.56,539.68 L1176.36,548.94 L1179.98,558.28 L1183.42,567.7 L1186.68,577.18 L1189.76,586.73 L1192.65,596.34 L1195.35,606 L1197.87,615.73 L1200.2,625.5 L1202.34,635.32 L1204.29,645.19 L1206.05,655.09 L1207.62,665.03 L1208.99,675.01 L1210.17,685.01 L1211.16,695.04 L1211.95,705.09 L1212.55,715.15 L1212.95,725.23 L1213.16,735.32 L1213.17,745.42 L1212.98,755.52 L1212.6,765.62 L1212.02,775.71 L1211.25,785.79 L1210.28,795.86 L1209.11,805.92 L1207.75,815.95 L1206.2,825.96 L1204.44,835.94 L1202.5,845.89 L1200.36,855.8 L1198.03,865.68 L1195.51,875.51 L1192.79,885.3 L1189.88,895.03 L1186.79,904.71 L1183.5,914.33 L1180.03,923.89 L1176.37,933.38 L1172.53,942.81 L1168.5,952.16 L1164.3,961.44 L1159.9,970.64 L1155.33,979.75 L1150.59,988.78 L1145.66,997.71 L1140.56,1006.56 L1135.29,1015.3 L1129.85,1023.95 L1124.24,1032.49 L1118.46,1040.92 L1112.52,1049.25 L1106.41,1057.46 L1100.14,1065.55 L1093.72,1073.53 L1087.13,1081.38 L1080.4,1089.1 L1073.51,1096.7 L1066.47,1104.16 L1059.29,1111.49 L1051.97,1118.68 L1044.5,1125.73 L1036.89,1132.63 L1029.15,1139.39 L1021.28,1146 L1013.27,1152.46 L1005.14,1158.77 L996.88,1164.92 L988.51,1170.91 L980.01,1176.73 L971.4,1182.4 L962.68,1187.9 L953.85,1193.23 L944.91,1198.39 L935.88,1203.38 L926.74,1208.19 L917.51,1212.83 L908.18,1217.28 L898.77,1221.56 L889.27,1225.66 L879.7,1229.57 L870.04,1233.3 L860.31,1236.84 L850.5,1240.19 L840.64,1243.36 L830.7,1246.33 L820.71,1249.11 L810.66,1251.7 L800.56,1254.09 L790.41,1256.28 L780.22,1258.28 L769.98,1260.09 L759.71,1261.69 L749.4,1263.1 L739.07,1264.3 L728.71,1265.3 L718.33,1266.11 L707.93,1266.71 L697.51,1267.11 L687.09,1267.31 L676.66,1267.31 L666.23,1267.1 L655.8,1266.69 L645.38,1266.08 L634.96,1265.26 L624.56,1264.25 L614.18,1263.03 L603.82,1261.61 L593.48,1259.99 L583.17,1258.16 L572.9,1256.14 L562.66,1253.92 L552.47,1251.49 L542.32,1248.87 L532.22,1246.05 L522.17,1243.04 L512.18,1239.83 L502.25,1236.42 L492.38,1232.82 L482.58,1229.03 L472.85,1225.05 L463.2,1220.87 L453.62,1216.51 L444.13,1211.97 L434.73,1207.23 L425.41,1202.32 L416.19,1197.22 L407.07,1191.94 L398.05,1186.49 L389.13,1180.85 L380.32,1175.05 L371.62,1169.07 L363.03,1162.92 L354.56,1156.6 L346.21,1150.12 L337.99,1143.47 L329.89,1136.66 L321.93,1129.7 L314.1,1122.58 L306.4,1115.3 L298.85,1107.87 L291.43,1100.3 L284.17,1092.58 L277.05,1084.72 L270.08,1076.72 L263.27,1068.58 L256.61,1060.3 L250.11,1051.9 L243.78,1043.37 L237.61,1034.71 L231.6,1025.93 L225.77,1017.04 L220.11,1008.03 L214.62,998.9 L209.3,989.67 L204.17,980.33 L199.21,970.9 L194.44,961.36 L189.85,951.73 L185.45,942.01 L181.23,932.2 L177.21,922.31 L173.37,912.33 L169.73,902.29 L166.29,892.16 L163.04,881.97 L159.98,871.72 L157.13,861.4 L154.47,851.02 L152.02,840.6 L149.77,830.12 L147.72,819.6 L145.87,809.03 L144.23,798.43 L142.8,787.79 L141.57,777.12 L140.55,766.43 L139.73,755.71 L139.13,744.98 L138.73,734.23 L138.54,723.48 L138.56,712.71 L138.79,701.95 L139.22,691.19 L139.87,680.43 L140.72,669.69 L141.79,658.96 L143.06,648.25 L144.54,637.56 L146.23,626.9 L148.13,616.26 L150.23,605.67 L152.54,595.11 L155.05,584.59 L157.77,574.12 L160.69,563.71 L163.82,553.34 L167.15,543.04 L170.67,532.8 L174.4,522.62 L178.33,512.52 L182.45,502.49 L186.77,492.54 L191.28,482.67 L195.98,472.88 L200.88,463.19 L205.96,453.58 L211.24,444.08 L216.69,434.68 L222.34,425.37 L228.16,416.18 L234.16,407.1 L240.34,398.13 L246.7,389.29 L253.23,380.56 L259.92,371.96 L266.79,363.49 L273.82,355.15 L281.02,346.94 L288.38,338.87 L295.89,330.95 L303.56,323.16 L311.39,315.53 L319.36,308.04 L327.48,300.71 L335.74,293.54 L344.14,286.52 L352.69,279.67 L361.36,272.98 L370.17,266.46 L379.11,260.11 L388.17,253.93 L397.35,247.92 L406.65,242.09 L416.07,236.45 L425.59,230.98 L435.23,225.7 L444.97,220.6 L454.81,215.69 L464.75,210.97 L474.78,206.45 L484.9,202.12 L495.11,197.98 L505.39,194.04 L515.76,190.3 L526.2,186.76 L536.72,183.42 L547.3,180.29 L557.94,177.36 L568.64,174.64 L579.39,172.12 L590.2,169.81 L601.05,167.72 L611.95,165.83 L622.88,164.15 L633.85,162.69 L644.85,161.44 L655.88,160.4 L666.93,159.57 L677.99,158.96 L689.07,158.57 L700.16,158.39 L711.26,158.42 L722.35,158.67 L733.45,159.14 L744.53,159.82 L755.61,160.71 L766.67,161.83 L777.71,163.15 L788.73,164.69 L799.72,166.45 L810.67,168.42 L821.59,170.6 L832.47,173 L843.31,175.6 L854.09,178.42 L864.83,181.45 L875.51,184.68 L886.12,188.13 L896.67,191.78 L907.16,195.63 L917.57,199.69 L927.9,203.96 L938.15,208.42 L948.32,213.08 L958.39,217.95 L968.38,223.01 L978.27,228.26 L988.06,233.71 L997.74,239.35 L1007.32,245.17 L1016.78,251.19 L1026.14,257.38 L1035.37,263.77 L1044.48,270.33 L1053.46,277.07 L1062.31,283.98 L1071.04,291.07 L1079.62,298.33 L1088.07,305.76 L1096.37,313.35 L1104.53,321.1 L1112.54,329.02 L1120.4,337.09 L1128.1,345.32 L1135.64,353.69 L1143.02,362.22 L1150.24,370.89 L1157.29,379.7 L1164.17,388.65 L1170.88,397.73 L1177.41,406.95 L1183.76,416.29 L1189.94,425.76 L1195.93,435.35 L1201.74,445.06 L1207.35,454.88 L1212.78,464.82 L1218.02,474.86 L1223.07,485 L1227.91,495.25 L1232.56,505.59 L1237.01,516.02 L1241.26,526.54 L1245.3,537.15 L1249.14,547.83 L1252.77,558.6 L1256.2,569.43 L1259.41,580.33 L1262.41,591.3 L1265.2,602.33 L1267.78,613.41 L1270.14,624.54 L1272.29,635.73 L1274.22,646.95 L1275.93,658.22 L1277.43,669.52 L1278.7,680.85 L1279.75,692.21 L1280.59,703.59 L1281.2,714.99 L1281.59,726.4 L1281.76,737.83 L1281.71,749.26 L1281.44,760.68 L1280.95,772.11 L1280.23,783.53 L1279.29,794.93 L1278.13,806.32 L1276.75,817.69 L1275.15,829.04 L1273.32,840.35 L1271.28,851.63 L1269.02,862.88 L1266.54,874.08 L1263.84,885.23 L1260.92,896.34 L1257.79,907.39 L1254.45,918.38 L1250.88,929.31 L1247.11,940.17 L1243.13,950.96 L1238.93,961.67 L1234.53,972.31 L1229.91,982.86 L1225.1,993.32 L1220.08,1003.69 L1214.85,1013.97 L1209.43,1024.14 L1203.81,1034.22 L1197.99,1044.18 L1191.98,1054.04 L1185.77,1063.77 L1179.38,1073.39 L1172.79,1082.89 L1166.03,1092.26 L1159.07,1101.5 L1151.94,1110.61 L1144.63,1119.58 L1137.15,1128.41 L1129.49,1137.1 L1121.66,1145.64 L1113.67,1154.02 L1105.51,1162.26 L1097.19,1170.34 L1088.71,1178.25 L1080.07,1186.01 L1071.29,1193.6 L1062.35,1201.01 L1053.27,1208.26 L1044.05,1215.33 L1034.69,1222.22 L1025.19,1228.94 L1015.56,1235.47 L1005.81,1241.81 L995.93,1247.97 L985.92,1253.93 L975.8,1259.7 L965.57,1265.28 L955.23,1270.66 L944.78,1275.83 L934.22,1280.81 L923.57,1285.58 L912.83,1290.15 L901.99,1294.5 L891.07,1298.65 L880.07,1302.59 L868.99,1306.31 L857.83,1309.82 L846.6,1313.12 L835.31,1316.19 L823.96,1319.05 L812.55,1321.69 L801.08,1324.11 L789.57,1326.3 L778.02,1328.27 L766.42,1330.02 L754.78,1331.54 L743.12,1332.84 L731.43,1333.91 L719.71,1334.75 L707.98,1335.37 L696.24,1335.75 L684.48,1335.92 L672.72,1335.85 L660.96,1335.55 L649.2,1335.03 L637.45,1334.27 L625.72,1333.29 L614,1332.09 L602.3,1330.65 L590.63,1328.98 L578.99,1327.09 L567.38,1324.98 L555.81,1322.63 L544.29,1320.07 L532.81,1317.27 L521.39,1314.26 L510.02,1311.02 L498.72,1307.56 L487.48,1303.89 L476.31,1299.99 L465.21,1295.87 L454.19,1291.54 L443.26,1287 L432.41,1282.24 L421.65,1277.27 L410.98,1272.09 L400.42,1266.7 L389.96,1261.11 L379.6,1255.31 L369.36,1249.31 L359.23,1243.11 L349.22,1236.72 L339.33,1230.12 L329.57,1223.34 L319.93,1216.36 L310.44,1209.2 L301.08,1201.85 L291.86,1194.32 L282.78,1186.61 L273.86,1178.72 L265.08,1170.65 L256.46,1162.42 L248,1154.01 L239.71,1145.44 L231.57,1136.71 L223.61,1127.82 L215.81,1118.77 L208.19,1109.57 L200.75,1100.22 L193.49,1090.72 L186.41,1081.09 L179.52,1071.31 L172.82,1061.4 L166.3,1051.35 L159.98,1041.18 L153.86,1030.88 L147.94,1020.47 L142.22,1009.93 L136.7,999.29 L131.39,988.53 L126.28,977.67 L121.39,966.71 L116.71,955.66 L112.24,944.51 L107.99,933.27 L103.95,921.95 L100.14,910.54 L96.54,899.07 L93.17,887.52 L90.02,875.9 L87.1,864.22 L84.4,852.48 L81.93,840.69 L79.69,828.85 L77.68,816.96 L75.89,805.03 L74.34,793.06 L73.03,781.07 L71.94,769.04 L71.09,757 L70.47,744.93 L70.08,732.85 L69.93,720.76 L70.02,708.67 L70.34,696.58 L70.89,684.49 L71.68,672.41 L72.71,660.34 L73.96,648.29 L75.46,636.26 L77.18,624.26 L79.14,612.3 L81.33,600.37 L83.76,588.48 L86.41,576.63 L89.3,564.84 L92.41,553.09 L95.76,541.41 L99.33,529.79 L103.12,518.24 L107.14,506.76 L111.39,495.36 L115.86,484.04 L120.54,472.8 L125.45,461.65 L130.57,450.6 L135.91,439.64 L141.46,428.78 L147.23,418.04 L153.2,407.4 L159.38,396.87 L165.77,386.47 L172.36,376.18 L179.15,366.03 L186.13,356 L193.32,346.11 L200.69,336.35 L208.26,326.74 L216.01,317.27 L223.95,307.96 L232.08,298.79 L240.38,289.78 L248.85,280.93 L257.5,272.25 L266.32,263.73 L275.31,255.38 L284.46,247.2 L293.77,239.2 L303.23,231.38 L312.85,223.75 L322.62,216.3 L332.54,209.03 L342.6,201.96 L352.79,195.08 L363.13,188.4 L373.59,181.92 L384.18,175.64 L394.89,169.57 L405.72,163.7 L416.67,158.04 L427.73,152.6 L438.9,147.37 L450.17,142.35 L461.54,137.55 L473,132.98 L484.56,128.62 L496.2,124.49 L507.92,120.58 L519.72,116.9 L531.6,113.45 L543.54,110.23 L555.55,107.24 L567.61,104.48 L579.73,101.96 L591.91,99.67 L604.12,97.62"/>
<path fill="none" stroke="#b4b4b4" stroke-width="1" d="M520.66,467.97 L525.66,464.49 L530.73,461.11 L535.88,457.83 L541.08,454.65 L546.35,451.57 L551.69,448.59 L557.08,445.71 L562.54,442.93 L568.05,440.26 L573.61,437.69 L579.23,435.23 L584.9,432.88 L590.61,430.64 L596.38,428.51 L602.18,426.49 L608.03,424.58 L613.92,422.78 L619.85,421.1 L625.81,419.53 L631.8,418.08 L637.83,416.74 L643.88,415.52 L649.97,414.42 L656.07,413.43 L662.2,412.56 L668.35,411.82 L674.51,411.19 L680.69,410.68 L686.89,410.29 L693.09,410.02 L699.3,409.87 L705.52,409.84 L711.74,409.93 L717.97,410.14 L724.19,410.47 L730.4,410.93 L736.62,411.5 L742.82,412.2 L749.01,413.02 L755.19,413.96 L761.36,415.02 L767.5,416.2 L773.63,417.5 L779.74,418.91 L785.82,420.45 L791.87,422.11 L797.89,423.89 L803.88,425.78 L809.84,427.79 L815.76,429.92 L821.65,432.16 L827.49,434.52 L833.29,436.99 L839.04,439.58 L844.74,442.28 L850.4,445.1 L856,448.02 L861.55,451.05 L867.05,454.2 L872.48,457.45 L877.86,460.81 L883.17,464.27 L888.41,467.84 L893.59,471.51 L898.7,475.29 L903.74,479.17 L908.71,483.14 L913.6,487.22 L918.41,491.39 L923.15,495.66 L927.8,500.02 L932.37,504.47 L936.86,509.01 L941.26,513.65 L945.58,518.37 L949.8,523.18 L953.93,528.07 L957.97,533.04 L961.91,538.1 L965.76,543.23 L969.51,548.44 L973.16,553.73 L976.71,559.09 L980.15,564.52 L983.5,570.02 L986.73,575.58 L989.86,581.22 L992.88,586.91 L995.8,592.67 L998.6,598.49 L1001.29,604.36 L1003.87,610.29 L1006.33,616.27 L1008.68,622.3 L1010.91,628.38 L1013.02,634.51 L1015.02,640.68 L1016.9,646.89 L1018.65,653.14 L1020.29,659.43 L1021.81,665.75 L1023.2,672.11 L1024.47,678.49 L1025.62,684.9 L1026.64,691.34 L1027.54,697.8 L1028.31,704.28 L1028.96,710.78 L1029.48,717.29 L1029.87,723.82 L1030.14,730.35 L1030.28,736.9 L1030.3,743.45 L1030.19,750 L1029.95,756.56 L1029.58,763.11 L1029.08,769.66 L1028.46,776.2 L1027.71,782.73 L1026.83,789.25 L1025.83,795.76 L1024.7,802.25 L1023.44,808.72 L1022.05,815.17 L1020.54,821.59 L1018.91,827.99 L1017.15,834.36 L1015.26,840.7 L1013.25,847 L1011.12,853.27 L1008.86,859.5 L1006.49,865.69 L1003.99,871.83 L1001.37,877.93 L998.63,883.98 L995.77,889.98 L992.8,895.93 L989.7,901.82 L986.5,907.65 L983.17,913.43 L979.74,919.14 L976.19,924.79 L972.53,930.37 L968.76,935.88 L964.88,941.32 L960.89,946.69 L956.8,951.98 L952.6,957.2 L948.3,962.33 L943.9,967.39 L939.4,972.36 L934.8,977.24 L930.1,982.04 L925.31,986.75 L920.42,991.37 L915.45,995.9 L910.38,1000.33 L905.22,1004.66 L899.98,1008.9 L894.65,1013.03 L889.24,1017.07 L883.75,1021 L878.19,1024.82 L872.54,1028.54 L866.82,1032.15 L861.03,1035.65 L855.16,1039.04 L849.23,1042.32 L843.24,1045.48 L837.17,1048.53 L831.05,1051.46 L824.87,1054.28 L818.63,1056.97 L812.33,1059.55 L805.98,1062 L799.59,1064.33 L793.14,1066.54 L786.65,1068.62 L780.11,1070.58 L773.54,1072.42 L766.93,1074.12 L760.28,1075.7 L753.59,1077.15 L746.88,1078.47 L740.14,1079.66 L733.37,1080.72 L726.58,1081.64 L719.76,1082.44 L712.93,1083.1 L706.09,1083.64 L699.23,1084.04 L692.36,1084.3 L685.48,1084.43 L678.6,1084.43 L671.71,1084.3 L664.82,1084.03 L657.94,1083.63 L651.06,1083.09 L644.19,1082.42 L637.33,1081.62 L630.48,1080.68 L623.65,1079.61 L616.83,1078.4 L610.04,1077.07 L603.27,1075.6 L596.52,1073.99 L589.8,1072.26 L583.12,1070.4 L576.47,1068.4 L569.85,1066.27 L563.27,1064.02 L556.74,1061.64 L550.24,1059.12 L543.8,1056.48 L537.4,1053.72 L531.05,1050.83 L524.76,1047.81 L518.52,1044.68 L512.34,1041.41 L506.23,1038.03 L500.17,1034.53 L494.18,1030.91 L488.26,1027.17 L482.41,1023.31 L476.64,1019.34 L470.93,1015.26 L465.31,1011.06 L459.76,1006.75 L454.3,1002.33 L448.91,997.81 L443.62,993.18 L438.41,988.44 L433.29,983.6 L428.27,978.66 L423.34,973.62 L418.5,968.48 L413.76,963.24 L409.13,957.91 L404.59,952.49 L400.16,946.98 L395.83,941.38 L391.61,935.7 L387.5,929.93 L383.5,924.08 L379.61,918.14 L375.84,912.13 L372.18,906.05 L368.63,899.89 L365.21,893.66 L361.9,887.36 L358.72,880.99 L355.66,874.56 L352.72,868.07 L349.91,861.52 L347.22,854.91 L344.66,848.25 L342.23,841.53 L339.93,834.76 L337.76,827.95 L335.72,821.09 L333.82,814.19 L332.04,807.25 L330.41,800.28 L328.9,793.26 L327.53,786.22 L326.3,779.15 L325.21,772.05 L324.25,764.93 L323.43,757.78 L322.75,750.62 L322.21,743.44 L321.8,736.24 L321.54,729.04 L321.42,721.83 L321.43,714.61 L321.59,707.4 L321.89,700.18 L322.33,692.96 L322.9,685.75 L323.62,678.55 L324.48,671.36 L325.48,664.19 L326.62,657.03 L327.9,649.89 L329.31,642.77 L330.87,635.68 L332.56,628.61 L334.39,621.58 L336.36,614.57 L338.47,607.61 L340.71,600.68 L343.09,593.79 L345.6,586.95 L348.25,580.15 L351.03,573.4 L353.94,566.71 L356.98,560.06 L360.16,553.48 L363.46,546.95 L366.89,540.48 L370.45,534.08 L374.13,527.75 L377.94,521.48 L381.87,515.29 L385.92,509.17 L390.09,503.13 L394.38,497.16 L398.79,491.28 L403.32,485.48 L407.96,479.77 L412.71,474.14 L417.57,468.61 L422.54,463.16 L427.62,457.81 L432.81,452.56 L438.1,447.41 L443.49,442.36 L448.98,437.41 L454.57,432.56 L460.26,427.83 L466.04,423.2 L471.91,418.68 L477.87,414.27 L483.92,409.98 L490.06,405.81 L496.28,401.75 L502.58,397.81 L508.95,393.99 L515.41,390.3 L521.94,386.73 L528.54,383.28 L535.21,379.96 L541.95,376.77 L548.75,373.71 L555.61,370.78 L562.54,367.99 L569.52,365.32 L576.55,362.79 L583.64,360.4 L590.77,358.14 L597.95,356.02 L605.18,354.04 L612.45,352.2 L619.75,350.5 L627.09,348.95 L634.46,347.53 L641.87,346.26 L649.3,345.13 L656.75,344.14 L664.23,343.3 L671.73,342.6 L679.24,342.05 L686.76,341.64 L694.3,341.38 L701.84,341.27 L709.39,341.3 L716.94,341.48 L724.49,341.81 L732.04,342.28 L739.58,342.9 L747.11,343.67 L754.63,344.58 L762.13,345.64 L769.62,346.85 L777.08,348.2 L784.52,349.7 L791.94,351.34 L799.32,353.13 L806.68,355.06 L813.99,357.13 L821.28,359.35 L828.51,361.71 L835.71,364.21 L842.86,366.85 L849.96,369.63 L857.01,372.55 L864.01,375.61 L870.95,378.81 L877.83,382.14 L884.65,385.61 L891.4,389.21 L898.08,392.94 L904.7,396.8 L911.24,400.79 L917.7,404.92 L924.09,409.16 L930.4,413.54 L936.63,418.04 L942.77,422.66 L948.82,427.4 L954.78,432.26 L960.65,437.24 L966.43,442.33 L972.1,447.54 L977.68,452.86 L983.16,458.29 L988.54,463.83 L993.8,469.48 L998.96,475.23 L1004.01,481.08 L1008.95,487.03 L1013.78,493.08 L1018.49,499.22 L1023.08,505.46 L1027.55,511.79 L1031.9,518.21 L1036.13,524.72 L1040.23,531.31 L1044.2,537.98 L1048.05,544.73 L1051.77,551.56 L1055.35,558.46 L1058.81,565.44 L1062.13,572.48 L1065.31,579.6 L1068.35,586.77 L1071.26,594.01 L1074.03,601.31 L1076.66,608.66 L1079.14,616.06 L1081.48,623.52 L1083.68,631.03 L1085.73,638.58 L1087.64,646.17 L1089.4,653.8 L1091.01,661.47 L1092.48,669.17 L1093.79,676.91 L1094.96,684.67 L1095.97,692.46 L1096.84,700.27 L1097.55,708.09 L1098.11,715.94 L1098.52,723.8 L1098.77,731.67 L1098.88,739.54 L1098.83,747.43 L1098.62,755.31 L1098.27,763.19 L1097.76,771.07 L1097.09,778.94 L1096.28,786.8 L1095.31,794.65 L1094.19,802.48 L1092.92,810.29 L1091.49,818.08 L1089.91,825.84 L1088.18,833.58 L1086.3,841.28 L1084.27,848.95 L1082.09,856.59 L1079.76,864.18 L1077.29,871.73 L1074.66,879.24 L1071.89,886.7 L1068.97,894.1 L1065.91,901.46 L1062.7,908.75 L1059.36,915.98 L1055.87,923.16 L1052.23,930.26 L1048.46,937.3 L1044.56,944.27 L1040.51,951.16 L1036.33,957.98 L1032.02,964.72 L1027.57,971.38 L1023,977.95 L1018.29,984.44 L1013.46,990.83 L1008.5,997.14 L1003.42,1003.35 L998.21,1009.46 L992.88,1015.48 L987.44,1021.39 L981.88,1027.2 L976.2,1032.9 L970.42,1038.5 L964.52,1043.98 L958.51,1049.35 L952.4,1054.61 L946.18,1059.75 L939.86,1064.77 L933.44,1069.67 L926.92,1074.44 L920.31,1079.1 L913.61,1083.62 L906.82,1088.01 L899.94,1092.28 L892.97,1096.41 L885.92,1100.41 L878.79,1104.27 L871.59,1108 L864.31,1111.59 L856.95,1115.03 L849.53,1118.34 L842.05,1121.5 L834.49,1124.52 L826.88,1127.39 L819.21,1130.11 L811.48,1132.69 L803.7,1135.12 L795.88,1137.39 L788,1139.52 L780.08,1141.49 L772.12,1143.31 L764.12,1144.98 L756.09,1146.49 L748.03,1147.84 L739.93,1149.04 L731.81,1150.09 L723.67,1150.97 L715.51,1151.7 L707.33,1152.27 L699.14,1152.68 L690.94,1152.93 L682.73,1153.02 L674.51,1152.95 L666.3,1152.73 L658.08,1152.34 L649.88,1151.8 L641.68,1151.09 L633.49,1150.22 L625.31,1149.2 L617.15,1148.02 L609.01,1146.67 L600.9,1145.17 L592.81,1143.51 L584.76,1141.7 L576.73,1139.72 L568.74,1137.59 L560.79,1135.31 L552.88,1132.87 L545.02,1130.27 L537.21,1127.52 L529.44,1124.62 L521.73,1121.57 L514.08,1118.36 L506.49,1115.01 L498.96,1111.51 L491.49,1107.86 L484.1,1104.06 L476.77,1100.12 L469.52,1096.04 L462.35,1091.81 L455.25,1087.44 L448.24,1082.94 L441.32,1078.3 L434.48,1073.52 L427.73,1068.6 L421.08,1063.56 L414.52,1058.38 L408.07,1053.08 L401.71,1047.64 L395.45,1042.08 L389.31,1036.4 L383.27,1030.6 L377.34,1024.68 L371.52,1018.64 L365.82,1012.49 L360.24,1006.22 L354.78,999.85 L349.44,993.37 L344.22,986.78 L339.14,980.08 L334.18,973.29 L329.35,966.4 L324.65,959.41 L320.08,952.33 L315.66,945.16 L311.37,937.9 L307.22,930.55 L303.21,923.12 L299.34,915.62 L295.62,908.03 L292.05,900.37 L288.62,892.64 L285.35,884.84 L282.22,876.97 L279.25,869.04 L276.42,861.05 L273.76,853.01 L271.24,844.9 L268.89,836.75 L266.69,828.55 L264.65,820.31 L262.77,812.02 L261.05,803.69 L259.5,795.33 L258.1,786.93 L256.87,778.51 L255.8,770.06 L254.89,761.58 L254.15,753.09 L253.57,744.58 L253.16,736.05 L252.91,727.52 L252.83,718.97 L252.92,710.43 L253.17,701.88 L253.59,693.33 L254.17,684.79 L254.92,676.26 L255.83,667.74 L256.92,659.24 L258.16,650.76 L259.57,642.29 L261.15,633.85 L262.89,625.44 L264.8,617.07 L266.86,608.72 L269.09,600.41 L271.49,592.15 L274.04,583.93 L276.75,575.75 L279.63,567.63 L282.66,559.56 L285.85,551.55 L289.2,543.59 L292.7,535.7 L296.35,527.87 L300.16,520.12 L304.12,512.43 L308.24,504.82 L312.5,497.29 L316.9,489.84 L321.46,482.47 L326.16,475.18 L331,467.99 L335.98,460.89 L341.1,453.88 L346.36,446.97 L351.75,440.17 L357.28,433.46 L362.94,426.86 L368.73,420.37 L374.65,413.98 L380.69,407.72 L386.86,401.56 L393.15,395.53 L399.56,389.61 L406.08,383.82 L412.72,378.15 L419.47,372.61 L426.33,367.2 L433.3,361.92 L440.37,356.78 L447.54,351.77 L454.81,346.9 L462.18,342.17 L469.64,337.58 L477.2,333.13 L484.84,328.83 L492.57,324.68 L500.38,320.68 L508.27,316.82 L516.24,313.12 L524.28,309.58 L532.39,306.18 L540.58,302.95 L548.82,299.87 L557.13,296.95 L565.5,294.19 L573.92,291.6 L582.4,289.17 L590.92,286.9 L599.5,284.79 L608.11,282.85 L616.77,281.08 L625.46,279.48 L634.18,278.04 L642.94,276.78 L651.72,275.68 L660.53,274.75 L669.36,274 L678.2,273.41 L687.06,273 L695.93,272.76 L704.81,272.69 L713.68,272.79 L722.56,273.07 L731.44,273.52 L740.31,274.14 L749.17,274.93 L758.02,275.9 L766.85,277.03 L775.67,278.34 L784.45,279.83 L793.22,281.48 L801.95,283.3 L810.65,285.29 L819.31,287.46 L827.94,289.79 L836.52,292.29 L845.05,294.95 L853.54,297.79 L861.97,300.79 L870.35,303.95 L878.67,307.28 L886.92,310.77 L895.11,314.42 L903.23,318.23 L911.28,322.2 L919.26,326.32 L927.15,330.61 L934.97,335.04 L942.7,339.63 L950.34,344.38 L957.9,349.27 L965.36,354.31 L972.72,359.49 L979.99,364.82 L987.15,370.29 L994.21,375.91 L1001.17,381.66 L1008.01,387.55 L1014.74,393.57 L1021.36,399.73 L1027.86,406.01 L1034.23,412.42 L1040.49,418.96 L1046.62,425.62 L1052.62,432.41 L1058.49,439.31 L1064.23,446.32 L1069.83,453.45 L1075.3,460.7 L1080.63,468.04 L1085.82,475.5 L1090.86,483.06 L1095.76,490.71 L1100.51,498.47 L1105.11,506.32 L1109.56,514.26 L1113.86,522.28 L1118,530.4 L1121.99,538.6 L1125.81,546.87 L1129.48,555.22 L1132.99,563.65 L1136.33,572.15 L1139.51,580.71 L1142.53,589.34 L1145.37,598.03 L1148.05,606.77 L1150.57,615.57 L1152.91,624.42 L1155.07,633.32 L1157.07,642.27 L1158.9,651.25 L1160.54,660.27 L1162.02,669.33 L1163.32,678.42 L1164.44,687.53 L1165.39,696.67 L1166.16,705.83 L1166.75,715.01 L1167.16,724.2 L1167.4,733.4 L1167.45,742.61 L1167.33,751.82 L1167.03,761.04 L1166.55,770.24 L1165.89,779.45 L1165.05,788.64 L1164.04,797.81 L1162.84,806.97 L1161.47,816.11 L1159.92,825.23 L1158.19,834.32 L1156.28,843.37 L1154.2,852.39 L1151.94,861.37 L1149.51,870.32 L1146.9,879.21 L1144.12,888.06 L1141.17,896.86 L1138.05,905.6 L1134.75,914.28 L1131.29,922.9 L1127.65,931.46 L1123.85,939.95 L1119.89,948.36 L1115.76,956.7 L1111.46,964.96 L1107.01,973.15 L1102.4,981.24 L1097.62,989.25 L1092.69,997.17 L1087.61,1005 L1082.37,1012.73 L1076.98,1020.35 L1071.44,1027.88 L1065.76,1035.3 L1059.92,1042.61 L1053.95,1049.81 L1047.83,1056.9 L1041.58,1063.87 L1035.18,1070.72 L1028.65,1077.44 L1022,1084.04 L1015.21,1090.52 L1008.29,1096.86 L1001.25,1103.07 L994.08,1109.15 L986.8,1115.09 L979.4,1120.89 L971.88,1126.54 L964.25,1132.05 L956.52,1137.42 L948.68,1142.63 L940.73,1147.7 L932.69,1152.61 L924.54,1157.37 L916.3,1161.97 L907.98,1166.41 L899.56,1170.69 L891.06,1174.81 L882.47,1178.76 L873.81,1182.55 L865.07,1186.17 L856.26,1189.62 L847.38,1192.9 L838.43,1196.01 L829.42,1198.95 L820.35,1201.71 L811.23,1204.3 L802.05,1206.71 L792.83,1208.95 L783.55,1211 L774.24,1212.88 L764.89,1214.57 L755.5,1216.08 L746.08,1217.42 L736.63,1218.56 L727.16,1219.53 L717.67,1220.31 L708.16,1220.91 L698.63,1221.32 L689.1,1221.55 L679.56,1221.6 L670.01,1221.45 L660.47,1221.13 L650.93,1220.62 L641.4,1219.92 L631.87,1219.03 L622.37,1217.97 L612.88,1216.71 L603.41,1215.27 L593.97,1213.65 L584.56,1211.85 L575.18,1209.86 L565.84,1207.69 L556.54,1205.33 L547.28,1202.8 L538.07,1200.08 L528.91,1197.19 L519.8,1194.12 L510.75,1190.87 L501.76,1187.44 L492.84,1183.84 L483.98,1180.06 L475.2,1176.11 L466.49,1171.99 L457.85,1167.7 L449.3,1163.24 L440.84,1158.61 L432.46,1153.82 L424.17,1148.86 L415.98,1143.75 L407.88,1138.47 L399.88,1133.03 L391.99,1127.44 L384.21,1121.69 L376.53,1115.79 L368.97,1109.74 L361.52,1103.54 L354.19,1097.19 L346.99,1090.7 L339.91,1084.07 L332.95,1077.3 L326.13,1070.39 L319.43,1063.35 L312.87,1056.18 L306.45,1048.88 L300.17,1041.45 L294.04,1033.9 L288.05,1026.23 L282.2,1018.44 L276.51,1010.53 L270.97,1002.51 L265.58,994.39 L260.35,986.15 L255.27,977.81 L250.36,969.38 L245.61,960.84 L241.03,952.21 L236.61,943.49 L232.36,934.68 L228.28,925.79 L224.37,916.82 L220.64,907.76 L217.08,898.64 L213.7,889.44 L210.49,880.17 L207.47,870.84 L204.62,861.45 L201.96,852 L199.47,842.5 L197.18,832.95 L195.07,823.35 L193.14,813.7 L191.4,804.02 L189.85,794.3 L188.48,784.55 L187.31,774.77 L186.33,764.97 L185.53,755.14 L184.93,745.3 L184.51,735.44 L184.29,725.57 L184.26,715.7 L184.42,705.82 L184.78,695.94 L185.32,686.07 L186.06,676.21 L186.99,666.36 L188.11,656.52 L189.42,646.71 L190.92,636.91 L192.62,627.15 L194.5,617.41 L196.57,607.71 L198.83,598.05 L201.28,588.43 L203.92,578.85 L206.74,569.33 L209.75,559.85 L212.94,550.43 L216.32,541.08 L219.88,531.78 L223.62,522.56 L227.54,513.4 L231.64,504.32 L235.92,495.31 L240.37,486.39 L245,477.55 L249.8,468.8 L254.77,460.14 L259.91,451.57 L265.22,443.1 L270.69,434.74 L276.33,426.47 L282.12,418.32 L288.08,410.27 L294.2,402.34 L300.47,394.53 L306.89,386.84 L313.47,379.27 L320.19,371.82 L327.06,364.51 L334.07,357.33 L341.23,350.28 L348.52,343.37 L355.95,336.59 L363.51,329.97 L371.2,323.48 L379.02,317.15 L386.96,310.96 L395.03,304.93 L403.21,299.05 L411.51,293.34 L419.93,287.78 L428.45,282.38 L437.08,277.15 L445.81,272.08 L454.64,267.18 L463.58,262.45 L472.6,257.9 L481.71,253.52 L490.92,249.31 L500.2,245.29 L509.57,241.44 L519.01,237.77 L528.53,234.29 L538.11,230.99 L547.76,227.88 L557.48,224.95 L567.25,222.21 L577.08,219.66 L586.96,217.3 L596.89,215.13 L606.86,213.15 L616.87,211.37 L626.92,209.78 L637,208.38 L647.11,207.18 L657.25,206.18 L667.41,205.37 L677.59,204.76 L687.78,204.35 L697.98,204.14 L708.19,204.12 L718.4,204.3 L728.6,204.68 L738.81,205.26 L749,206.04 L759.18,207.01 L769.35,208.19 L779.49,209.56 L789.61,211.13 L799.7,212.89 L809.76,214.85 L819.78,217.01 L829.77,219.36 L839.71,221.91 L849.6,224.64 L859.44,227.58 L869.23,230.7 L878.96,234.02 L888.62,237.52 L898.22,241.21 L907.75,245.09 L917.21,249.16 L926.59,253.41 L935.89,257.84 L945.1,262.46 L954.23,267.25 L963.27,272.22 L972.21,277.37 L981.05,282.7 L989.79,288.19 L998.43,293.86 L1006.96,299.7 L1015.38,305.7 L1023.68,311.87 L1031.86,318.2 L1039.93,324.69 L1047.87,331.34 L1055.68,338.14 L1063.36,345.1 L1070.9,352.21 L1078.32,359.46 L1085.59,366.87 L1092.72,374.41 L1099.7,382.09 L1106.54,389.91 L1113.22,397.87 L1119.76,405.96 L1126.14,414.17 L1132.35,422.51 L1138.41,430.98 L1144.31,439.56 L1150.04,448.26 L1155.6,457.07 L1160.99,465.99 L1166.21,475.02 L1171.26,484.15 L1176.13,493.39 L1180.82,502.71 L1185.33,512.14 L1189.66,521.65 L1193.81,531.24 L1197.77,540.92 L1201.54,550.68 L1205.13,560.51 L1208.52,570.42 L1211.72,580.39 L1214.73,590.43 L1217.55,600.53 L1220.17,610.68 L1222.59,620.89 L1224.82,631.14 L1226.84,641.45 L1228.67,651.79 L1230.3,662.17 L1231.72,672.58 L1232.95,683.03 L1233.97,693.5 L1234.78,703.99 L1235.4,714.5 L1235.81,725.02 L1236.02,735.56 L1236.02,746.1 L1235.81,756.64 L1235.41,767.18 L1234.79,777.71 L1233.98,788.24 L1232.96,798.75 L1231.73,809.24 L1230.3,819.72 L1228.67,830.16 L1226.83,840.58 L1224.79,850.96 L1222.55,861.31 L1220.11,871.61 L1217.46,881.87 L1214.62,892.08 L1211.58,902.23 L1208.34,912.33 L1204.9,922.37 L1201.27,932.35 L1197.45,942.25 L1193.43,952.08 L1189.22,961.84 L1184.81,971.52 L1180.22,981.11 L1175.45,990.62 L1170.49,1000.03 L1165.34,1009.35 L1160.01,1018.57 L1154.5,1027.69 L1148.82,1036.71 L1142.95,1045.62 L1136.92,1054.41 L1130.71,1063.09 L1124.33,1071.65 L1117.78,1080.09 L1111.07,1088.4 L1104.2,1096.59 L1097.16,1104.64 L1089.97,1112.56 L1082.62,1120.34 L1075.12,1127.98 L1067.48,1135.47 L1059.68,1142.82 L1051.74,1150.01 L1043.66,1157.06 L1035.44,1163.95 L1027.08,1170.68 L1018.59,1177.25 L1009.98,1183.65 L1001.23,1189.9 L992.37,1195.97 L983.38,1201.87 L974.28,1207.59 L965.07,1213.15 L955.74,1218.52 L946.31,1223.71 L936.78,1228.73 L927.15,1233.55 L917.42,1238.2 L907.6,1242.65 L897.69,1246.91 L887.7,1250.99 L877.62,1254.86 L867.47,1258.55 L857.25,1262.04 L846.95,1265.33 L836.59,1268.42 L826.17,1271.31 L815.69,1274 L805.16,1276.48 L794.57,1278.76 L783.94,1280.84 L773.27,1282.71 L762.56,1284.37 L751.81,1285.83 L741.03,1287.08 L730.23,1288.11 L719.41,1288.94 L708.56,1289.56 L697.71,1289.97 L686.84,1290.17 L675.97,1290.15 L665.09,1289.93 L654.22,1289.49 L643.35,1288.85 L632.5,1287.99 L621.66,1286.92 L610.83,1285.64 L600.03,1284.15 L589.26,1282.45 L578.52,1280.54 L567.81,1278.43 L557.15,1276.1 L546.52,1273.57 L535.94,1270.82 L525.42,1267.88 L514.95,1264.73 L504.54,1261.37 L494.19,1257.81 L483.91,1254.05 L473.7,1250.09 L463.56,1245.93 L453.51,1241.58 L443.53,1237.03 L433.65,1232.28 L423.85,1227.34 L414.15,1222.21 L404.54,1216.89 L395.04,1211.38 L385.64,1205.69 L376.35,1199.81 L367.17,1193.75 L358.11,1187.51 L349.17,1181.1 L340.35,1174.51 L331.66,1167.75 L323.1,1160.82 L314.67,1153.72 L306.38,1146.45 L298.22,1139.02 L290.21,1131.44 L282.35,1123.69 L274.63,1115.8 L267.06,1107.75 L259.66,1099.55 L252.4,1091.21 L245.31,1082.72 L238.38,1074.1 L231.62,1065.34 L225.03,1056.45 L218.61,1047.42 L212.36,1038.28 L206.29,1029 L200.4,1019.61 L194.69,1010.1 L189.16,1000.48 L183.82,990.75 L178.67,980.92 L173.7,970.98 L168.93,960.95 L164.35,950.82 L159.97,940.6 L155.79,930.29 L151.8,919.9 L148.02,909.43 L144.44,898.89 L141.06,888.27 L137.89,877.59 L134.93,866.84 L132.17,856.04 L129.62,845.18 L127.29,834.26 L125.16,823.3 L123.25,812.3 L121.55,801.25 L120.06,790.18 L118.79,779.07 L117.74,767.93 L116.9,756.77 L116.27,745.6 L115.87,734.41 L115.68,723.21 L115.71,712 L115.95,700.8 L116.42,689.59 L117.1,678.39 L118,667.21 L119.12,656.04 L120.45,644.89 L122,633.76 L123.77,622.66 L125.75,611.59 L127.95,600.56 L130.36,589.57 L132.98,578.63 L135.82,567.73 L138.87,556.89 L142.13,546.11 L145.61,535.38 L149.29,524.72 L153.17,514.14 L157.27,503.62 L161.57,493.18 L166.07,482.83 L170.78,472.56 L175.68,462.38 L180.78,452.29 L186.08,442.3 L191.58,432.41 L197.27,422.63 L203.14,412.95 L209.21,403.39 L215.47,393.95 L221.91,384.62 L228.53,375.42 L235.33,366.34 L242.31,357.39 L249.46,348.58 L256.78,339.91 L264.28,331.37 L271.94,322.98 L279.77,314.74 L287.75,306.65 L295.9,298.71 L304.2,290.93 L312.66,283.31 L321.26,275.85 L330.01,268.56 L338.9,261.43 L347.94,254.48 L357.11,247.7 L366.41,241.1 L375.84,234.68 L385.4,228.44 L395.08,222.38 L404.88,216.51 L414.8,210.83 L424.83,205.34 L434.96,200.05 L445.2,194.95 L455.54,190.05 L465.98,185.35 L476.52,180.85 L487.14,176.55 L497.84,172.46 L508.63,168.58 L519.49,164.91 L530.43,161.44 L541.44,158.19 L552.51,155.15 L563.64,152.33 L574.83,149.72 L586.07,147.33 L597.36,145.16 L608.7,143.2 L620.07,141.47 L631.48,139.95 L642.92,138.66 L654.39,137.59 L665.88,136.74 L677.39,136.11 L688.92,135.71 L700.45,135.53 L711.99,135.57 L723.53,135.84 L735.06,136.33 L746.59,137.05 L758.11,137.99 L769.61,139.16 L781.09,140.54 L792.54,142.16 L803.97,143.99 L815.36,146.04 L826.71,148.32 L838.03,150.82 L849.29,153.54 L860.5,156.48 L871.66,159.63 L882.76,163 L893.8,166.59 L904.76,170.4 L915.66,174.41 L926.48,178.64 L937.22,183.08 L947.87,187.73 L958.44,192.59 L968.91,197.65 L979.29,202.92 L989.57,208.39 L999.74,214.06 L1009.8,219.93 L1019.75,225.99 L1029.59,232.25 L1039.31,238.7 L1048.9,245.34 L1058.36,252.17 L1067.7,259.18 L1076.89,266.37 L1085.95,273.75 L1094.87,281.3 L1103.65,289.03 L1112.27,296.93 L1120.75,304.99 L1129.06,313.22 L1137.22,321.62 L1145.22,330.17 L1153.06,338.89 L1160.72,347.75 L1168.22,356.77 L1175.54,365.93 L1182.68,375.23 L1189.64,384.68 L1196.43,394.26 L1203.02,403.98 L1209.43,413.82 L1215.65,423.8 L1221.68,433.89 L1227.51,444.1 L1233.15,454.43 L1238.58,464.87 L1243.82,475.41 L1248.85,486.06 L1253.67,496.81 L1258.28,507.66 L1262.69,518.59 L1266.88,529.61 L1270.87,540.72 L1274.63,551.9 L1278.18,563.16 L1281.51,574.49 L1284.62,585.89 L1287.52,597.35 L1290.19,608.87 L1292.63,620.44 L1294.85,632.06 L1296.85,643.72 L1298.62,655.43 L1300.16,667.17 L1301.48,678.94 L1302.57,690.74 L1303.43,702.57 L1304.05,714.41 L1304.45,726.27 L1304.62,738.13 L1304.56,750 L1304.27,761.87 L1303.75,773.74 L1303,785.6 L1302.01,797.45 L1300.8,809.28 L1299.36,821.09 L1297.68,832.87 L1295.78,844.62 L1293.65,856.34 L1291.29,868.02 L1288.71,879.65 L1285.9,891.23 L1282.86,902.77 L1279.6,914.24 L1276.12,925.65 L1272.41,937 L1268.48,948.28 L1264.34,959.48 L1259.97,970.6 L1255.39,981.65 L1250.6,992.6 L1245.59,1003.46 L1240.36,1014.23 L1234.93,1024.9 L1229.29,1035.46 L1223.45,1045.91 L1217.4,1056.26 L1211.15,1066.49 L1204.7,1076.59 L1198.05,1086.58 L1191.21,1096.43 L1184.18,1106.16 L1176.95,1115.75 L1169.54,1125.2 L1161.94,1134.51 L1154.16,1143.67 L1146.21,1152.69 L1138.07,1161.55 L1129.77,1170.25 L1121.29,1178.8 L1112.64,1187.18 L1103.84,1195.39 L1094.87,1203.44 L1085.74,1211.31 L1076.46,1219 L1067.03,1226.52 L1057.45,1233.85 L1047.72,1241 L1037.86,1247.97 L1027.86,1254.74 L1017.73,1261.32 L1007.47,1267.7 L997.08,1273.88 L986.57,1279.87 L975.94,1285.65 L965.2,1291.22 L954.35,1296.59 L943.39,1301.75 L932.34,1306.69 L921.18,1311.43 L909.93,1315.94 L898.59,1320.24 L887.17,1324.32 L875.66,1328.18 L864.08,1331.81 L852.43,1335.22 L840.71,1338.41 L828.92,1341.37 L817.08,1344.1 L805.18,1346.6 L793.23,1348.87 L781.23,1350.9 L769.19,1352.71 L757.12,1354.28 L745.01,1355.62 L732.88,1356.72 L720.72,1357.59 L708.55,1358.22 L696.36,1358.61 L684.16,1358.77 L671.96,1358.7 L659.75,1358.38 L647.55,1357.83 L635.36,1357.04 L623.18,1356.01 L611.02,1354.75 L598.89,1353.25 L586.78,1351.52 L574.7,1349.55 L562.66,1347.34 L550.66,1344.91 L538.7,1342.23 L526.8,1339.33 L514.95,1336.19 L503.16,1332.83 L491.43,1329.23 L479.77,1325.41 L468.18,1321.36 L456.67,1317.08 L445.25,1312.58 L433.9,1307.86 L422.65,1302.91 L411.49,1297.75 L400.43,1292.37 L389.48,1286.77 L378.63,1280.96 L367.89,1274.94 L357.27,1268.71 L346.76,1262.28 L336.38,1255.63 L326.13,1248.79 L316.01,1241.74 L306.02,1234.5 L296.17,1227.06 L286.47,1219.44 L276.91,1211.62 L267.51,1203.61 L258.25,1195.42 L249.16,1187.05 L240.22,1178.5 L231.45,1169.78 L222.85,1160.89 L214.42,1151.82 L206.17,1142.6 L198.09,1133.21 L190.19,1123.66 L182.48,1113.96 L174.96,1104.11 L167.62,1094.11 L160.48,1083.96 L153.54,1073.68 L146.79,1063.26 L140.24,1052.71 L133.9,1042.02 L127.77,1031.22 L121.84,1020.29 L116.12,1009.25 L110.62,998.09 L105.34,986.83 L100.27,975.46 L95.42,963.99 L90.8,952.43 L86.39,940.77 L82.22,929.03 L78.27,917.2 L74.55,905.3 L71.06,893.32 L67.8,881.28 L64.78,869.16 L61.99,856.99 L59.43,844.76 L57.12,832.48 L55.04,820.16 L53.2,807.79 L51.6,795.38 L50.24,782.94 L49.12,770.48 L48.25,757.99 L47.62,745.48 L47.22,732.96 L47.08,720.42 L47.17,707.89 L47.51,695.35 L48.09,682.82 L48.92,670.3 L49.99,657.79 L51.3,645.3 L52.86,632.83 L54.65,620.4 L56.69,607.99 L58.97,595.63 L61.49,583.3 L64.25,571.03 L67.25,558.8 L70.48,546.64 L73.96,534.53 L77.66,522.49 L81.61,510.52 L85.78,498.62 L90.19,486.81 L94.83,475.07 L99.69,463.43 L104.78,451.88 L110.1,440.43 L115.64,429.07 L121.4,417.83 L127.38,406.69 L133.58,395.67 L139.99,384.77 L146.61,373.99 L153.45,363.34 L160.49,352.81 L167.74,342.43 L175.19,332.18 L182.84,322.08 L190.69,312.12 L198.73,302.32 L206.96,292.67 L215.38,283.17 L223.99,273.84 L232.78,264.68 L241.75,255.69 L250.89,246.86 L260.21,238.22 L269.69,229.75 L279.34,221.47 L289.16,213.37 L299.13,205.47 L309.25,197.75 L319.53,190.23 L329.96,182.91 L340.53,175.79 L351.23,168.88 L362.08,162.17 L373.05,155.67 L384.16,149.39 L395.38,143.32 L406.73,137.46 L418.19,131.83 L429.76,126.41 L441.44,121.22 L453.22,116.26 L465.1,111.53 L477.07,107.02 L489.13,102.75 L501.28,98.71 L513.51,94.9 L525.81,91.33 L538.18,88.01 L550.62,84.92 L563.12,82.07 L575.68,79.46 L588.29,77.1 L600.94,74.98"/>
<path fill="none" stroke="#b4b4b4" stroke-width="1" d="M508.09,448.86 L513.47,445.14 L518.92,441.53 L524.44,438.03 L530.03,434.63 L535.7,431.33 L541.43,428.15 L547.22,425.07 L553.07,422.11 L558.99,419.26 L564.96,416.52 L570.99,413.9 L577.08,411.39 L583.21,409 L589.4,406.73 L595.63,404.58 L601.9,402.55 L608.22,400.64 L614.57,398.85 L620.97,397.18 L627.4,395.64 L633.86,394.22 L640.35,392.93 L646.88,391.76 L653.42,390.72 L659.99,389.8 L666.58,389.01 L673.19,388.35 L679.81,387.82 L686.45,387.42 L693.1,387.15 L699.75,387 L706.41,386.98 L713.08,387.1 L719.74,387.34 L726.41,387.71 L733.07,388.21 L739.72,388.85 L746.36,389.61 L752.99,390.5 L759.61,391.52 L766.21,392.67 L772.79,393.94 L779.35,395.35 L785.88,396.89 L792.38,398.55 L798.86,400.34 L805.31,402.25 L811.72,404.29 L818.09,406.46 L824.42,408.75 L830.71,411.17 L836.96,413.71 L843.16,416.37 L849.31,419.15 L855.41,422.05 L861.46,425.08 L867.45,428.22 L873.38,431.48 L879.25,434.86 L885.06,438.35 L890.8,441.95 L896.48,445.67 L902.08,449.51 L907.61,453.45 L913.07,457.5 L918.45,461.66 L923.76,465.92 L928.98,470.29 L934.12,474.76 L939.17,479.34 L944.14,484.01 L949.02,488.79 L953.81,493.66 L958.5,498.62 L963.1,503.68 L967.61,508.83 L972.02,514.07 L976.32,519.4 L980.53,524.81 L984.63,530.31 L988.63,535.89 L992.52,541.55 L996.3,547.28 L999.97,553.1 L1003.53,558.98 L1006.97,564.94 L1010.31,570.97 L1013.52,577.06 L1016.62,583.22 L1019.61,589.45 L1022.47,595.73 L1025.21,602.07 L1027.83,608.47 L1030.32,614.92 L1032.69,621.42 L1034.94,627.97 L1037.06,634.57 L1039.05,641.21 L1040.91,647.89 L1042.65,654.61 L1044.25,661.36 L1045.73,668.16 L1047.07,674.98 L1048.28,681.83 L1049.36,688.71 L1050.3,695.61 L1051.11,702.53 L1051.79,709.47 L1052.33,716.43 L1052.74,723.4 L1053.01,730.38 L1053.15,737.37 L1053.15,744.36 L1053.02,751.36 L1052.74,758.36 L1052.34,765.35 L1051.79,772.34 L1051.12,779.32 L1050.3,786.29 L1049.35,793.25 L1048.26,800.19 L1047.04,807.12 L1045.69,814.02 L1044.19,820.9 L1042.57,827.75 L1040.81,834.58 L1038.92,841.37 L1036.89,848.13 L1034.73,854.85 L1032.44,861.54 L1030.02,868.18 L1027.47,874.77 L1024.8,881.32 L1021.99,887.82 L1019.05,894.27 L1015.99,900.67 L1012.81,907 L1009.5,913.28 L1006.06,919.49 L1002.5,925.65 L998.83,931.73 L995.03,937.75 L991.12,943.69 L987.08,949.56 L982.94,955.35 L978.67,961.07 L974.3,966.71 L969.81,972.26 L965.22,977.72 L960.51,983.1 L955.7,988.4 L950.79,993.6 L945.77,998.7 L940.65,1003.71 L935.44,1008.62 L930.12,1013.44 L924.71,1018.15 L919.21,1022.76 L913.61,1027.26 L907.92,1031.66 L902.15,1035.95 L896.29,1040.12 L890.35,1044.19 L884.33,1048.14 L878.22,1051.98 L872.04,1055.69 L865.79,1059.29 L859.46,1062.77 L853.07,1066.13 L846.6,1069.37 L840.07,1072.48 L833.48,1075.46 L826.83,1078.32 L820.12,1081.05 L813.35,1083.65 L806.53,1086.12 L799.66,1088.46 L792.75,1090.67 L785.78,1092.74 L778.78,1094.68 L771.73,1096.48 L764.64,1098.15 L757.52,1099.68 L750.37,1101.07 L743.19,1102.32 L735.98,1103.44 L728.75,1104.41 L721.5,1105.24 L714.22,1105.94 L706.93,1106.49 L699.63,1106.9 L692.32,1107.17 L684.99,1107.3 L677.67,1107.28 L670.34,1107.13 L663.01,1106.83 L655.68,1106.39 L648.36,1105.8 L641.05,1105.07 L633.75,1104.2 L626.46,1103.19 L619.2,1102.04 L611.95,1100.75 L604.72,1099.31 L597.52,1097.73 L590.34,1096.01 L583.2,1094.16 L576.09,1092.16 L569.02,1090.02 L561.99,1087.75 L554.99,1085.34 L548.04,1082.79 L541.14,1080.1 L534.29,1077.29 L527.49,1074.33 L520.75,1071.25 L514.06,1068.03 L507.43,1064.68 L500.87,1061.2 L494.37,1057.59 L487.94,1053.85 L481.58,1049.99 L475.29,1046 L469.08,1041.89 L462.94,1037.66 L456.88,1033.3 L450.91,1028.83 L445.02,1024.24 L439.22,1019.53 L433.51,1014.71 L427.89,1009.78 L422.36,1004.73 L416.93,999.58 L411.6,994.31 L406.37,988.95 L401.24,983.48 L396.21,977.9 L391.29,972.23 L386.48,966.46 L381.78,960.6 L377.19,954.64 L372.72,948.59 L368.36,942.45 L364.12,936.23 L360,929.91 L356,923.52 L352.13,917.05 L348.37,910.5 L344.75,903.87 L341.25,897.18 L337.88,890.41 L334.64,883.57 L331.53,876.67 L328.55,869.7 L325.71,862.68 L323.01,855.6 L320.44,848.46 L318.01,841.27 L315.72,834.03 L313.56,826.74 L311.55,819.41 L309.68,812.04 L307.95,804.63 L306.37,797.18 L304.93,789.7 L303.63,782.19 L302.48,774.65 L301.48,767.08 L300.62,759.49 L299.91,751.89 L299.35,744.27 L298.94,736.63 L298.67,728.98 L298.55,721.33 L298.58,713.67 L298.76,706.01 L299.09,698.35 L299.57,690.69 L300.2,683.04 L300.97,675.4 L301.9,667.77 L302.97,660.15 L304.19,652.56 L305.56,644.99 L307.07,637.44 L308.74,629.91 L310.55,622.42 L312.5,614.96 L314.61,607.53 L316.85,600.14 L319.24,592.8 L321.78,585.5 L324.46,578.24 L327.28,571.04 L330.24,563.88 L333.34,556.78 L336.58,549.74 L339.95,542.76 L343.47,535.84 L347.12,528.99 L350.9,522.21 L354.82,515.5 L358.86,508.86 L363.04,502.3 L367.35,495.82 L371.79,489.42 L376.35,483.1 L381.03,476.87 L385.84,470.73 L390.77,464.68 L395.82,458.72 L400.98,452.86 L406.26,447.1 L411.66,441.44 L417.16,435.88 L422.78,430.43 L428.5,425.08 L434.33,419.84 L440.27,414.72 L446.3,409.71 L452.44,404.81 L458.67,400.03 L464.99,395.37 L471.41,390.84 L477.92,386.42 L484.52,382.13 L491.2,377.97 L497.97,373.93 L504.81,370.03 L511.74,366.26 L518.74,362.62 L525.81,359.11 L532.96,355.74 L540.17,352.51 L547.44,349.42 L554.78,346.47 L562.18,343.66 L569.64,340.99 L577.15,338.47 L584.71,336.09 L592.32,333.86 L599.98,331.77 L607.68,329.84 L615.42,328.05 L623.19,326.41 L631,324.92 L638.85,323.59 L646.72,322.4 L654.61,321.37 L662.53,320.49 L670.47,319.77 L678.43,319.19 L686.4,318.78 L694.38,318.51 L702.36,318.41 L710.36,318.45 L718.35,318.66 L726.34,319.01 L734.33,319.53 L742.31,320.2 L750.28,321.02 L758.24,322 L766.18,323.13 L774.1,324.42 L782,325.87 L789.87,327.46 L797.72,329.21 L805.53,331.12 L813.31,333.17 L821.05,335.38 L828.75,337.74 L836.41,340.25 L844.02,342.9 L851.59,345.71 L859.1,348.67 L866.55,351.77 L873.95,355.02 L881.29,358.41 L888.56,361.94 L895.77,365.62 L902.9,369.44 L909.97,373.4 L916.96,377.5 L923.87,381.73 L930.71,386.1 L937.46,390.61 L944.12,395.24 L950.7,400.01 L957.19,404.91 L963.58,409.93 L969.88,415.09 L976.08,420.36 L982.18,425.76 L988.18,431.27 L994.07,436.91 L999.85,442.66 L1005.53,448.53 L1011.09,454.5 L1016.54,460.59 L1021.87,466.79 L1027.08,473.09 L1032.17,479.49 L1037.14,486 L1041.99,492.6 L1046.71,499.3 L1051.29,506.09 L1055.75,512.98 L1060.08,519.95 L1064.27,527.01 L1068.33,534.15 L1072.24,541.38 L1076.02,548.68 L1079.66,556.06 L1083.16,563.51 L1086.51,571.03 L1089.72,578.62 L1092.78,586.27 L1095.7,593.99 L1098.46,601.76 L1101.08,609.59 L1103.54,617.48 L1105.85,625.41 L1108.01,633.39 L1110.01,641.42 L1111.86,649.48 L1113.55,657.59 L1115.09,665.73 L1116.46,673.9 L1117.68,682.11 L1118.74,690.33 L1119.64,698.59 L1120.39,706.86 L1120.97,715.15 L1121.38,723.45 L1121.64,731.76 L1121.74,740.08 L1121.68,748.41 L1121.45,756.73 L1121.06,765.06 L1120.51,773.38 L1119.8,781.69 L1118.93,789.99 L1117.89,798.28 L1116.69,806.54 L1115.34,814.79 L1113.82,823.01 L1112.14,831.21 L1110.3,839.38 L1108.31,847.51 L1106.15,855.61 L1103.84,863.66 L1101.37,871.68 L1098.74,879.65 L1095.96,887.57 L1093.02,895.44 L1089.93,903.25 L1086.69,911.01 L1083.29,918.7 L1079.75,926.34 L1076.05,933.9 L1072.21,941.4 L1068.22,948.82 L1064.09,956.17 L1059.81,963.44 L1055.38,970.63 L1050.82,977.74 L1046.12,984.76 L1041.28,991.69 L1036.31,998.53 L1031.2,1005.27 L1025.95,1011.92 L1020.58,1018.46 L1015.08,1024.91 L1009.45,1031.24 L1003.7,1037.48 L997.82,1043.6 L991.82,1049.61 L985.71,1055.5 L979.48,1061.28 L973.13,1066.94 L966.67,1072.48 L960.11,1077.89 L953.43,1083.18 L946.65,1088.33 L939.77,1093.36 L932.79,1098.26 L925.72,1103.02 L918.54,1107.65 L911.28,1112.14 L903.93,1116.49 L896.49,1120.69 L888.96,1124.76 L881.36,1128.68 L873.67,1132.45 L865.91,1136.07 L858.08,1139.55 L850.18,1142.87 L842.21,1146.04 L834.18,1149.06 L826.09,1151.92 L817.94,1154.63 L809.73,1157.18 L801.47,1159.57 L793.17,1161.8 L784.82,1163.87 L776.42,1165.77 L767.99,1167.52 L759.52,1169.1 L751.01,1170.52 L742.48,1171.77 L733.92,1172.86 L725.33,1173.78 L716.73,1174.54 L708.11,1175.13 L699.47,1175.55 L690.83,1175.8 L682.17,1175.89 L673.51,1175.8 L664.86,1175.55 L656.2,1175.13 L647.55,1174.55 L638.91,1173.79 L630.28,1172.87 L621.66,1171.78 L613.07,1170.52 L604.5,1169.09 L595.95,1167.5 L587.43,1165.74 L578.94,1163.82 L570.49,1161.72 L562.07,1159.47 L553.7,1157.05 L545.37,1154.47 L537.09,1151.72 L528.86,1148.81 L520.69,1145.75 L512.57,1142.52 L504.51,1139.13 L496.52,1135.59 L488.59,1131.89 L480.73,1128.04 L472.94,1124.03 L465.23,1119.87 L457.6,1115.56 L450.05,1111.1 L442.59,1106.49 L435.21,1101.73 L427.92,1096.83 L420.73,1091.79 L413.63,1086.61 L406.63,1081.28 L399.73,1075.82 L392.94,1070.23 L386.25,1064.5 L379.67,1058.64 L373.21,1052.65 L366.86,1046.53 L360.62,1040.29 L354.51,1033.92 L348.51,1027.44 L342.64,1020.83 L336.9,1014.11 L331.29,1007.28 L325.81,1000.34 L320.46,993.28 L315.25,986.12 L310.17,978.86 L305.23,971.5 L300.44,964.04 L295.79,956.49 L291.28,948.84 L286.93,941.1 L282.72,933.28 L278.66,925.37 L274.75,917.38 L271,909.31 L267.41,901.17 L263.97,892.96 L260.69,884.68 L257.57,876.33 L254.61,867.92 L251.81,859.44 L249.18,850.92 L246.71,842.33 L244.41,833.7 L242.27,825.02 L240.31,816.3 L238.51,807.54 L236.88,798.74 L235.42,789.9 L234.14,781.04 L233.02,772.14 L232.08,763.23 L231.31,754.29 L230.71,745.34 L230.29,736.37 L230.04,727.39 L229.97,718.4 L230.07,709.41 L230.35,700.42 L230.8,691.43 L231.42,682.45 L232.22,673.48 L233.19,664.52 L234.34,655.58 L235.66,646.66 L237.16,637.76 L238.83,628.88 L240.67,620.04 L242.68,611.23 L244.87,602.46 L247.22,593.73 L249.75,585.04 L252.44,576.4 L255.31,567.81 L258.34,559.27 L261.54,550.79 L264.9,542.36 L268.43,534.01 L272.12,525.71 L275.98,517.49 L279.99,509.34 L284.17,501.27 L288.5,493.27 L292.99,485.36 L297.63,477.53 L302.43,469.79 L307.37,462.14 L312.47,454.58 L317.72,447.12 L323.11,439.77 L328.64,432.51 L334.32,425.36 L340.14,418.32 L346.1,411.39 L352.19,404.57 L358.42,397.87 L364.78,391.29 L371.27,384.83 L377.88,378.5 L384.62,372.29 L391.49,366.21 L398.47,360.26 L405.57,354.45 L412.78,348.78 L420.11,343.24 L427.55,337.84 L435.09,332.59 L442.74,327.48 L450.48,322.52 L458.33,317.7 L466.27,313.04 L474.31,308.53 L482.43,304.18 L490.64,299.98 L498.94,295.95 L507.31,292.07 L515.76,288.35 L524.29,284.8 L532.89,281.41 L541.55,278.19 L550.28,275.13 L559.08,272.24 L567.93,269.53 L576.83,266.98 L585.79,264.61 L594.79,262.41 L603.85,260.38 L612.94,258.53 L622.07,256.86 L631.23,255.36 L640.43,254.04 L649.65,252.9 L658.9,251.94 L668.17,251.16 L677.46,250.55 L686.76,250.13 L696.08,249.89 L705.4,249.83 L714.72,249.95 L724.04,250.25 L733.36,250.73 L742.67,251.39 L751.98,252.23 L761.26,253.26 L770.53,254.46 L779.78,255.85 L789.01,257.41 L798.2,259.16 L807.37,261.08 L816.5,263.18 L825.59,265.46 L834.64,267.92 L843.64,270.56 L852.6,273.36 L861.5,276.35 L870.35,279.51 L879.14,282.84 L887.86,286.34 L896.52,290.01 L905.11,293.85 L913.63,297.86 L922.07,302.03 L930.44,306.37 L938.72,310.88 L946.91,315.54 L955.02,320.37 L963.04,325.35 L970.96,330.49 L978.78,335.79 L986.5,341.24 L994.12,346.84 L1001.63,352.59 L1009.03,358.49 L1016.32,364.53 L1023.49,370.72 L1030.55,377.04 L1037.48,383.51 L1044.29,390.11 L1050.97,396.84 L1057.53,403.71 L1063.95,410.7 L1070.24,417.83 L1076.39,425.07 L1082.4,432.44 L1088.27,439.92 L1094,447.53 L1099.58,455.24 L1105.01,463.06 L1110.29,471 L1115.42,479.03 L1120.39,487.17 L1125.21,495.41 L1129.87,503.74 L1134.37,512.16 L1138.7,520.68 L1142.87,529.28 L1146.88,537.96 L1150.71,546.72 L1154.38,555.56 L1157.88,564.48 L1161.2,573.46 L1164.35,582.51 L1167.33,591.62 L1170.13,600.79 L1172.75,610.02 L1175.2,619.31 L1177.46,628.64 L1179.54,638.02 L1181.45,647.44 L1183.16,656.9 L1184.7,666.4 L1186.05,675.92 L1187.22,685.48 L1188.2,695.06 L1189,704.67 L1189.61,714.29 L1190.03,723.92 L1190.27,733.57 L1190.32,743.22 L1190.18,752.87 L1189.85,762.53 L1189.34,772.18 L1188.64,781.82 L1187.75,791.46 L1186.67,801.07 L1185.41,810.67 L1183.96,820.25 L1182.33,829.8 L1180.5,839.32 L1178.5,848.81 L1176.31,858.26 L1173.93,867.67 L1171.37,877.04 L1168.63,886.35 L1165.71,895.62 L1162.6,904.84 L1159.32,913.99 L1155.86,923.09 L1152.22,932.11 L1148.4,941.07 L1144.41,949.96 L1140.25,958.78 L1135.91,967.51 L1131.41,976.16 L1126.73,984.73 L1121.89,993.21 L1116.88,1001.59 L1111.71,1009.88 L1106.37,1018.07 L1100.88,1026.16 L1095.22,1034.15 L1089.41,1042.03 L1083.45,1049.79 L1077.33,1057.44 L1071.07,1064.98 L1064.65,1072.39 L1058.09,1079.69 L1051.39,1086.85 L1044.54,1093.89 L1037.56,1100.8 L1030.45,1107.57 L1023.2,1114.21 L1015.81,1120.7 L1008.31,1127.06 L1000.67,1133.27 L992.91,1139.33 L985.04,1145.25 L977.05,1151.01 L968.94,1156.62 L960.72,1162.08 L952.4,1167.37 L943.97,1172.5 L935.44,1177.48 L926.81,1182.28 L918.08,1186.92 L909.26,1191.4 L900.36,1195.7 L891.37,1199.83 L882.29,1203.79 L873.14,1207.57 L863.91,1211.17 L854.61,1214.6 L845.24,1217.85 L835.81,1220.91 L826.31,1223.79 L816.76,1226.49 L807.15,1229.01 L797.49,1231.33 L787.78,1233.48 L778.03,1235.43 L768.24,1237.19 L758.42,1238.77 L748.56,1240.15 L738.67,1241.34 L728.75,1242.35 L718.82,1243.15 L708.86,1243.77 L698.9,1244.19 L688.92,1244.42 L678.93,1244.46 L668.94,1244.3 L658.96,1243.95 L648.97,1243.4 L639,1242.66 L629.04,1241.73 L619.09,1240.6 L609.16,1239.28 L599.26,1237.76 L589.39,1236.06 L579.54,1234.16 L569.73,1232.07 L559.96,1229.79 L550.23,1227.32 L540.54,1224.66 L530.91,1221.81 L521.33,1218.77 L511.81,1215.54 L502.34,1212.13 L492.94,1208.54 L483.61,1204.76 L474.35,1200.8 L465.16,1196.66 L456.06,1192.34 L447.03,1187.85 L438.09,1183.17 L429.24,1178.32 L420.48,1173.3 L411.82,1168.11 L403.25,1162.75 L394.79,1157.22 L386.43,1151.53 L378.18,1145.67 L370.05,1139.65 L362.03,1133.47 L354.12,1127.13 L346.34,1120.64 L338.69,1114 L331.16,1107.21 L323.76,1100.26 L316.49,1093.18 L309.36,1085.95 L302.37,1078.58 L295.52,1071.07 L288.81,1063.43 L282.25,1055.66 L275.84,1047.76 L269.59,1039.73 L263.48,1031.58 L257.54,1023.31 L251.75,1014.92 L246.13,1006.42 L240.67,997.8 L235.37,989.08 L230.25,980.26 L225.29,971.33 L220.51,962.3 L215.9,953.18 L211.46,943.97 L207.21,934.67 L203.13,925.28 L199.23,915.82 L195.52,906.27 L192,896.66 L188.65,886.97 L185.5,877.21 L182.54,867.39 L179.76,857.52 L177.18,847.58 L174.79,837.6 L172.59,827.56 L170.58,817.48 L168.78,807.36 L167.16,797.2 L165.75,787.01 L164.53,776.79 L163.51,766.54 L162.69,756.27 L162.07,745.99 L161.65,735.69 L161.42,725.37 L161.4,715.06 L161.58,704.74 L161.96,694.42 L162.54,684.1 L163.32,673.8 L164.3,663.5 L165.48,653.23 L166.86,642.97 L168.44,632.74 L170.21,622.54 L172.19,612.37 L174.37,602.24 L176.74,592.15 L179.3,582.1 L182.07,572.1 L185.03,562.15 L188.18,552.26 L191.52,542.42 L195.06,532.65 L198.79,522.95 L202.7,513.31 L206.81,503.75 L211.1,494.27 L215.57,484.87 L220.23,475.55 L225.07,466.32 L230.1,457.18 L235.3,448.14 L240.67,439.2 L246.22,430.36 L251.95,421.63 L257.84,413.01 L263.9,404.5 L270.13,396.1 L276.53,387.83 L283.08,379.67 L289.8,371.65 L296.67,363.75 L303.7,355.98 L310.88,348.35 L318.21,340.85 L325.68,333.5 L333.3,326.29 L341.07,319.23 L348.97,312.31 L357,305.55 L365.17,298.94 L373.47,292.49 L381.9,286.2 L390.45,280.08 L399.12,274.11 L407.91,268.32 L416.81,262.69 L425.83,257.24 L434.95,251.96 L444.17,246.85 L453.5,241.92 L462.93,237.18 L472.44,232.61 L482.05,228.23 L491.75,224.04 L501.53,220.03 L511.39,216.21 L521.32,212.58 L531.33,209.15 L541.41,205.91 L551.55,202.86 L561.75,200.01 L572.01,197.35 L582.33,194.9 L592.69,192.65 L603.1,190.59 L613.55,188.74 L624.04,187.09 L634.56,185.64 L645.11,184.4 L655.69,183.36 L666.3,182.53 L676.92,181.9 L687.55,181.48 L698.2,181.27 L708.85,181.26 L719.5,181.46 L730.15,181.87 L740.8,182.48 L751.43,183.3 L762.05,184.33 L772.66,185.56 L783.24,187 L793.8,188.64 L804.32,190.49 L814.82,192.55 L825.27,194.81 L835.68,197.27 L846.05,199.93 L856.37,202.8 L866.63,205.87 L876.84,209.13 L886.98,212.6 L897.06,216.27 L907.08,220.13 L917.01,224.18 L926.87,228.43 L936.65,232.87 L946.35,237.5 L955.96,242.33 L965.47,247.33 L974.89,252.53 L984.21,257.91 L993.43,263.47 L1002.55,269.21 L1011.55,275.13 L1020.44,281.22 L1029.21,287.49 L1037.86,293.93 L1046.39,300.54 L1054.8,307.32 L1063.07,314.26 L1071.21,321.36 L1079.21,328.62 L1087.08,336.04 L1094.8,343.61 L1102.38,351.34 L1109.8,359.21 L1117.08,367.23 L1124.2,375.39 L1131.17,383.69 L1137.97,392.13 L1144.61,400.7 L1151.09,409.4 L1157.4,418.23 L1163.54,427.18 L1169.51,436.26 L1175.3,445.45 L1180.91,454.76 L1186.35,464.17 L1191.6,473.7 L1196.67,483.33 L1201.55,493.06 L1206.25,502.88 L1210.75,512.8 L1215.07,522.81 L1219.18,532.9 L1223.11,543.08 L1226.84,553.33 L1230.37,563.66 L1233.7,574.05 L1236.82,584.52 L1239.75,595.05 L1242.47,605.63 L1244.99,616.27 L1247.3,626.96 L1249.4,637.7 L1251.3,648.48 L1252.99,659.3 L1254.46,670.16 L1255.73,681.05 L1256.78,691.96 L1257.63,702.89 L1258.26,713.85 L1258.68,724.81 L1258.88,735.79 L1258.88,746.77 L1258.66,757.76 L1258.22,768.74 L1257.58,779.72 L1256.72,790.69 L1255.64,801.64 L1254.36,812.57 L1252.86,823.48 L1251.15,834.37 L1249.22,845.22 L1247.09,856.03 L1244.75,866.81 L1242.19,877.54 L1239.43,888.23 L1236.46,898.86 L1233.28,909.44 L1229.9,919.96 L1226.31,930.42 L1222.52,940.8 L1218.53,951.12 L1214.33,961.36 L1209.94,971.52 L1205.34,981.6 L1200.55,991.59 L1195.57,1001.48 L1190.39,1011.29 L1185.02,1020.99 L1179.47,1030.6 L1173.72,1040.09 L1167.79,1049.48 L1161.68,1058.75 L1155.38,1067.91 L1148.91,1076.94 L1142.26,1085.85 L1135.43,1094.64 L1128.43,1103.29 L1121.27,1111.81 L1113.94,1120.19 L1106.44,1128.43 L1098.78,1136.52 L1090.96,1144.47 L1082.99,1152.27 L1074.87,1159.92 L1066.59,1167.41 L1058.17,1174.73 L1049.6,1181.9 L1040.9,1188.9 L1032.05,1195.74 L1023.08,1202.4 L1013.97,1208.89 L1004.73,1215.21 L995.37,1221.34 L985.89,1227.3 L976.29,1233.07 L966.58,1238.66 L956.75,1244.06 L946.82,1249.27 L936.79,1254.29 L926.66,1259.12 L916.43,1263.75 L906.11,1268.18 L895.7,1272.41 L885.21,1276.44 L874.64,1280.27 L863.99,1283.89 L853.27,1287.31 L842.49,1290.51 L831.64,1293.52 L820.72,1296.31 L809.75,1298.88 L798.73,1301.25 L787.67,1303.4 L776.55,1305.34 L765.4,1307.06 L754.22,1308.57 L743,1309.86 L731.75,1310.93 L720.49,1311.79 L709.2,1312.42 L697.9,1312.84 L686.59,1313.04 L675.27,1313.01 L663.95,1312.77 L652.64,1312.31 L641.33,1311.63 L630.03,1310.73 L618.75,1309.61 L607.49,1308.27 L596.25,1306.71 L585.04,1304.93 L573.86,1302.93 L562.72,1300.72 L551.62,1298.29 L540.57,1295.65 L529.57,1292.79 L518.62,1289.71 L507.72,1286.43 L496.89,1282.93 L486.13,1279.22 L475.43,1275.3 L464.81,1271.17 L454.27,1266.83 L443.81,1262.29 L433.44,1257.55 L423.15,1252.6 L412.96,1247.45 L402.87,1242.11 L392.88,1236.56 L383,1230.83 L373.23,1224.89 L363.57,1218.77 L354.03,1212.46 L344.61,1205.97 L335.31,1199.29 L326.14,1192.43 L317.1,1185.38 L308.2,1178.17 L299.44,1170.77 L290.82,1163.21 L282.34,1155.48 L274.01,1147.58 L265.84,1139.52 L257.82,1131.3 L249.95,1122.92 L242.25,1114.39 L234.72,1105.71 L227.35,1096.88 L220.15,1087.9 L213.12,1078.79 L206.27,1069.53 L199.6,1060.14 L193.11,1050.62 L186.8,1040.97 L180.68,1031.2 L174.75,1021.31 L169.01,1011.3 L163.46,1001.18 L158.11,990.95 L152.96,980.61 L148,970.17 L143.25,959.63 L138.7,949 L134.36,938.28 L130.22,927.48 L126.3,916.59 L122.58,905.62 L119.08,894.58 L115.79,883.47 L112.71,872.29 L109.86,861.05 L107.22,849.76 L104.79,838.41 L102.59,827.01 L100.61,815.57 L98.85,804.08 L97.32,792.57 L96,781.02 L94.92,769.44 L94.05,757.84 L93.41,746.22 L93,734.58 L92.81,722.94 L92.85,711.29 L93.11,699.64 L93.6,687.99 L94.32,676.35 L95.26,664.72 L96.43,653.11 L97.83,641.52 L99.45,629.96 L101.29,618.42 L103.36,606.92 L105.65,595.46 L108.17,584.03 L110.91,572.66 L113.86,561.34 L117.04,550.07 L120.44,538.86 L124.06,527.72 L127.89,516.65 L131.94,505.64 L136.2,494.72 L140.68,483.87 L145.37,473.12 L150.26,462.45 L155.37,451.87 L160.68,441.39 L166.19,431.01 L171.91,420.74 L177.83,410.58 L183.95,400.53 L190.26,390.59 L196.76,380.78 L203.46,371.1 L210.35,361.54 L217.42,352.11 L224.68,342.82 L232.12,333.67 L239.74,324.66 L247.53,315.8 L255.5,307.09 L263.64,298.53 L271.94,290.13 L280.41,281.89 L289.04,273.81 L297.83,265.9 L306.77,258.15 L315.87,250.58 L325.11,243.19 L334.5,235.97 L344.04,228.93 L353.7,222.08 L363.51,215.42 L373.44,208.94 L383.5,202.66 L393.69,196.57 L404,190.67 L414.42,184.98 L424.95,179.49 L435.59,174.2 L446.34,169.11 L457.18,164.24 L468.13,159.57 L479.16,155.12 L490.29,150.88 L501.49,146.85 L512.78,143.04 L524.14,139.46 L535.58,136.09 L547.08,132.94 L558.65,130.01 L570.27,127.31 L581.95,124.84 L593.67,122.59 L605.45,120.56 L617.26,118.77 L629.11,117.2 L640.99,115.87 L652.9,114.76 L664.84,113.89 L676.79,113.25 L688.76,112.84 L700.74,112.66 L712.72,112.71 L724.7,113 L736.68,113.52 L748.65,114.27 L760.61,115.26 L772.55,116.48 L784.47,117.93 L796.36,119.61 L808.22,121.52 L820.05,123.66 L831.84,126.03 L843.58,128.64 L855.27,131.47 L866.92,134.52 L878.5,137.81 L890.02,141.32 L901.47,145.05 L912.86,149.01 L924.17,153.18 L935.4,157.58 L946.54,162.2 L957.6,167.03 L968.57,172.08 L979.44,177.35 L990.21,182.82 L1000.87,188.51 L1011.43,194.4 L1021.87,200.5 L1032.2,206.8 L1042.4,213.3 L1052.48,220.01 L1062.43,226.91 L1072.25,234 L1081.94,241.29 L1091.48,248.76 L1100.88,256.42 L1110.13,264.27 L1119.23,272.29 L1128.18,280.49 L1136.97,288.87 L1145.6,297.42 L1154.06,306.14 L1162.36,315.03 L1170.48,324.07 L1178.43,333.28 L1186.2,342.64 L1193.79,352.15 L1201.2,361.82 L1208.42,371.62 L1215.45,381.57 L1222.29,391.66 L1228.94,401.88 L1235.39,412.23 L1241.63,422.71 L1247.68,433.32 L1253.52,444.04 L1259.15,454.87 L1264.58,465.82 L1269.79,476.87 L1274.79,488.03 L1279.57,499.28 L1284.13,510.63 L1288.48,522.07 L1292.6,533.6 L1296.5,545.21 L1300.17,556.89 L1303.62,568.65 L1306.84,580.48 L1309.84,592.37 L1312.6,604.32 L1315.13,616.33 L1317.43,628.38 L1319.49,640.49 L1321.32,652.63 L1322.91,664.81 L1324.27,677.03 L1325.39,689.27 L1326.27,701.54 L1326.92,713.83 L1327.32,726.13 L1327.49,738.44 L1327.42,750.75 L1327.11,763.07 L1326.56,775.38 L1325.77,787.68 L1324.74,799.97 L1323.48,812.24 L1321.97,824.49 L1320.23,836.71 L1318.25,848.89 L1316.03,861.05 L1313.58,873.16 L1310.89,885.22 L1307.97,897.23 L1304.81,909.19 L1301.42,921.09 L1297.8,932.93 L1293.95,944.7 L1289.87,956.39 L1285.56,968 L1281.03,979.54 L1276.27,990.99 L1271.29,1002.34 L1266.08,1013.61 L1260.66,1024.77 L1255.02,1035.83 L1249.17,1046.78 L1243.1,1057.62 L1236.82,1068.34 L1230.33,1078.94 L1223.63,1089.42 L1216.73,1099.77 L1209.63,1109.99 L1202.33,1120.07 L1194.83,1130.01 L1187.14,1139.8 L1179.26,1149.45 L1171.19,1158.95 L1162.93,1168.29 L1154.49,1177.47 L1145.87,1186.49 L1137.08,1195.34 L1128.11,1204.03 L1118.97,1212.54 L1109.67,1220.87 L1100.2,1229.03 L1090.57,1237 L1080.79,1244.79 L1070.85,1252.38 L1060.77,1259.79 L1050.54,1267 L1040.16,1274.02 L1029.66,1280.83 L1019.01,1287.44 L1008.24,1293.85 L997.34,1300.04 L986.32,1306.03 L975.18,1311.8 L963.93,1317.36 L952.57,1322.7 L941.1,1327.82 L929.54,1332.72 L917.87,1337.39 L906.11,1341.84 L894.27,1346.06 L882.34,1350.05 L870.34,1353.81 L858.25,1357.34 L846.1,1360.63 L833.88,1363.69 L821.61,1366.51 L809.27,1369.1 L796.88,1371.44 L784.45,1373.55 L771.97,1375.41 L759.46,1377.03 L746.91,1378.41 L734.33,1379.54 L721.73,1380.44 L709.11,1381.08 L696.48,1381.48 L683.84,1381.64 L671.19,1381.55 L658.54,1381.22 L645.9,1380.64 L633.27,1379.81 L620.65,1378.74 L608.05,1377.43 L595.47,1375.87 L582.92,1374.06 L570.41,1372.01 L557.93,1369.72 L545.5,1367.19 L533.11,1364.41 L520.78,1361.39 L508.5,1358.14 L496.29,1354.64 L484.14,1350.91 L472.06,1346.94 L460.06,1342.73 L448.13,1338.3 L436.3,1333.62 L424.55,1328.72 L412.89,1323.6 L401.33,1318.24 L389.88,1312.66 L378.53,1306.85 L367.29,1300.83 L356.17,1294.58 L345.17,1288.12 L334.29,1281.45 L323.54,1274.56 L312.92,1267.46 L302.44,1260.16 L292.1,1252.65 L281.91,1244.94 L271.86,1237.03 L261.96,1228.92 L252.22,1220.62 L242.64,1212.13 L233.22,1203.46 L223.98,1194.6 L214.9,1185.56 L205.99,1176.34 L197.27,1166.95 L188.72,1157.38 L180.36,1147.65 L172.19,1137.76 L164.2,1127.71 L156.42,1117.5 L148.83,1107.13 L141.43,1096.62 L134.25,1085.97 L127.27,1075.17 L120.49,1064.24 L113.93,1053.17 L107.58,1041.97 L101.45,1030.65 L95.54,1019.21 L89.85,1007.66 L84.38,995.99 L79.14,984.21 L74.13,972.33 L69.34,960.35 L64.79,948.28 L60.47,936.12 L56.39,923.87 L52.55,911.54 L48.94,899.13 L45.57,886.65 L42.45,874.11 L39.57,861.5 L36.93,848.84 L34.54,836.12 L32.39,823.36 L30.5,810.55 L28.85,797.7 L27.45,784.82 L26.3,771.91 L25.4,758.98 L24.75,746.03 L24.36,733.06 L24.21,720.08 L24.32,707.1 L24.67,694.12 L25.29,681.15 L26.15,668.18 L27.26,655.24 L28.63,642.31 L30.24,629.4 L32.11,616.53 L34.23,603.69 L36.6,590.89 L39.21,578.13 L42.08,565.42 L45.19,552.77 L48.55,540.17 L52.15,527.64 L55.99,515.18 L60.08,502.79 L64.41,490.48 L68.98,478.25 L73.79,466.11 L78.83,454.06 L84.11,442.1 L89.62,430.25 L95.36,418.5 L101.33,406.86 L107.53,395.34 L113.95,383.94 L120.59,372.66 L127.45,361.5 L134.53,350.48 L141.83,339.6 L149.34,328.85 L157.05,318.25 L164.98,307.8 L173.1,297.5 L181.43,287.35 L189.96,277.37 L198.68,267.55 L207.59,257.9 L216.7,248.42 L225.98,239.12 L235.45,229.99 L245.1,221.05 L254.92,212.3 L264.91,203.73 L275.07,195.36 L285.4,187.18 L295.88,179.2 L306.52,171.43 L317.31,163.86 L328.25,156.5 L339.34,149.35 L350.56,142.41 L361.92,135.69 L373.42,129.2 L385.04,122.92 L396.78,116.87 L408.64,111.04 L420.62,105.45 L432.71,100.09 L444.9,94.96 L457.19,90.07 L469.58,85.41 L482.07,81 L494.63,76.82 L507.29,72.89 L520.02,69.21 L532.82,65.77 L545.69,62.58 L558.62,59.64 L571.62,56.95 L584.66,54.52 L597.76,52.33"/>
<path stroke="#b4b4b4" stroke-width="1" d="M672.43,465.39 L645.23,115.45"/>
<path stroke="#b4b4b4" stroke-width="1" d="M851.76,507.88 L1055.87,222.32"/>
<path stroke="#b4b4b4" stroke-width="1" d="M964.78,659.99 L1304.68,572.44"/>
<path stroke="#b4b4b4" stroke-width="1" d="M953.07,854.36 L1269.73,1005.77"/>
<path stroke="#b4b4b4" stroke-width="1" d="M815.44,999.37 L960.69,1318.91"/>
<path stroke="#b4b4b4" stroke-width="1" d="M611.61,1022.4 L517.48,1360.54"/>
<path stroke="#b4b4b4" stroke-width="1" d="M436.41,905.98 L146.95,1104.51"/>
<path stroke="#b4b4b4" stroke-width="1" d="M375.74,699.14 L26.39,665.16"/>
<path stroke="#b4b4b4" stroke-width="1" d="M464.46,496.99 L218.69,246.4"/>
<path stroke="#b4b4b4" stroke-width="1" d="M556.68,504.12 L551,494.71"/>
<path stroke="#b4b4b4" stroke-width="1" d="M611.67,476.36 L608.31,465.88"/>
<path stroke="#b4b4b4" stroke-width="1" d="M672.16,461.9 L671.31,450.94"/>
<path stroke="#b4b4b4" stroke-width="1" d="M734.94,461.81 L736.64,450.95"/>
<path stroke="#b4b4b4" stroke-width="1" d="M796.62,476.36 L800.78,466.18"/>
<path stroke="#b4b4b4" stroke-width="1" d="M853.8,505.03 L860.19,496.08"/>
<path stroke="#b4b4b4" stroke-width="1" d="M903.26,546.51 L911.55,539.27"/>
<path stroke="#b4b4b4" stroke-width="1" d="M942.16,598.76 L951.89,593.63"/>
<path stroke="#b4b4b4" stroke-width="1" d="M968.17,659.12 L978.82,656.38"/>
<path stroke="#b4b4b4" stroke-width="1" d="M979.64,724.44 L990.63,724.23"/>
<path stroke="#b4b4b4" stroke-width="1" d="M975.68,791.23 L986.43,793.56"/>
<path stroke="#b4b4b4" stroke-width="1" d="M956.23,855.87 L966.15,860.61"/>
<path stroke="#b4b4b4" stroke-width="1" d="M922.08,914.77 L930.64,921.68"/>
<path stroke="#b4b4b4" stroke-width="1" d="M874.85,964.63 L881.59,973.32"/>
<path stroke="#b4b4b4" stroke-width="1" d="M816.89,1002.56 L821.44,1012.57"/>
<path stroke="#b4b4b4" stroke-width="1" d="M751.19,1026.27 L753.31,1037.07"/>
<path stroke="#b4b4b4" stroke-width="1" d="M681.19,1034.25 L680.77,1045.24"/>
<path stroke="#b4b4b4" stroke-width="1" d="M610.67,1025.77 L607.72,1036.37"/>
<path stroke="#b4b4b4" stroke-width="1" d="M543.45,1001.03 L538.13,1010.67"/>
<path stroke="#b4b4b4" stroke-width="1" d="M483.27,961.12 L475.88,969.27"/>
<path stroke="#b4b4b4" stroke-width="1" d="M433.53,907.96 L424.45,914.18"/>
<path stroke="#b4b4b4" stroke-width="1" d="M397.11,844.24 L386.85,848.2"/>
<path stroke="#b4b4b4" stroke-width="1" d="M376.22,773.27 L365.32,774.76"/>
<path stroke="#b4b4b4" stroke-width="1" d="M372.25,698.8 L361.3,697.74"/>
<path stroke="#b4b4b4" stroke-width="1" d="M385.69,624.85 L375.28,621.29"/>
<path stroke="#b4b4b4" stroke-width="1" d="M416.07,555.46 L406.77,549.59"/>
<path stroke="#b4b4b4" stroke-width="1" d="M462.01,494.49 L454.31,486.63"/>
<path stroke="#b4b4b4" stroke-width="1" d="M521.24,445.39 L515.55,435.97"/>
<path stroke="#b4b4b4" stroke-width="1" d="M590.73,411.03 L587.37,400.56"/>
<path stroke="#b4b4b4" stroke-width="1" d="M666.85,393.51 L665.99,382.54"/>
<path stroke="#b4b4b4" stroke-width="1" d="M745.54,394.04 L747.24,383.17"/>
<path stroke="#b4b4b4" stroke-width="1" d="M822.57,412.86 L826.73,402.68"/>
<path stroke="#b4b4b4" stroke-width="1" d="M893.69,449.22 L900.09,440.27"/>
<path stroke="#b4b4b4" stroke-width="1" d="M954.95,501.4 L963.23,494.17"/>
<path stroke="#b4b4b4" stroke-width="1" d="M1002.85,566.79 L1012.58,561.66"/>
<path stroke="#b4b4b4" stroke-width="1" d="M1034.6,642.01 L1045.25,639.27"/>
<path stroke="#b4b4b4" stroke-width="1" d="M1048.22,723.11 L1059.22,722.9"/>
<path stroke="#b4b4b4" stroke-width="1" d="M1042.72,805.75 L1053.47,808.08"/>
<path stroke="#b4b4b4" stroke-width="1" d="M1018.12,885.46 L1028.04,890.2"/>
<path stroke="#b4b4b4" stroke-width="1" d="M975.48,957.84 L984.04,964.75"/>
<path stroke="#b4b4b4" stroke-width="1" d="M916.88,1018.85 L923.62,1027.55"/>
<path stroke="#b4b4b4" stroke-width="1" d="M845.28,1065.01 L849.83,1075.02"/>
<path stroke="#b4b4b4" stroke-width="1" d="M764.41,1093.59 L766.53,1104.38"/>
<path stroke="#b4b4b4" stroke-width="1" d="M678.53,1102.79 L678.11,1113.79"/>
<path stroke="#b4b4b4" stroke-width="1" d="M592.27,1091.86 L589.32,1102.45"/>
<path stroke="#b4b4b4" stroke-width="1" d="M510.31,1061.1 L504.99,1070.73"/>
<path stroke="#b4b4b4" stroke-width="1" d="M437.17,1011.92 L429.78,1020.07"/>
<path stroke="#b4b4b4" stroke-width="1" d="M376.95,946.76 L367.88,952.98"/>
<path stroke="#b4b4b4" stroke-width="1" d="M333.11,868.95 L322.85,872.91"/>
<path stroke="#b4b4b4" stroke-width="1" d="M308.25,782.55 L297.35,784.04"/>
<path stroke="#b4b4b4" stroke-width="1" d="M303.98,692.16 L293.03,691.1"/>
<path stroke="#b4b4b4" stroke-width="1" d="M320.78,602.64 L310.38,599.08"/>
<path stroke="#b4b4b4" stroke-width="1" d="M358.04,518.88 L348.73,513.02"/>
<path stroke="#b4b4b4" stroke-width="1" d="M413.98,445.51 L406.27,437.66"/>
<path stroke="#b4b4b4" stroke-width="1" d="M485.79,386.66 L480.11,377.24"/>
<path stroke="#b4b4b4" stroke-width="1" d="M569.78,345.71 L566.42,335.23"/>
<path stroke="#b4b4b4" stroke-width="1" d="M661.53,325.12 L660.68,314.15"/>
<path stroke="#b4b4b4" stroke-width="1" d="M756.14,326.26 L757.84,315.39"/>
<path stroke="#b4b4b4" stroke-width="1" d="M848.51,349.35 L852.67,339.17"/>
<path stroke="#b4b4b4" stroke-width="1" d="M933.58,393.41 L939.98,384.46"/>
<path stroke="#b4b4b4" stroke-width="1" d="M1006.63,456.3 L1014.92,449.06"/>
<path stroke="#b4b4b4" stroke-width="1" d="M1063.55,534.82 L1073.28,529.69"/>
<path stroke="#b4b4b4" stroke-width="1" d="M1101.03,624.9 L1111.68,622.15"/>
<path stroke="#b4b4b4" stroke-width="1" d="M1116.81,721.78 L1127.81,721.57"/>
<path stroke="#b4b4b4" stroke-width="1" d="M1109.77,820.28 L1120.52,822.61"/>
<path stroke="#b4b4b4" stroke-width="1" d="M1080,915.05 L1089.93,919.8"/>
<path stroke="#b4b4b4" stroke-width="1" d="M1028.87,1000.91 L1037.44,1007.81"/>
<path stroke="#b4b4b4" stroke-width="1" d="M958.9,1073.07 L965.64,1081.77"/>
<path stroke="#b4b4b4" stroke-width="1" d="M873.67,1127.46 L878.22,1137.47"/>
<path stroke="#b4b4b4" stroke-width="1" d="M777.63,1160.9 L779.75,1171.7"/>
<path stroke="#b4b4b4" stroke-width="1" d="M675.87,1171.34 L675.45,1182.33"/>
<path stroke="#b4b4b4" stroke-width="1" d="M573.87,1157.94 L570.92,1168.54"/>
<path stroke="#b4b4b4" stroke-width="1" d="M477.17,1121.16 L471.85,1130.79"/>
<path stroke="#b4b4b4" stroke-width="1" d="M391.07,1062.72 L383.68,1070.87"/>
<path stroke="#b4b4b4" stroke-width="1" d="M320.38,985.56 L311.31,991.78"/>
<path stroke="#b4b4b4" stroke-width="1" d="M269.12,893.66 L258.86,897.62"/>
<path stroke="#b4b4b4" stroke-width="1" d="M240.28,791.84 L229.38,793.32"/>
<path stroke="#b4b4b4" stroke-width="1" d="M235.7,685.52 L224.75,684.45"/>
<path stroke="#b4b4b4" stroke-width="1" d="M255.88,580.43 L245.47,576.87"/>
<path stroke="#b4b4b4" stroke-width="1" d="M300,482.3 L290.7,476.44"/>
<path stroke="#b4b4b4" stroke-width="1" d="M365.94,396.54 L358.24,388.68"/>
<path stroke="#b4b4b4" stroke-width="1" d="M450.35,327.92 L444.66,318.51"/>
<path stroke="#b4b4b4" stroke-width="1" d="M548.84,280.38 L545.48,269.91"/>
<path stroke="#b4b4b4" stroke-width="1" d="M656.21,256.72 L655.36,245.76"/>
<path stroke="#b4b4b4" stroke-width="1" d="M766.74,258.49 L768.44,247.62"/>
<path stroke="#b4b4b4" stroke-width="1" d="M874.46,285.85 L878.62,275.67"/>
<path stroke="#b4b4b4" stroke-width="1" d="M973.47,337.6 L979.87,328.65"/>
<path stroke="#b4b4b4" stroke-width="1" d="M1058.32,411.19 L1066.6,403.96"/>
<path stroke="#b4b4b4" stroke-width="1" d="M1124.24,502.85 L1133.97,497.72"/>
<path stroke="#b4b4b4" stroke-width="1" d="M1167.46,607.79 L1178.11,605.04"/>
<path stroke="#b4b4b4" stroke-width="1" d="M1185.4,720.45 L1196.4,720.24"/>
<path stroke="#b4b4b4" stroke-width="1" d="M1176.81,834.8 L1187.56,837.13"/>
<path stroke="#b4b4b4" stroke-width="1" d="M1141.89,944.65 L1151.82,949.39"/>
<path stroke="#b4b4b4" stroke-width="1" d="M1082.27,1043.98 L1090.83,1050.88"/>
<path stroke="#b4b4b4" stroke-width="1" d="M1000.93,1127.29 L1007.66,1135.99"/>
<path stroke="#b4b4b4" stroke-width="1" d="M902.05,1189.91 L906.61,1199.92"/>
<path stroke="#b4b4b4" stroke-width="1" d="M790.85,1228.22 L792.97,1239.01"/>
<path stroke="#b4b4b4" stroke-width="1" d="M673.21,1239.89 L672.79,1250.88"/>
<path stroke="#b4b4b4" stroke-width="1" d="M555.48,1224.03 L552.53,1234.63"/>
<path stroke="#b4b4b4" stroke-width="1" d="M444.02,1181.22 L438.71,1190.86"/>
<path stroke="#b4b4b4" stroke-width="1" d="M344.97,1113.53 L337.58,1121.67"/>
<path stroke="#b4b4b4" stroke-width="1" d="M263.81,1024.36 L254.74,1030.58"/>
<path stroke="#b4b4b4" stroke-width="1" d="M205.12,918.37 L194.86,922.33"/>
<path stroke="#b4b4b4" stroke-width="1" d="M172.31,801.12 L161.42,802.61"/>
<path stroke="#b4b4b4" stroke-width="1" d="M167.42,678.88 L156.47,677.81"/>
<path stroke="#b4b4b4" stroke-width="1" d="M190.97,558.23 L180.57,554.66"/>
<path stroke="#b4b4b4" stroke-width="1" d="M241.97,445.73 L232.66,439.86"/>
<path stroke="#b4b4b4" stroke-width="1" d="M317.91,347.56 L310.2,339.71"/>
<path stroke="#b4b4b4" stroke-width="1" d="M414.9,269.19 L409.22,259.77"/>
<path stroke="#b4b4b4" stroke-width="1" d="M527.89,215.06 L524.53,204.58"/>
<path stroke="#b4b4b4" stroke-width="1" d="M650.9,188.33 L650.05,177.36"/>
<path stroke="#b4b4b4" stroke-width="1" d="M777.34,190.71 L779.04,179.84"/>
<path stroke="#b4b4b4" stroke-width="1" d="M900.4,222.35 L904.56,212.16"/>
<path stroke="#b4b4b4" stroke-width="1" d="M1013.36,281.79 L1019.76,272.84"/>
<path stroke="#b4b4b4" stroke-width="1" d="M1110,366.08 L1118.29,358.85"/>
<path stroke="#b4b4b4" stroke-width="1" d="M1184.94,470.88 L1194.67,465.75"/>
<path stroke="#b4b4b4" stroke-width="1" d="M1233.89,590.68 L1244.55,587.93"/>
<path stroke="#b4b4b4" stroke-width="1" d="M1253.98,719.12 L1264.98,718.91"/>
<path stroke="#b4b4b4" stroke-width="1" d="M1243.86,849.32 L1254.61,851.65"/>
<path stroke="#b4b4b4" stroke-width="1" d="M1203.78,974.24 L1213.71,978.98"/>
<path stroke="#b4b4b4" stroke-width="1" d="M1135.67,1087.04 L1144.23,1093.95"/>
<path stroke="#b4b4b4" stroke-width="1" d="M1042.95,1181.51 L1049.69,1190.21"/>
<path stroke="#b4b4b4" stroke-width="1" d="M930.44,1252.36 L934.99,1262.37"/>
<path stroke="#b4b4b4" stroke-width="1" d="M804.07,1295.53 L806.19,1306.33"/>
<path stroke="#b4b4b4" stroke-width="1" d="M670.55,1308.44 L670.13,1319.43"/>
<path stroke="#b4b4b4" stroke-width="1" d="M537.08,1290.12 L534.13,1300.72"/>
<path stroke="#b4b4b4" stroke-width="1" d="M410.88,1241.29 L405.57,1250.92"/>
<path stroke="#b4b4b4" stroke-width="1" d="M298.87,1164.33 L291.48,1172.47"/>
<path stroke="#b4b4b4" stroke-width="1" d="M207.23,1063.16 L198.16,1069.39"/>
<path stroke="#b4b4b4" stroke-width="1" d="M141.13,943.07 L130.86,947.04"/>
<path stroke="#b4b4b4" stroke-width="1" d="M104.35,810.4 L93.45,811.89"/>
<path stroke="#b4b4b4" stroke-width="1" d="M99.14,672.24 L88.19,671.17"/>
<path stroke="#b4b4b4" stroke-width="1" d="M126.07,536.02 L115.66,532.46"/>
<path stroke="#b4b4b4" stroke-width="1" d="M183.93,409.15 L174.63,403.28"/>
<path stroke="#b4b4b4" stroke-width="1" d="M269.87,298.58 L262.17,290.73"/>
<path stroke="#b4b4b4" stroke-width="1" d="M379.46,210.46 L373.77,201.04"/>
<path stroke="#b4b4b4" stroke-width="1" d="M506.95,149.73 L503.59,139.26"/>
<path fill="none" stroke="#000" stroke-width="1.3" d="M545.79,506.17 L550.04,503.18 L554.36,500.27 L558.73,497.44 L563.17,494.7 L567.65,492.04 L572.2,489.46 L576.79,486.97 L581.44,484.57 L586.14,482.26 L590.88,480.04 L595.67,477.91 L600.5,475.87 L605.38,473.92 L610.3,472.07 L615.25,470.31 L620.25,468.65 L625.28,467.08 L630.34,465.61 L635.43,464.24 L640.56,462.97 L645.71,461.79 L650.88,460.72 L656.09,459.74 L661.31,458.86 L666.55,458.09 L671.81,457.42 L677.09,456.85 L682.38,456.38 L687.69,456.01 L693,455.75 L698.32,455.59 L703.65,455.53 L708.98,455.58 L714.32,455.73 L719.65,455.98 L724.99,456.34 L730.32,456.8 L735.64,457.37 L740.95,458.04 L746.26,458.81 L751.55,459.69 L756.83,460.67 L762.1,461.75 L767.34,462.94 L772.57,464.23 L777.77,465.62 L782.95,467.11 L788.1,468.71 L793.23,470.4 L798.32,472.2 L803.39,474.09 L808.42,476.09 L813.41,478.19 L818.36,480.38 L823.28,482.67 L828.15,485.06 L832.98,487.54 L837.77,490.12 L842.51,492.79 L847.19,495.56 L851.83,498.42 L856.42,501.37 L860.94,504.41 L865.42,507.54 L869.83,510.76 L874.19,514.07 L878.48,517.47 L882.71,520.95 L886.87,524.51 L890.97,528.16 L894.99,531.89 L898.95,535.69 L902.84,539.58 L906.65,543.55 L910.39,547.59 L914.05,551.71 L917.63,555.9 L921.14,560.16 L924.56,564.49 L927.9,568.89 L931.16,573.36 L934.33,577.9 L937.41,582.5 L940.41,587.16 L943.32,591.88 L946.14,596.66 L948.87,601.5 L951.5,606.39 L954.04,611.34 L956.49,616.34 L958.84,621.39 L961.09,626.49 L963.25,631.64 L965.3,636.83 L967.26,642.06 L969.12,647.34 L970.87,652.65 L972.53,658 L974.07,663.38 L975.52,668.8 L976.86,674.25 L978.1,679.73 L979.23,685.23 L980.25,690.76 L981.17,696.32 L981.98,701.89 L982.68,707.48 L983.27,713.09 L983.76,718.72 L984.14,724.35 L984.4,730 L984.56,735.65 L984.61,741.32 L984.54,746.98 L984.37,752.65 L984.09,758.31 L983.69,763.98 L983.19,769.64 L982.58,775.29 L981.85,780.93 L981.02,786.56 L980.07,792.18 L979.02,797.79 L977.86,803.37 L976.58,808.94 L975.2,814.49 L973.71,820.01 L972.11,825.5 L970.41,830.97 L968.6,836.41 L966.68,841.81 L964.65,847.18 L962.52,852.51 L960.29,857.81 L957.95,863.06 L955.5,868.27 L952.96,873.44 L950.31,878.56 L947.56,883.63 L944.72,888.65 L941.77,893.62 L938.72,898.53 L935.58,903.39 L932.34,908.19 L929.01,912.92 L925.58,917.6 L922.07,922.21 L918.45,926.75 L914.75,931.23 L910.96,935.64 L907.09,939.97 L903.12,944.24 L899.07,948.43 L894.94,952.54 L890.73,956.57 L886.43,960.53 L882.06,964.4 L877.61,968.19 L873.08,971.89 L868.48,975.51 L863.81,979.04 L859.06,982.48 L854.25,985.84 L849.37,989.1 L844.42,992.26 L839.41,995.34 L834.33,998.31 L829.2,1001.19 L824,1003.97 L818.75,1006.65 L813.45,1009.23 L808.09,1011.71 L802.68,1014.09 L797.23,1016.36 L791.72,1018.53 L786.17,1020.59 L780.58,1022.55 L774.95,1024.39 L769.28,1026.13 L763.57,1027.76 L757.83,1029.28 L752.05,1030.69 L746.25,1031.99 L740.42,1033.17 L734.56,1034.24 L728.67,1035.2 L722.77,1036.05 L716.84,1036.78 L710.9,1037.4 L704.95,1037.9 L698.98,1038.28 L693,1038.55 L687.01,1038.71 L681.02,1038.74 L675.02,1038.66 L669.02,1038.47 L663.03,1038.16 L657.03,1037.73 L651.04,1037.18 L645.06,1036.52 L639.09,1035.74 L633.13,1034.85 L627.19,1033.83 L621.26,1032.71 L615.35,1031.46 L609.46,1030.11 L603.6,1028.63 L597.76,1027.04 L591.95,1025.34 L586.17,1023.53 L580.42,1021.6 L574.7,1019.55 L569.03,1017.4 L563.39,1015.13 L557.79,1012.76 L552.24,1010.27 L546.73,1007.68 L541.28,1004.97 L535.87,1002.16 L530.51,999.25 L525.2,996.23 L519.96,993.1 L514.77,989.87 L509.64,986.53 L504.57,983.1 L499.57,979.57 L494.63,975.93 L489.77,972.2 L484.97,968.38 L480.24,964.45 L475.59,960.44 L471.02,956.33 L466.52,952.13 L462.1,947.84 L457.76,943.47 L453.51,939 L449.34,934.46 L445.25,929.83 L441.26,925.12 L437.35,920.32 L433.54,915.45 L429.81,910.51 L426.19,905.49 L422.66,900.39 L419.22,895.23 L415.88,889.99 L412.65,884.69 L409.51,879.32 L406.48,873.89 L403.56,868.4 L400.73,862.85 L398.02,857.24 L395.41,851.58 L392.91,845.86 L390.52,840.09 L388.24,834.28 L386.08,828.41 L384.02,822.5 L382.08,816.55 L380.26,810.56 L378.55,804.53 L376.96,798.46 L375.48,792.36 L374.12,786.23 L372.88,780.07 L371.76,773.88 L370.76,767.66 L369.88,761.43 L369.12,755.17 L368.48,748.9 L367.97,742.61 L367.57,736.31 L367.3,730 L367.15,723.68 L367.12,717.35 L367.22,711.02 L367.43,704.69 L367.77,698.37 L368.24,692.04 L368.83,685.72 L369.54,679.41 L370.37,673.11 L371.33,666.83 L372.4,660.55 L373.61,654.3 L374.93,648.07 L376.37,641.86 L377.94,635.68 L379.63,629.52 L381.43,623.39 L383.36,617.3 L385.41,611.24 L387.57,605.22 L389.85,599.23 L392.25,593.29 L394.77,587.4 L397.4,581.54 L400.15,575.74 L403.01,569.99 L405.98,564.29 L409.07,558.65 L412.27,553.06 L415.57,547.53 L418.99,542.07 L422.51,536.67 L426.14,531.33 L429.88,526.06 L433.72,520.87 L437.66,515.74 L441.7,510.69 L445.85,505.72 L450.09,500.82 L454.43,496.01 L458.86,491.27 L463.39,486.62 L468.01,482.06 L472.72,477.59 L477.52,473.2 L482.41,468.9 L487.38,464.7 L492.44,460.59 L497.57,456.58 L502.79,452.67 L508.09,448.86 L513.46,445.15 L518.91,441.54 L524.43,438.03 L530.02,434.63 L535.68,431.34 L541.41,428.16 L547.2,425.08 L553.05,422.12 L558.96,419.27 L564.94,416.53 L570.96,413.91 L577.04,411.41 L583.17,409.02 L589.35,406.75 L595.58,404.59 L601.85,402.56 L608.17,400.65 L614.52,398.86 L620.91,397.2 L627.34,395.65 L633.8,394.23 L640.28,392.94 L646.8,391.77 L653.35,390.73 L659.91,389.81 L666.5,389.02 L673.1,388.36 L679.72,387.83 L686.36,387.42 L693,387.15 L699.65,387 L706.31,386.98 L712.97,387.09 L719.63,387.33 L726.29,387.7 L732.95,388.2 L739.6,388.83 L746.24,389.59 L752.87,390.48 L759.48,391.5 L766.08,392.64 L772.65,393.92 L779.21,395.32 L785.74,396.85 L792.24,398.51 L798.72,400.29 L805.16,402.21 L811.57,404.24 L817.94,406.41 L824.27,408.69 L830.56,411.11 L836.8,413.64 L843,416.3 L849.15,419.08 L855.25,421.97 L861.3,424.99 L867.28,428.13 L873.21,431.39 L879.08,434.76 L884.89,438.24 L890.63,441.85 L896.31,445.56 L901.91,449.39 L907.44,453.32 L912.9,457.37 L918.28,461.52 L923.58,465.78 L928.81,470.15 L933.95,474.61 L939,479.18 L943.97,483.85 L948.85,488.62 L953.64,493.48 L958.34,498.44 L962.94,503.49 L967.44,508.64 L971.85,513.87 L976.16,519.19 L980.37,524.6 L984.47,530.09 L988.47,535.67 L992.36,541.32 L996.15,547.05 L999.82,552.86 L1003.38,558.74 L1006.83,564.69 L1010.17,570.71 L1013.39,576.8 L1016.49,582.96 L1019.48,589.17 L1022.34,595.45 L1025.09,601.78 L1027.71,608.18 L1030.21,614.62 L1032.59,621.12 L1034.84,627.66 L1036.96,634.25 L1038.96,640.89 L1040.83,647.56 L1042.57,654.28 L1044.18,661.03 L1045.66,667.82 L1047,674.63 L1048.22,681.48 L1049.31,688.35 L1050.26,695.25 L1051.07,702.17 L1051.76,709.1 L1052.31,716.06 L1052.72,723.02 L1053,730 L1053.15,736.99 L1053.15,743.98 L1053.03,750.97 L1052.76,757.96 L1052.36,764.95 L1051.83,771.94 L1051.16,778.92 L1050.35,785.89 L1049.41,792.84 L1048.33,799.79 L1047.12,806.71 L1045.77,813.61 L1044.29,820.49 L1042.67,827.34 L1040.92,834.16 L1039.04,840.95 L1037.02,847.71 L1034.87,854.43 L1032.59,861.11 L1030.18,867.75 L1027.64,874.35 L1024.97,880.9 L1022.18,887.4 L1019.25,893.85 L1016.2,900.24 L1013.02,906.58 L1009.72,912.86 L1006.3,919.08 L1002.75,925.23 L999.08,931.31 L995.3,937.33 L991.39,943.28 L987.37,949.15 L983.23,954.95 L978.98,960.67 L974.62,966.3 L970.14,971.86 L965.56,977.33 L960.86,982.71 L956.06,988.01 L951.16,993.21 L946.15,998.32 L941.04,1003.34 L935.83,1008.26 L930.53,1013.08 L925.13,1017.79 L919.63,1022.41 L914.05,1026.92 L908.37,1031.32 L902.61,1035.62 L896.76,1039.8 L890.82,1043.87 L884.81,1047.83 L878.72,1051.67 L872.55,1055.4 L866.3,1059.01 L859.98,1062.49 L853.6,1065.86 L847.14,1069.1 L840.62,1072.22 L834.04,1075.22 L827.39,1078.09 L820.69,1080.83 L813.93,1083.44 L807.12,1085.92 L800.26,1088.27 L793.35,1090.48 L786.39,1092.56 L779.39,1094.51 L772.35,1096.33 L765.27,1098 L758.16,1099.55 L751.02,1100.95 L743.84,1102.21 L736.64,1103.34 L729.41,1104.33 L722.16,1105.17 L714.89,1105.88 L707.61,1106.45 L700.31,1106.87 L693,1107.15 L685.68,1107.29 L678.36,1107.29 L671.03,1107.15 L663.71,1106.86 L656.38,1106.43 L649.07,1105.86 L641.76,1105.15 L634.46,1104.3 L627.18,1103.3 L619.91,1102.16 L612.66,1100.88 L605.44,1099.46 L598.24,1097.9 L591.06,1096.19 L583.92,1094.35 L576.81,1092.37 L569.74,1090.25 L562.7,1087.99 L555.71,1085.59 L548.76,1083.06 L541.86,1080.39 L535,1077.59 L528.2,1074.65 L521.45,1071.58 L514.76,1068.37 L508.13,1065.04 L501.57,1061.57 L495.06,1057.98 L488.63,1054.26 L482.26,1050.41 L475.97,1046.44 L469.75,1042.34 L463.61,1038.13 L457.55,1033.79 L451.57,1029.33 L445.67,1024.75 L439.86,1020.06 L434.14,1015.26 L428.52,1010.34 L422.98,1005.31 L417.54,1000.17 L412.2,994.92 L406.96,989.57 L401.82,984.11 L396.79,978.55 L391.86,972.89 L387.04,967.14 L382.33,961.29 L377.73,955.34 L373.24,949.31 L368.87,943.18 L364.62,936.97 L360.49,930.67 L356.48,924.29 L352.59,917.83 L348.82,911.29 L345.18,904.68 L341.67,898 L338.28,891.24 L335.03,884.41 L331.91,877.52 L328.91,870.57 L326.06,863.56 L323.34,856.48 L320.75,849.36 L318.31,842.18 L316,834.95 L313.83,827.67 L311.8,820.35 L309.91,812.98 L308.17,805.58 L306.57,798.14 L305.11,790.67 L303.79,783.16 L302.63,775.63 L301.6,768.07 L300.73,760.49 L300,752.89 L299.42,745.27 L298.98,737.64 L298.7,730 L298.56,722.35 L298.57,714.69 L298.73,707.04 L299.04,699.38 L299.5,691.72 L300.1,684.08 L300.86,676.44 L301.76,668.81 L302.81,661.2 L304.01,653.6 L305.36,646.03 L306.85,638.48 L308.5,630.96 L310.29,623.46 L312.22,616 L314.3,608.57 L316.53,601.19 L318.9,593.84 L321.41,586.53 L324.07,579.27 L326.86,572.06 L329.8,564.91 L332.88,557.8 L336.1,550.76 L339.45,543.77 L342.95,536.85 L346.57,529.99 L350.34,523.2 L354.23,516.48 L358.26,509.84 L362.42,503.27 L366.7,496.78 L371.12,490.37 L375.66,484.04 L380.32,477.8 L385.11,471.65 L390.02,465.59 L395.04,459.62 L400.19,453.75 L405.45,447.97 L410.82,442.3 L416.31,436.73 L421.91,431.26 L427.61,425.9 L433.42,420.65 L439.34,415.51 L445.35,410.48 L451.47,405.57 L457.68,400.77 L463.99,396.1 L470.39,391.54 L476.89,387.11 L483.47,382.8 L490.13,378.62 L496.88,374.57 L503.71,370.65 L510.62,366.85 L517.61,363.19 L524.66,359.67 L531.79,356.28 L538.99,353.03 L546.25,349.92 L553.58,346.94 L560.96,344.11 L568.41,341.42 L575.91,338.88 L583.46,336.47 L591.05,334.22 L598.7,332.11 L606.39,330.15 L614.12,328.34 L621.88,326.68 L629.68,325.16 L637.52,323.8 L645.38,322.59 L653.27,321.53 L661.18,320.63 L669.11,319.88 L677.06,319.28 L685.03,318.84 L693,318.55 L700.98,318.41 L708.97,318.43 L716.96,318.61 L724.95,318.94 L732.94,319.43 L740.91,320.07 L748.88,320.86 L756.84,321.82 L764.78,322.92 L772.7,324.18 L780.6,325.6 L788.47,327.17 L796.32,328.89 L804.14,330.76 L811.92,332.79 L819.66,334.97 L827.37,337.3 L835.03,339.78 L842.64,342.41 L850.21,345.19 L857.73,348.12 L865.19,351.19 L872.6,354.41 L879.94,357.77 L887.22,361.28 L894.44,364.93 L901.58,368.72 L908.66,372.65 L915.66,376.72 L922.59,380.93 L929.43,385.27 L936.2,389.75 L942.87,394.36 L949.47,399.1 L955.97,403.97 L962.38,408.97 L968.69,414.1 L974.91,419.34 L981.02,424.71 L987.04,430.21 L992.95,435.82 L998.75,441.54 L1004.44,447.38 L1010.02,453.34 L1015.49,459.4 L1020.84,465.57 L1026.07,471.85 L1031.19,478.23 L1036.18,484.71 L1041.04,491.29 L1045.78,497.97 L1050.4,504.74 L1054.88,511.61 L1059.23,518.56 L1063.45,525.6 L1067.53,532.72 L1071.47,539.92 L1075.28,547.21 L1078.94,554.57 L1082.47,562 L1085.85,569.5 L1089.08,577.08 L1092.17,584.71 L1095.12,592.41 L1097.91,600.17 L1100.55,607.99 L1103.05,615.86 L1105.39,623.78 L1107.58,631.74 L1109.61,639.76 L1111.49,647.81 L1113.21,655.91 L1114.78,664.03 L1116.19,672.2 L1117.44,680.39 L1118.53,688.61 L1119.47,696.85 L1120.24,705.12 L1120.86,713.4 L1121.31,721.69 L1121.6,730 L1121.73,738.32 L1121.7,746.64 L1121.51,754.96 L1121.16,763.28 L1120.64,771.6 L1119.97,779.91 L1119.13,788.2 L1118.13,796.49 L1116.97,804.76 L1115.65,813.01 L1114.16,821.23 L1112.52,829.43 L1110.72,837.6 L1108.76,845.73 L1106.64,853.84 L1104.36,861.9 L1101.93,869.92 L1099.34,877.89 L1096.59,885.82 L1093.69,893.7 L1090.63,901.52 L1087.42,909.29 L1084.06,916.99 L1080.55,924.64 L1076.89,932.21 L1073.09,939.72 L1069.13,947.16 L1065.03,954.52 L1060.79,961.81 L1056.4,969.01 L1051.87,976.13 L1047.2,983.17 L1042.4,990.12 L1037.45,996.97 L1032.38,1003.73 L1027.17,1010.4 L1021.83,1016.97 L1016.36,1023.43 L1010.76,1029.79 L1005.04,1036.04 L999.19,1042.19 L993.23,1048.22 L987.14,1054.14 L980.94,1059.94 L974.62,1065.63 L968.2,1071.19 L961.66,1076.63 L955.01,1081.94 L948.26,1087.13 L941.41,1092.19 L934.45,1097.11 L927.4,1101.91 L920.26,1106.56 L913.02,1111.08 L905.69,1115.46 L898.27,1119.7 L890.77,1123.8 L883.19,1127.75 L875.53,1131.56 L867.79,1135.21 L859.98,1138.72 L852.1,1142.08 L844.15,1145.29 L836.14,1148.34 L828.07,1151.24 L819.93,1153.98 L811.74,1156.57 L803.5,1159 L795.21,1161.26 L786.87,1163.37 L778.49,1165.32 L770.07,1167.1 L761.62,1168.72 L753.12,1170.18 L744.6,1171.48 L736.05,1172.6 L727.48,1173.57 L718.88,1174.36 L710.27,1174.99 L701.64,1175.46 L693,1175.75 L684.35,1175.88 L675.7,1175.84 L667.04,1175.63 L658.39,1175.26 L649.74,1174.71 L641.1,1174 L632.47,1173.12 L623.86,1172.07 L615.26,1170.86 L606.69,1169.47 L598.14,1167.92 L589.62,1166.21 L581.12,1164.33 L572.67,1162.28 L564.25,1160.07 L555.87,1157.69 L547.53,1155.15 L539.24,1152.45 L531,1149.59 L522.81,1146.56 L514.69,1143.38 L506.62,1140.04 L498.61,1136.54 L490.67,1132.88 L482.79,1129.07 L474.99,1125.1 L467.27,1120.98 L459.62,1116.71 L452.05,1112.29 L444.56,1107.73 L437.17,1103.01 L429.86,1098.15 L422.64,1093.15 L415.52,1088.01 L408.5,1082.73 L401.58,1077.3 L394.76,1071.75 L388.04,1066.06 L381.44,1060.23 L374.95,1054.28 L368.57,1048.2 L362.3,1042 L356.16,1035.67 L350.14,1029.22 L344.24,1022.65 L338.46,1015.96 L332.82,1009.16 L327.3,1002.25 L321.92,995.23 L316.67,988.11 L311.56,980.88 L306.59,973.55 L301.75,966.12 L297.07,958.59 L292.52,950.97 L288.13,943.27 L283.88,935.47 L279.78,927.59 L275.83,919.63 L272.04,911.58 L268.4,903.47 L264.92,895.28 L261.6,887.02 L258.43,878.69 L255.43,870.3 L252.59,861.85 L249.91,853.34 L247.4,844.78 L245.05,836.17 L242.87,827.5 L240.85,818.8 L239.01,810.05 L237.33,801.27 L235.83,792.44 L234.49,783.59 L233.33,774.71 L232.33,765.81 L231.52,756.88 L230.87,747.93 L230.4,738.97 L230.1,730 L229.97,721.02 L230.02,712.03 L230.25,703.05 L230.65,694.06 L231.22,685.08 L231.97,676.11 L232.89,667.15 L233.98,658.21 L235.25,649.29 L236.7,640.38 L238.31,631.51 L240.1,622.66 L242.07,613.85 L244.2,605.07 L246.5,596.33 L248.98,587.63 L251.62,578.98 L254.43,570.37 L257.41,561.82 L260.56,553.33 L263.87,544.89 L267.35,536.52 L270.99,528.21 L274.79,519.97 L278.76,511.8 L282.88,503.71 L287.16,495.69 L291.6,487.76 L296.2,479.9 L300.94,472.14 L305.84,464.47 L310.89,456.89 L316.09,449.4 L321.44,442.02 L326.93,434.73 L332.56,427.55 L338.33,420.48 L344.24,413.52 L350.29,406.67 L356.47,399.94 L362.79,393.32 L369.24,386.83 L375.81,380.46 L382.51,374.21 L389.33,368.1 L396.27,362.11 L403.33,356.26 L410.51,350.54 L417.79,344.96 L425.19,339.53 L432.7,334.23 L440.31,329.08 L448.02,324.07 L455.83,319.21 L463.74,314.51 L471.74,309.95 L479.83,305.55 L488.01,301.31 L496.28,297.22 L504.62,293.29 L513.05,289.52 L521.55,285.92 L530.12,282.48 L538.76,279.21 L547.46,276.1 L556.23,273.16 L565.06,270.39 L573.94,267.79 L582.88,265.36 L591.86,263.11 L600.9,261.02 L609.97,259.12 L619.08,257.39 L628.23,255.83 L637.42,254.46 L646.63,253.26 L655.87,252.24 L665.12,251.39 L674.4,250.73 L683.7,250.25 L693,249.95 L702.31,249.83 L711.63,249.89 L720.95,250.13 L730.27,250.55 L739.58,251.15 L748.88,251.93 L758.17,252.9 L767.44,254.04 L776.69,255.36 L785.92,256.87 L795.12,258.55 L804.29,260.42 L813.43,262.46 L822.53,264.68 L831.59,267.07 L840.61,269.65 L849.57,272.39 L858.49,275.32 L867.35,278.41 L876.16,281.68 L884.9,285.13 L893.58,288.74 L902.19,292.52 L910.73,296.47 L919.19,300.59 L927.58,304.87 L935.88,309.31 L944.11,313.92 L952.24,318.69 L960.28,323.62 L968.23,328.7 L976.09,333.94 L983.84,339.33 L991.49,344.88 L999.03,350.58 L1006.47,356.42 L1013.8,362.41 L1021.01,368.54 L1028.1,374.82 L1035.07,381.23 L1041.92,387.78 L1048.65,394.47 L1055.24,401.28 L1061.71,408.23 L1068.04,415.3 L1074.24,422.5 L1080.3,429.82 L1086.21,437.26 L1091.99,444.82 L1097.62,452.49 L1103.1,460.27 L1108.43,468.16 L1113.61,476.16 L1118.64,484.26 L1123.51,492.46 L1128.22,500.75 L1132.77,509.14 L1137.17,517.62 L1141.39,526.18 L1145.46,534.83 L1149.35,543.56 L1153.08,552.37 L1156.64,561.25 L1160.02,570.2 L1163.23,579.23 L1166.27,588.31 L1169.13,597.46 L1171.82,606.66 L1174.33,615.92 L1176.66,625.23 L1178.8,634.59 L1180.77,643.99 L1182.56,653.43 L1184.16,662.91 L1185.58,672.43 L1186.81,681.97 L1187.86,691.54 L1188.73,701.13 L1189.4,710.74 L1189.9,720.36 L1190.2,730 L1190.32,739.65 L1190.25,749.3 L1189.99,758.95 L1189.55,768.6 L1188.92,778.24 L1188.1,787.87 L1187.1,797.49 L1185.9,807.09 L1184.52,816.67 L1182.96,826.23 L1181.21,835.75 L1179.27,845.25 L1177.15,854.71 L1174.85,864.13 L1172.36,873.51 L1169.69,882.84 L1166.83,892.13 L1163.8,901.36 L1160.58,910.53 L1157.19,919.64 L1153.62,928.69 L1149.87,937.68 L1145.95,946.59 L1141.86,955.42 L1137.59,964.18 L1133.15,972.86 L1128.54,981.46 L1123.76,989.97 L1118.82,998.38 L1113.71,1006.71 L1108.44,1014.93 L1103.01,1023.06 L1097.42,1031.08 L1091.67,1039 L1085.77,1046.8 L1079.72,1054.49 L1073.51,1062.07 L1067.16,1069.53 L1060.66,1076.87 L1054.01,1084.08 L1047.23,1091.16 L1040.3,1098.12 L1033.24,1104.94 L1026.05,1111.63 L1018.72,1118.18 L1011.26,1124.59 L1003.68,1130.85 L995.98,1136.97 L988.15,1142.94 L980.21,1148.76 L972.15,1154.43 L963.98,1159.94 L955.7,1165.3 L947.32,1170.49 L938.83,1175.53 L930.24,1180.4 L921.56,1185.1 L912.78,1189.64 L903.92,1194.01 L894.96,1198.2 L885.93,1202.23 L876.81,1206.08 L867.61,1209.75 L858.35,1213.25 L849.01,1216.56 L839.61,1219.7 L830.14,1222.66 L820.61,1225.43 L811.03,1228.02 L801.4,1230.42 L791.71,1232.63 L781.99,1234.66 L772.22,1236.5 L762.41,1238.15 L752.56,1239.61 L742.69,1240.88 L732.79,1241.96 L722.87,1242.85 L712.93,1243.54 L702.97,1244.04 L693,1244.35 L683.02,1244.47 L673.04,1244.39 L663.06,1244.12 L653.08,1243.65 L643.1,1242.99 L633.14,1242.14 L623.19,1241.09 L613.26,1239.85 L603.35,1238.41 L593.47,1236.79 L583.62,1234.97 L573.8,1232.96 L564.01,1230.76 L554.27,1228.37 L544.57,1225.79 L534.92,1223.02 L525.32,1220.06 L515.78,1216.91 L506.29,1213.58 L496.87,1210.07 L487.51,1206.37 L478.23,1202.49 L469.01,1198.42 L459.88,1194.18 L450.82,1189.76 L441.85,1185.16 L432.97,1180.39 L424.17,1175.45 L415.47,1170.33 L406.87,1165.04 L398.37,1159.59 L389.97,1153.96 L381.68,1148.18 L373.5,1142.23 L365.43,1136.12 L357.48,1129.86 L349.65,1123.43 L341.94,1116.86 L334.36,1110.13 L326.91,1103.26 L319.59,1096.24 L312.41,1089.07 L305.36,1081.77 L298.45,1074.32 L291.68,1066.74 L285.07,1059.03 L278.59,1051.19 L272.27,1043.22 L266.11,1035.12 L260.1,1026.91 L254.24,1018.57 L248.55,1010.12 L243.02,1001.56 L237.66,992.89 L232.46,984.12 L227.43,975.24 L222.57,966.26 L217.89,957.18 L213.38,948.01 L209.05,938.76 L204.9,929.41 L200.92,919.99 L197.13,910.48 L193.53,900.9 L190.1,891.25 L186.87,881.53 L183.82,871.74 L180.96,861.89 L178.3,851.99 L175.82,842.03 L173.54,832.02 L171.45,821.96 L169.56,811.86 L167.86,801.73 L166.35,791.56 L165.05,781.35 L163.94,771.12 L163.03,760.87 L162.32,750.59 L161.81,740.3 L161.5,730 L161.39,719.69 L161.47,709.37 L161.76,699.06 L162.25,688.75 L162.94,678.44 L163.83,668.15 L164.92,657.87 L166.21,647.61 L167.7,637.37 L169.38,627.16 L171.27,616.99 L173.35,606.84 L175.63,596.73 L178.11,586.67 L180.78,576.65 L183.65,566.68 L186.72,556.77 L189.97,546.91 L193.42,537.12 L197.06,527.38 L200.88,517.72 L204.9,508.13 L209.1,498.62 L213.49,489.18 L218.06,479.83 L222.82,470.56 L227.76,461.39 L232.87,452.31 L238.16,443.33 L243.63,434.44 L249.27,425.67 L255.08,417 L261.07,408.44 L267.22,399.99 L273.53,391.66 L280.01,383.46 L286.65,375.37 L293.44,367.42 L300.39,359.59 L307.5,351.9 L314.75,344.35 L322.16,336.93 L329.71,329.66 L337.4,322.53 L345.23,315.55 L353.2,308.72 L361.31,302.04 L369.54,295.52 L377.9,289.16 L386.39,282.95 L395,276.91 L403.73,271.04 L412.58,265.34 L421.53,259.8 L430.6,254.44 L439.77,249.26 L449.05,244.25 L458.42,239.42 L467.89,234.77 L477.45,230.3 L487.1,226.02 L496.84,221.92 L506.65,218.02 L516.55,214.3 L526.52,210.77 L536.56,207.44 L546.66,204.3 L556.83,201.36 L567.06,198.61 L577.34,196.06 L587.68,193.71 L598.06,191.56 L608.49,189.61 L618.95,187.86 L629.45,186.32 L639.99,184.98 L650.55,183.84 L661.14,182.91 L671.74,182.18 L682.37,181.66 L693,181.35 L703.64,181.24 L714.29,181.34 L724.94,181.64 L735.58,182.15 L746.22,182.87 L756.84,183.8 L767.45,184.93 L778.04,186.26 L788.6,187.81 L799.14,189.55 L809.65,191.51 L820.11,193.66 L830.54,196.03 L840.93,198.59 L851.27,201.35 L861.55,204.32 L871.78,207.49 L881.95,210.85 L892.06,214.42 L902.1,218.18 L912.07,222.14 L921.97,226.29 L931.78,230.63 L941.52,235.17 L951.16,239.89 L960.72,244.8 L970.18,249.9 L979.55,255.19 L988.82,260.65 L997.98,266.3 L1007.03,272.13 L1015.98,278.13 L1024.8,284.31 L1033.51,290.66 L1042.1,297.18 L1050.57,303.87 L1058.9,310.72 L1067.11,317.74 L1075.17,324.92 L1083.11,332.25 L1090.9,339.75 L1098.54,347.39 L1106.04,355.18 L1113.39,363.12 L1120.59,371.21 L1127.63,379.44 L1134.52,387.8 L1141.24,396.3 L1147.8,404.93 L1154.19,413.69 L1160.41,422.58 L1166.47,431.59 L1172.35,440.71 L1178.05,449.96 L1183.57,459.31 L1188.92,468.78 L1194.08,478.35 L1199.05,488.02 L1203.84,497.79 L1208.45,507.66 L1212.86,517.62 L1217.07,527.66 L1221.1,537.79 L1224.93,548 L1228.56,558.28 L1231.99,568.64 L1235.22,579.06 L1238.25,589.55 L1241.08,600.1 L1243.7,610.71 L1246.12,621.37 L1248.33,632.08 L1250.33,642.84 L1252.13,653.63 L1253.71,664.46 L1255.09,675.33 L1256.26,686.22 L1257.21,697.14 L1257.95,708.08 L1258.48,719.03 L1258.8,730 L1258.91,740.98 L1258.8,751.96 L1258.48,762.94 L1257.94,773.91 L1257.2,784.88 L1256.24,795.83 L1255.07,806.77 L1253.68,817.69 L1252.08,828.58 L1250.27,839.45 L1248.25,850.28 L1246.02,861.07 L1243.58,871.82 L1240.93,882.53 L1238.07,893.18 L1235.01,903.79 L1231.74,914.33 L1228.26,924.82 L1224.58,935.24 L1220.7,945.59 L1216.61,955.86 L1212.33,966.06 L1207.84,976.18 L1203.16,986.21 L1198.28,996.16 L1193.21,1006.01 L1187.95,1015.76 L1182.5,1025.41 L1176.85,1034.96 L1171.03,1044.4 L1165.02,1053.73 L1158.82,1062.95 L1152.45,1072.05 L1145.9,1081.02 L1139.17,1089.87 L1132.27,1098.59 L1125.2,1107.18 L1117.96,1115.63 L1110.56,1123.94 L1102.99,1132.11 L1095.26,1140.14 L1087.38,1148.02 L1079.34,1155.74 L1071.15,1163.31 L1062.81,1170.73 L1054.33,1177.98 L1045.71,1185.07 L1036.94,1191.99 L1028.04,1198.75 L1019.01,1205.33 L1009.85,1211.74 L1000.56,1217.98 L991.15,1224.03 L981.62,1229.9 L971.97,1235.59 L962.21,1241.09 L952.35,1246.4 L942.38,1251.53 L932.3,1256.46 L922.13,1261.19 L911.87,1265.73 L901.52,1270.07 L891.08,1274.21 L880.56,1278.15 L869.96,1281.89 L859.28,1285.42 L848.54,1288.74 L837.73,1291.86 L826.85,1294.77 L815.92,1297.46 L804.93,1299.95 L793.9,1302.22 L782.81,1304.28 L771.69,1306.12 L760.53,1307.75 L749.33,1309.16 L738.11,1310.35 L726.86,1311.33 L715.59,1312.09 L704.3,1312.63 L693,1312.95 L681.69,1313.05 L670.38,1312.94 L659.07,1312.6 L647.76,1312.04 L636.46,1311.27 L625.18,1310.27 L613.91,1309.06 L602.66,1307.62 L591.44,1305.97 L580.25,1304.1 L569.09,1302.01 L557.98,1299.71 L546.9,1297.19 L535.87,1294.45 L524.9,1291.5 L513.97,1288.34 L503.11,1284.96 L492.31,1281.38 L481.58,1277.58 L470.93,1273.57 L460.34,1269.36 L449.84,1264.94 L439.42,1260.31 L429.09,1255.49 L418.85,1250.46 L408.71,1245.23 L398.67,1239.8 L388.73,1234.18 L378.89,1228.36 L369.17,1222.36 L359.57,1216.16 L350.08,1209.77 L340.71,1203.2 L331.47,1196.45 L322.36,1189.52 L313.39,1182.41 L304.55,1175.12 L295.84,1167.66 L287.29,1160.03 L278.88,1152.23 L270.62,1144.27 L262.51,1136.15 L254.56,1127.87 L246.76,1119.43 L239.13,1110.84 L231.67,1102.1 L224.37,1093.21 L217.25,1084.18 L210.3,1075.01 L203.52,1065.71 L196.93,1056.27 L190.52,1046.7 L184.29,1037.01 L178.25,1027.19 L172.4,1017.26 L166.74,1007.21 L161.27,997.04 L156,986.77 L150.93,976.4 L146.06,965.93 L141.39,955.36 L136.93,944.69 L132.67,933.94 L128.62,923.11 L124.78,912.19 L121.15,901.2 L117.73,890.14 L114.53,879 L111.55,867.81 L108.78,856.55 L106.22,845.24 L103.89,833.88 L101.78,822.46 L99.89,811.01 L98.22,799.52 L96.77,787.99 L95.55,776.44 L94.55,764.86 L93.77,753.25 L93.22,741.63 L92.9,730 L92.8,718.36 L92.93,706.71 L93.28,695.07 L93.86,683.43 L94.66,671.8 L95.69,660.18 L96.95,648.59 L98.43,637.01 L100.14,625.46 L102.07,613.94 L104.22,602.46 L106.6,591.02 L109.2,579.62 L112.02,568.27 L115.07,556.98 L118.33,545.74 L121.81,534.56 L125.51,523.45 L129.42,512.41 L133.55,501.44 L137.89,490.55 L142.45,479.74 L147.21,469.02 L152.19,458.39 L157.37,447.86 L162.76,437.42 L168.35,427.09 L174.14,416.86 L180.13,406.75 L186.32,396.75 L192.7,386.87 L199.27,377.11 L206.04,367.47 L212.99,357.97 L220.13,348.6 L227.46,339.36 L234.96,330.27 L242.64,321.32 L250.5,312.52 L258.52,303.87 L266.72,295.37 L275.08,287.03 L283.61,278.86 L292.29,270.84 L301.14,263 L310.13,255.32 L319.28,247.82 L328.58,240.49 L338.01,233.35 L347.59,226.38 L357.31,219.6 L367.15,213.01 L377.13,206.6 L387.23,200.39 L397.46,194.38 L407.8,188.56 L418.26,182.94 L428.83,177.53 L439.5,172.32 L450.28,167.31 L461.16,162.52 L472.13,157.93 L483.19,153.55 L494.34,149.39 L505.57,145.45 L516.88,141.72 L528.27,138.21 L539.72,134.92 L551.24,131.86 L562.82,129.02 L574.46,126.4 L586.15,124 L597.89,121.83 L609.67,119.9 L621.49,118.18"/>
<path stroke="#000" stroke-width="1.3" d="M600.5,475.87 L589.42,445.43"/>
<path stroke="#000" stroke-width="1.3" d="M661.31,458.86 L657.55,426.69"/>
<path stroke="#000" stroke-width="1.3" d="M724.99,456.34 L728.75,424.17"/>
<path stroke="#000" stroke-width="1.3" d="M788.1,468.71 L799.18,438.27"/>
<path stroke="#000" stroke-width="1.3" d="M847.19,495.56 L865,468.49"/>
<path stroke="#000" stroke-width="1.3" d="M898.95,535.69 L922.51,513.46"/>
<path stroke="#000" stroke-width="1.3" d="M940.41,587.16 L968.47,570.96"/>
<path stroke="#000" stroke-width="1.3" d="M969.12,647.34 L1000.15,638.05"/>
<path stroke="#000" stroke-width="1.3" d="M983.27,713.09 L1015.61,711.21"/>
<path stroke="#000" stroke-width="1.3" d="M981.85,780.93 L1013.75,786.56"/>
<path stroke="#000" stroke-width="1.3" d="M964.65,847.18 L994.4,860.01"/>
<path stroke="#000" stroke-width="1.3" d="M932.34,908.19 L958.33,927.53"/>
<path stroke="#000" stroke-width="1.3" d="M886.43,960.53 L907.26,985.34"/>
<path stroke="#000" stroke-width="1.3" d="M829.2,1001.19 L843.74,1030.14"/>
<path stroke="#000" stroke-width="1.3" d="M763.57,1027.76 L771.04,1059.28"/>
<path stroke="#000" stroke-width="1.3" d="M693,1038.55 L693,1070.95"/>
<path stroke="#000" stroke-width="1.3" d="M621.26,1032.71 L613.79,1064.23"/>
<path stroke="#000" stroke-width="1.3" d="M552.24,1010.27 L537.7,1039.22"/>
<path stroke="#000" stroke-width="1.3" d="M489.77,972.2 L468.94,997.02"/>
<path stroke="#000" stroke-width="1.3" d="M437.35,920.32 L411.37,939.67"/>
<path stroke="#000" stroke-width="1.3" d="M398.02,857.24 L368.27,870.07"/>
<path stroke="#000" stroke-width="1.3" d="M374.12,786.23 L342.22,791.85"/>
<path stroke="#000" stroke-width="1.3" d="M367.22,711.02 L334.88,709.14"/>
<path stroke="#000" stroke-width="1.3" d="M377.94,635.68 L346.91,626.39"/>
<path stroke="#000" stroke-width="1.3" d="M405.98,564.29 L377.93,548.09"/>
<path stroke="#000" stroke-width="1.3" d="M450.09,500.82 L426.52,478.59"/>
<path stroke="#000" stroke-width="1.3" d="M508.09,448.86 L490.29,421.79"/>
<path stroke="#000" stroke-width="1.3" d="M577.04,411.41 L565.96,380.97"/>
<path stroke="#000" stroke-width="1.3" d="M653.35,390.73 L649.58,358.55"/>
<path stroke="#000" stroke-width="1.3" d="M732.95,388.2 L736.71,356.03"/>
<path stroke="#000" stroke-width="1.3" d="M811.57,404.24 L822.65,373.8"/>
<path stroke="#000" stroke-width="1.3" d="M884.89,438.24 L902.69,411.18"/>
<path stroke="#000" stroke-width="1.3" d="M948.85,488.62 L972.41,466.39"/>
<path stroke="#000" stroke-width="1.3" d="M999.82,552.86 L1027.87,536.66"/>
<path stroke="#000" stroke-width="1.3" d="M1034.84,627.66 L1065.87,618.37"/>
<path stroke="#000" stroke-width="1.3" d="M1051.76,709.1 L1084.1,707.22"/>
<path stroke="#000" stroke-width="1.3" d="M1049.41,792.84 L1081.31,798.47"/>
<path stroke="#000" stroke-width="1.3" d="M1027.64,874.35 L1057.39,887.18"/>
<path stroke="#000" stroke-width="1.3" d="M987.37,949.15 L1013.35,968.5"/>
<path stroke="#000" stroke-width="1.3" d="M930.53,1013.08 L951.35,1037.89"/>
<path stroke="#000" stroke-width="1.3" d="M859.98,1062.49 L874.52,1091.44"/>
<path stroke="#000" stroke-width="1.3" d="M779.39,1094.51 L786.86,1126.03"/>
<path stroke="#000" stroke-width="1.3" d="M693,1107.15 L693,1139.55"/>
<path stroke="#000" stroke-width="1.3" d="M605.44,1099.46 L597.97,1130.98"/>
<path stroke="#000" stroke-width="1.3" d="M521.45,1071.58 L506.92,1100.52"/>
<path stroke="#000" stroke-width="1.3" d="M445.67,1024.75 L424.85,1049.57"/>
<path stroke="#000" stroke-width="1.3" d="M382.33,961.29 L356.34,980.63"/>
<path stroke="#000" stroke-width="1.3" d="M335.03,884.41 L305.28,897.24"/>
<path stroke="#000" stroke-width="1.3" d="M306.57,798.14 L274.66,803.76"/>
<path stroke="#000" stroke-width="1.3" d="M298.73,707.04 L266.39,705.15"/>
<path stroke="#000" stroke-width="1.3" d="M312.22,616 L281.19,606.71"/>
<path stroke="#000" stroke-width="1.3" d="M346.57,529.99 L318.52,513.79"/>
<path stroke="#000" stroke-width="1.3" d="M400.19,453.75 L376.63,431.52"/>
<path stroke="#000" stroke-width="1.3" d="M470.39,391.54 L452.59,364.48"/>
<path stroke="#000" stroke-width="1.3" d="M553.58,346.94 L542.5,316.5"/>
<path stroke="#000" stroke-width="1.3" d="M645.38,322.59 L641.62,290.42"/>
<path stroke="#000" stroke-width="1.3" d="M740.91,320.07 L744.68,287.89"/>
<path stroke="#000" stroke-width="1.3" d="M835.03,339.78 L846.11,309.34"/>
<path stroke="#000" stroke-width="1.3" d="M922.59,380.93 L940.39,353.87"/>
<path stroke="#000" stroke-width="1.3" d="M998.75,441.54 L1022.31,419.31"/>
<path stroke="#000" stroke-width="1.3" d="M1059.23,518.56 L1087.28,502.36"/>
<path stroke="#000" stroke-width="1.3" d="M1100.55,607.99 L1131.59,598.7"/>
<path stroke="#000" stroke-width="1.3" d="M1120.24,705.12 L1152.58,703.23"/>
<path stroke="#000" stroke-width="1.3" d="M1116.97,804.76 L1148.87,810.38"/>
<path stroke="#000" stroke-width="1.3" d="M1090.63,901.52 L1120.38,914.35"/>
<path stroke="#000" stroke-width="1.3" d="M1042.4,990.12 L1068.38,1009.46"/>
<path stroke="#000" stroke-width="1.3" d="M974.62,1065.63 L995.45,1090.44"/>
<path stroke="#000" stroke-width="1.3" d="M890.77,1123.8 L905.31,1152.75"/>
<path stroke="#000" stroke-width="1.3" d="M795.21,1161.26 L802.68,1192.79"/>
<path stroke="#000" stroke-width="1.3" d="M693,1175.75 L693,1208.15"/>
<path stroke="#000" stroke-width="1.3" d="M589.62,1166.21 L582.15,1197.73"/>
<path stroke="#000" stroke-width="1.3" d="M490.67,1132.88 L476.13,1161.83"/>
<path stroke="#000" stroke-width="1.3" d="M401.58,1077.3 L380.75,1102.12"/>
<path stroke="#000" stroke-width="1.3" d="M327.3,1002.25 L301.32,1021.6"/>
<path stroke="#000" stroke-width="1.3" d="M272.04,911.58 L242.29,924.42"/>
<path stroke="#000" stroke-width="1.3" d="M239.01,810.05 L207.1,815.68"/>
<path stroke="#000" stroke-width="1.3" d="M230.25,703.05 L197.91,701.16"/>
<path stroke="#000" stroke-width="1.3" d="M246.5,596.33 L215.47,587.04"/>
<path stroke="#000" stroke-width="1.3" d="M287.16,495.69 L259.11,479.49"/>
<path stroke="#000" stroke-width="1.3" d="M350.29,406.67 L326.73,384.44"/>
<path stroke="#000" stroke-width="1.3" d="M432.7,334.23 L414.9,307.16"/>
<path stroke="#000" stroke-width="1.3" d="M530.12,282.48 L519.04,252.04"/>
<path stroke="#000" stroke-width="1.3" d="M637.42,254.46 L633.66,222.28"/>
<path stroke="#000" stroke-width="1.3" d="M748.88,251.93 L752.64,219.76"/>
<path stroke="#000" stroke-width="1.3" d="M858.49,275.32 L869.57,244.88"/>
<path stroke="#000" stroke-width="1.3" d="M960.28,323.62 L978.08,296.55"/>
<path stroke="#000" stroke-width="1.3" d="M1048.65,394.47 L1072.21,372.24"/>
<path stroke="#000" stroke-width="1.3" d="M1118.64,484.26 L1146.69,468.06"/>
<path stroke="#000" stroke-width="1.3" d="M1166.27,588.31 L1197.31,579.02"/>
<path stroke="#000" stroke-width="1.3" d="M1188.73,701.13 L1221.07,699.24"/>
<path stroke="#000" stroke-width="1.3" d="M1184.52,816.67 L1216.43,822.29"/>
<path stroke="#000" stroke-width="1.3" d="M1153.62,928.69 L1183.37,941.52"/>
<path stroke="#000" stroke-width="1.3" d="M1097.42,1031.08 L1123.41,1050.43"/>
<path stroke="#000" stroke-width="1.3" d="M1018.72,1118.18 L1039.54,1142.99"/>
<path stroke="#000" stroke-width="1.3" d="M921.56,1185.1 L936.1,1214.05"/>
<path stroke="#000" stroke-width="1.3" d="M811.03,1228.02 L818.5,1259.54"/>
<path stroke="#000" stroke-width="1.3" d="M693,1244.35 L693,1276.75"/>
<path stroke="#000" stroke-width="1.3" d="M573.8,1232.96 L566.33,1264.48"/>
<path stroke="#000" stroke-width="1.3" d="M459.88,1194.18 L445.34,1223.13"/>
<path stroke="#000" stroke-width="1.3" d="M357.48,1129.86 L336.66,1154.67"/>
<path stroke="#000" stroke-width="1.3" d="M272.27,1043.22 L246.29,1062.56"/>
<path stroke="#000" stroke-width="1.3" d="M209.05,938.76 L179.3,951.59"/>
<path stroke="#000" stroke-width="1.3" d="M171.45,821.96 L139.55,827.59"/>
<path stroke="#000" stroke-width="1.3" d="M161.76,699.06 L129.42,697.18"/>
<path stroke="#000" stroke-width="1.3" d="M180.78,576.65 L149.75,567.36"/>
<path stroke="#000" stroke-width="1.3" d="M227.76,461.39 L199.7,445.19"/>
<path stroke="#000" stroke-width="1.3" d="M300.39,359.59 L276.83,337.36"/>
<path stroke="#000" stroke-width="1.3" d="M395,276.91 L377.2,249.85"/>
<path stroke="#000" stroke-width="1.3" d="M506.65,218.02 L495.57,187.58"/>
<path stroke="#000" stroke-width="1.3" d="M629.45,186.32 L625.69,154.14"/>
<path stroke="#000" stroke-width="1.3" d="M756.84,183.8 L760.6,151.62"/>
<path stroke="#000" stroke-width="1.3" d="M881.95,210.85 L893.03,180.41"/>
<path stroke="#000" stroke-width="1.3" d="M997.98,266.3 L1015.78,239.24"/>
<path stroke="#000" stroke-width="1.3" d="M1098.54,347.39 L1122.11,325.16"/>
<path stroke="#000" stroke-width="1.3" d="M1178.05,449.96 L1206.1,433.76"/>
<path stroke="#000" stroke-width="1.3" d="M1231.99,568.64 L1263.02,559.35"/>
<path stroke="#000" stroke-width="1.3" d="M1257.21,697.14 L1289.55,695.26"/>
<path stroke="#000" stroke-width="1.3" d="M1252.08,828.58 L1283.98,834.21"/>
<path stroke="#000" stroke-width="1.3" d="M1216.61,955.86 L1246.36,968.69"/>
<path stroke="#000" stroke-width="1.3" d="M1152.45,1072.05 L1178.43,1091.39"/>
<path stroke="#000" stroke-width="1.3" d="M1062.81,1170.73 L1083.64,1195.54"/>
<path stroke="#000" stroke-width="1.3" d="M952.35,1246.4 L966.89,1275.35"/>
<path stroke="#000" stroke-width="1.3" d="M826.85,1294.77 L834.32,1326.29"/>
<path stroke="#000" stroke-width="1.3" d="M693,1312.95 L693,1345.35"/>
<path stroke="#000" stroke-width="1.3" d="M557.98,1299.71 L550.51,1331.23"/>
<path stroke="#000" stroke-width="1.3" d="M429.09,1255.49 L414.55,1284.43"/>
<path stroke="#000" stroke-width="1.3" d="M313.39,1182.41 L292.56,1207.22"/>
<path stroke="#000" stroke-width="1.3" d="M217.25,1084.18 L191.26,1103.53"/>
<path stroke="#000" stroke-width="1.3" d="M146.06,965.93 L116.31,978.76"/>
<path stroke="#000" stroke-width="1.3" d="M103.89,833.88 L71.99,839.5"/>
<path stroke="#000" stroke-width="1.3" d="M93.28,695.07 L60.94,693.19"/>
<path stroke="#000" stroke-width="1.3" d="M115.07,556.98 L84.03,547.69"/>
<path stroke="#000" stroke-width="1.3" d="M168.35,427.09 L140.29,410.89"/>
<path stroke="#000" stroke-width="1.3" d="M250.5,312.52 L226.93,290.29"/>
<path stroke="#000" stroke-width="1.3" d="M357.31,219.6 L339.5,192.54"/>
<path stroke="#000" stroke-width="1.3" d="M483.19,153.55 L472.11,123.11"/>
<path stroke="#000" stroke-width="1.3" d="M621.49,118.18 L617.73,86.01"/>
<text class="lb" transform="translate(693 470.25) rotate(0)" x="0" y="6.3" textLength="66" lengthAdjust="spacingAndGlyphs">23-May</text>
<text class="lb" transform="translate(864.86 525.18) rotate(40)" x="0" y="6.3" textLength="66" lengthAdjust="spacingAndGlyphs">26-May</text>
<text class="lb" transform="translate(963.82 682.25) rotate(80)" x="0" y="6.3" textLength="66" lengthAdjust="spacingAndGlyphs">29-May</text>
<text class="lb" transform="translate(937.75 871.31) rotate(-60)" x="0" y="6.3" textLength="66" lengthAdjust="spacingAndGlyphs">01-Jun</text>
<text class="lb" transform="translate(792.27 1002.74) rotate(-20)" x="0" y="6.3" textLength="66" lengthAdjust="spacingAndGlyphs">04-Jun</text>
<text class="lb" transform="translate(591.12 1009.9) rotate(20)" x="0" y="6.3" textLength="66" lengthAdjust="spacingAndGlyphs">07-Jun</text>
<text class="lb" transform="translate(428.44 882.74) rotate(60)" x="0" y="6.3" textLength="66" lengthAdjust="spacingAndGlyphs">10-Jun</text>
<text class="lb" transform="translate(384.65 675.63) rotate(-80)" x="0" y="6.3" textLength="66" lengthAdjust="spacingAndGlyphs">13-Jun</text>
<text class="lb" transform="translate(486.84 484.31) rotate(-40)" x="0" y="6.3" textLength="66" lengthAdjust="spacingAndGlyphs">16-Jun</text>
<text class="lb" transform="translate(693 401.65) rotate(0)" x="0" y="6.3" textLength="66" lengthAdjust="spacingAndGlyphs">19-Jun</text>
<text class="lb" transform="translate(908.96 472.63) rotate(40)" x="0" y="6.3" textLength="66" lengthAdjust="spacingAndGlyphs">22-Jun</text>
<text class="lb" transform="translate(1031.38 670.34) rotate(80)" x="0" y="6.3" textLength="66" lengthAdjust="spacingAndGlyphs">25-Jun</text>
<text class="lb" transform="translate(997.16 905.61) rotate(-60)" x="0" y="6.3" textLength="66" lengthAdjust="spacingAndGlyphs">28-Jun</text>
<text class="lb" transform="translate(815.73 1067.2) rotate(-20)" x="0" y="6.3" textLength="66" lengthAdjust="spacingAndGlyphs">01-Jul</text>
<text class="lb" transform="translate(567.66 1074.36) rotate(20)" x="0" y="6.3" textLength="66" lengthAdjust="spacingAndGlyphs">04-Jul</text>
<text class="lb" transform="translate(369.03 917.04) rotate(60)" x="0" y="6.3" textLength="66" lengthAdjust="spacingAndGlyphs">07-Jul</text>
<text class="lb" transform="translate(317.09 663.72) rotate(-80)" x="0" y="6.3" textLength="66" lengthAdjust="spacingAndGlyphs">10-Jul</text>
<text class="lb" transform="translate(442.74 431.76) rotate(-40)" x="0" y="6.3" textLength="66" lengthAdjust="spacingAndGlyphs">13-Jul</text>
<text class="lb" transform="translate(693 333.05) rotate(0)" x="0" y="6.3" textLength="66" lengthAdjust="spacingAndGlyphs">16-Jul</text>
<text class="lb" transform="translate(953.06 420.08) rotate(40)" x="0" y="6.3" textLength="66" lengthAdjust="spacingAndGlyphs">19-Jul</text>
<text class="lb" transform="translate(1098.93 658.42) rotate(80)" x="0" y="6.3" textLength="66" lengthAdjust="spacingAndGlyphs">22-Jul</text>
<text class="lb" transform="translate(1056.57 939.91) rotate(-60)" x="0" y="6.3" textLength="66" lengthAdjust="spacingAndGlyphs">25-Jul</text>
<text class="lb" transform="translate(839.19 1131.66) rotate(-20)" x="0" y="6.3" textLength="66" lengthAdjust="spacingAndGlyphs">28-Jul</text>
<text class="lb" transform="translate(544.2 1138.83) rotate(20)" x="0" y="6.3" textLength="66" lengthAdjust="spacingAndGlyphs">31-Jul</text>
<text class="lb" transform="translate(309.62 951.34) rotate(60)" x="0" y="6.3" textLength="66" lengthAdjust="spacingAndGlyphs">03-Aug</text>
<text class="lb" transform="translate(249.53 651.8) rotate(-80)" x="0" y="6.3" textLength="66" lengthAdjust="spacingAndGlyphs">06-Aug</text>
<text class="lb" transform="translate(398.65 379.21) rotate(-40)" x="0" y="6.3" textLength="66" lengthAdjust="spacingAndGlyphs">09-Aug</text>
<text class="lb" transform="translate(693 264.45) rotate(0)" x="0" y="6.3" textLength="66" lengthAdjust="spacingAndGlyphs">12-Aug</text>
<text class="lb" transform="translate(997.15 367.53) rotate(40)" x="0" y="6.3" textLength="66" lengthAdjust="spacingAndGlyphs">15-Aug</text>
<text class="lb" transform="translate(1166.49 646.51) rotate(80)" x="0" y="6.3" textLength="66" lengthAdjust="spacingAndGlyphs">18-Aug</text>
<text class="lb" transform="translate(1115.98 974.21) rotate(-60)" x="0" y="6.3" textLength="66" lengthAdjust="spacingAndGlyphs">21-Aug</text>
<text class="lb" transform="translate(862.66 1196.13) rotate(-20)" x="0" y="6.3" textLength="66" lengthAdjust="spacingAndGlyphs">24-Aug</text>
<text class="lb" transform="translate(520.74 1203.29) rotate(20)" x="0" y="6.3" textLength="66" lengthAdjust="spacingAndGlyphs">27-Aug</text>
<text class="lb" transform="translate(250.21 985.64) rotate(60)" x="0" y="6.3" textLength="66" lengthAdjust="spacingAndGlyphs">30-Aug</text>
<text class="lb" transform="translate(181.98 639.89) rotate(-80)" x="0" y="6.3" textLength="66" lengthAdjust="spacingAndGlyphs">02-Sep</text>
<text class="lb" transform="translate(354.55 326.65) rotate(-40)" x="0" y="6.3" textLength="66" lengthAdjust="spacingAndGlyphs">05-Sep</text>
<text class="lb" transform="translate(693 195.85) rotate(0)" x="0" y="6.3" textLength="66" lengthAdjust="spacingAndGlyphs">08-Sep</text>
<text class="lb" transform="translate(1041.25 314.98) rotate(40)" x="0" y="6.3" textLength="66" lengthAdjust="spacingAndGlyphs">11-Sep</text>
<text class="lb" transform="translate(1234.05 634.6) rotate(80)" x="0" y="6.3" textLength="66" lengthAdjust="spacingAndGlyphs">14-Sep</text>
<text class="lb" transform="translate(1175.39 1008.51) rotate(-60)" x="0" y="6.3" textLength="66" lengthAdjust="spacingAndGlyphs">17-Sep</text>
<text class="lb" transform="translate(886.12 1260.59) rotate(-20)" x="0" y="6.3" textLength="66" lengthAdjust="spacingAndGlyphs">20-Sep</text>
<text class="lb" transform="translate(497.27 1267.75) rotate(20)" x="0" y="6.3" textLength="66" lengthAdjust="spacingAndGlyphs">23-Sep</text>
<text class="lb" transform="translate(190.8 1019.94) rotate(60)" x="0" y="6.3" textLength="66" lengthAdjust="spacingAndGlyphs">26-Sep</text>
<text class="lb" transform="translate(114.42 627.98) rotate(-80)" x="0" y="6.3" textLength="66" lengthAdjust="spacingAndGlyphs">29-Sep</text>
<g>
<circle cx="42" cy="28.4" r="14.9" fill="#aaaaaa"/>
<circle cx="42" cy="84.3" r="14.4" fill="none" stroke="#b0b0b0" stroke-width="1.4"/>
<text class="sm" x="71" y="28">New Moon</text>
<text class="sm" x="71" y="83.6">Full Moon</text>
<text class="sm" x="1393" y="38" text-anchor="end">Period: 27 days</text>
<text class="sm" x="5" y="1395">GI-UAF 2023</text>
<text class="sm" x="1392" y="1395.5" text-anchor="end">Condegram plotted Oct 05 at 08:01 UT</text>
<text x="713.5" y="50" text-anchor="middle" style="font-size:15px;font-weight:bold">250</text>
<text x="713.5" y="73" text-anchor="middle" style="font-size:15px;font-weight:bold">190</text>
<text x="713.5" y="96" text-anchor="middle" style="font-size:15px;font-weight:bold">130</text>
<path stroke="#000" stroke-width="1.5" d="M688 573 V642 M671 573.5 H707 M671 641.5 H707"/>
<text class="sm" x="718" y="580" style="font-size:18.5px">250 sfu</text>
<text class="sm" x="718" y="648" style="font-size:18.5px">70 sfu</text>
<text class="red" x="695" y="728" text-anchor="middle" style="font-family:'Liberation Serif',serif;font-style:italic;font-size:34px">10.7 cm Solar</text>
<text class="red" x="692" y="759" text-anchor="middle" style="font-family:'Liberation Serif',serif;font-style:italic;font-size:34px">Radio Flux</text>
<text class="red" x="692" y="804" text-anchor="middle" style="font-size:33px">70 sfu</text>
<text class="red" x="693" y="885" text-anchor="middle" style="font-size:28px">Latest: 20:00 UT</text>
<text class="red" x="693" y="912" text-anchor="middle" style="font-size:28px">2023-Oct-04</text>
</g>
</svg>
</body></html>
